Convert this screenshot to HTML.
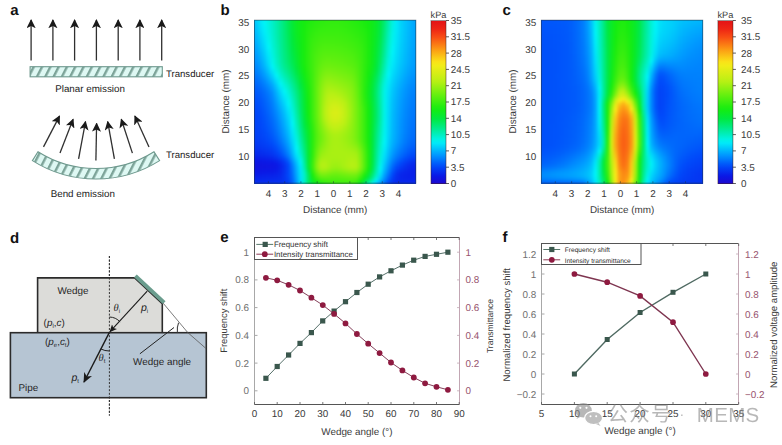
<!DOCTYPE html><html><head><meta charset="utf-8"><style>
html,body{margin:0;padding:0;background:#fff;}
body{width:782px;height:445px;position:relative;overflow:hidden;}
.hm{position:absolute;overflow:hidden;}
.hmi{position:absolute;filter:blur(0.8px);}
.hmi i{position:absolute;left:0;right:0;display:block;}
.cb{position:absolute;}
svg{position:absolute;left:0;top:0;}
text{font-family:'Liberation Sans',Arial,sans-serif;fill:#4a4a4a;text-rendering:geometricPrecision;}
.pl{font-size:15px;font-weight:bold;fill:#111;}
.t95{font-size:9.6px;fill:#1a1a1a;}
.t9{font-size:9.9px;fill:#262626;}
.mi{font-family:'Liberation Serif',serif;font-style:italic;}
.pi{font-style:italic;}
.t98{font-size:9.8px;fill:#1a1a1a;}
.tk{font-size:9.9px;fill:#3a3a3a;}
.tkc{font-size:9.2px;fill:#3a3a3a;}
.tkr{font-size:9.9px;fill:#98546e;}
.tkl{font-size:9.9px;fill:#707070;}
.lg{font-size:7.9px;fill:#333;}
.lg2{font-size:6.6px;fill:#2a2a2a;}
.wm{font-family:'Liberation Sans','Noto Sans CJK SC',sans-serif;font-weight:400;font-size:20.5px;letter-spacing:1.2px;fill:#8c8c8c;opacity:0.62;}
.wm2{font-family:'Liberation Sans',sans-serif;font-size:20.5px;letter-spacing:0.3px;fill:#8e8e8e;}
.wm3{font-family:'Liberation Sans',sans-serif;font-size:14px;letter-spacing:0;fill:#8e8e8e;}
</style></head><body>
<div class="hm" style="left:254px;top:20px;width:162px;height:164px"><div class="hmi" style="left:-6px;top:-6px;width:174px;height:176px"><i style="top:0px;height:2px;background:linear-gradient(90deg,#00bbfc 0.5px,#00bbfc 4.5px,#00cefb 8.5px,#00e7f9 12.5px,#00f4f4 16.5px,#00f2e0 20.5px,#00f0c9 24.5px,#00eeae 28.5px,#00ec92 32.5px,#00eb74 36.5px,#00ea54 40.5px,#05ea36 44.5px,#0deb22 48.5px,#11ec16 52.5px,#15ec0f 56.5px,#1cec0f 60.5px,#21ed0f 64.5px,#25ed0f 68.5px,#2aed0f 72.5px,#2ded0f 76.5px,#30ed0f 80.5px,#31ed0f 84.5px,#32ed0f 88.5px,#30ed0f 92.5px,#2eed0f 96.5px,#2aed0f 100.5px,#26ed0f 104.5px,#22ed0f 108.5px,#1dec0f 112.5px,#18ec0f 116.5px,#13ec12 120.5px,#10eb1a 124.5px,#0aea28 128.5px,#00e943 132.5px,#00eb71 136.5px,#00eda9 140.5px,#00f2df 144.5px,#00eaf9 148.5px,#00d5fa 152.5px,#00c6fc 156.5px,#00b9fd 160.5px,#00acfe 164.5px,#00a2fe 168.5px,#00a1fe 172.5px,#00a1fe 173.5px)"></i>
<i style="top:2px;height:2px;background:linear-gradient(90deg,#00bbfd 0.5px,#00bbfc 4.5px,#00cefb 8.5px,#00e7f9 12.5px,#00f4f4 16.5px,#00f2e0 20.5px,#00f0c9 24.5px,#00eeae 28.5px,#00ec92 32.5px,#00eb74 36.5px,#00ea54 40.5px,#05ea36 44.5px,#0deb22 48.5px,#11ec16 52.5px,#15ec0f 56.5px,#1cec0f 60.5px,#21ed0f 64.5px,#25ed0f 68.5px,#2aed0f 72.5px,#2ded0f 76.5px,#30ed0f 80.5px,#31ed0f 84.5px,#32ed0f 88.5px,#30ed0f 92.5px,#2eed0f 96.5px,#2aed0f 100.5px,#26ed0f 104.5px,#22ed0f 108.5px,#1dec0f 112.5px,#18ec0f 116.5px,#13ec12 120.5px,#10eb1a 124.5px,#0aea28 128.5px,#00e943 132.5px,#00eb71 136.5px,#00eda9 140.5px,#00f2df 144.5px,#00eaf9 148.5px,#00d5fa 152.5px,#00c6fc 156.5px,#00b9fd 160.5px,#00acfe 164.5px,#00a2fe 168.5px,#00a1ff 172.5px,#00a1ff 173.5px)"></i>
<i style="top:4px;height:2px;background:linear-gradient(90deg,#00bbfd 0.5px,#00bbfc 4.5px,#00cefb 8.5px,#00e7f9 12.5px,#00f4f4 16.5px,#00f2e0 20.5px,#00f0c9 24.5px,#00eeae 28.5px,#00ec92 32.5px,#00eb74 36.5px,#00ea54 40.5px,#05ea36 44.5px,#0ceb22 48.5px,#11ec16 52.5px,#15ec0f 56.5px,#1cec0f 60.5px,#21ed0f 64.5px,#26ed0f 68.5px,#2aed0f 72.5px,#2ded0f 76.5px,#30ed0f 80.5px,#31ed0f 84.5px,#32ed0f 88.5px,#30ed0f 92.5px,#2eed0f 96.5px,#2bed0f 100.5px,#26ed0f 104.5px,#22ed0f 108.5px,#1eec0f 112.5px,#18ec0f 116.5px,#13ec11 120.5px,#10eb1a 124.5px,#0aea28 128.5px,#00e943 132.5px,#00eb71 136.5px,#00eda9 140.5px,#00f2e0 144.5px,#00eaf9 148.5px,#00d5fa 152.5px,#00c6fc 156.5px,#00b9fd 160.5px,#00acfe 164.5px,#00a2fe 168.5px,#00a1ff 172.5px,#00a1ff 173.5px)"></i>
<i style="top:6px;height:2px;background:linear-gradient(90deg,#00bafd 0.5px,#00bafd 4.5px,#00cdfb 8.5px,#00e6f9 12.5px,#00f4f5 16.5px,#00f2e0 20.5px,#00f0c9 24.5px,#00eeaf 28.5px,#00ec92 32.5px,#00eb74 36.5px,#00ea54 40.5px,#05ea36 44.5px,#0ceb22 48.5px,#11ec16 52.5px,#15ec0f 56.5px,#1dec0f 60.5px,#22ed0f 64.5px,#27ed0f 68.5px,#2bed0f 72.5px,#2eed0f 76.5px,#31ed0f 80.5px,#32ed0f 84.5px,#32ed0f 88.5px,#31ed0f 92.5px,#2eed0f 96.5px,#2bed0f 100.5px,#27ed0f 104.5px,#23ed0f 108.5px,#1fec0f 112.5px,#19ec0f 116.5px,#13ec11 120.5px,#10eb1a 124.5px,#0aea28 128.5px,#00e943 132.5px,#00eb72 136.5px,#00edaa 140.5px,#00f2e0 144.5px,#00eaf9 148.5px,#00d4fa 152.5px,#00c6fc 156.5px,#00b9fd 160.5px,#00acfe 164.5px,#00a2fe 168.5px,#00a1ff 172.5px,#00a1ff 173.5px)"></i>
<i style="top:8px;height:2px;background:linear-gradient(90deg,#00b8fd 0.5px,#00b8fd 4.5px,#00cbfb 8.5px,#00e3f9 12.5px,#00f4f7 16.5px,#00f2e0 20.5px,#00f0c9 24.5px,#00eeaf 28.5px,#00ec92 32.5px,#00eb74 36.5px,#00ea54 40.5px,#05ea36 44.5px,#0ceb22 48.5px,#11ec16 52.5px,#16ec0f 56.5px,#1fec0f 60.5px,#24ed0f 64.5px,#29ed0f 68.5px,#2ded0f 72.5px,#30ed0f 76.5px,#32ed0f 80.5px,#33ed0f 84.5px,#33ed0f 88.5px,#32ed0f 92.5px,#30ed0f 96.5px,#2ded0f 100.5px,#29ed0f 104.5px,#25ed0f 108.5px,#20ed0f 112.5px,#1bec0f 116.5px,#14ec10 120.5px,#10eb1a 124.5px,#0aea29 128.5px,#00e944 132.5px,#00eb74 136.5px,#00eead 140.5px,#00f2e1 144.5px,#00eaf9 148.5px,#00d4fa 152.5px,#00c6fc 156.5px,#00b9fd 160.5px,#00acfe 164.5px,#00a2fe 168.5px,#00a1ff 172.5px,#00a1ff 173.5px)"></i>
<i style="top:10px;height:2px;background:linear-gradient(90deg,#00b6fd 0.5px,#00b6fd 4.5px,#00c8fb 8.5px,#00e1fa 12.5px,#00f3f8 16.5px,#00f2e1 20.5px,#00f0c9 24.5px,#00eeaf 28.5px,#00ec92 32.5px,#00eb74 36.5px,#00ea54 40.5px,#04ea36 44.5px,#0ceb22 48.5px,#11ec16 52.5px,#17ec0f 56.5px,#20ed0f 60.5px,#27ed0f 64.5px,#2ced0f 68.5px,#2fed0f 72.5px,#32ed0f 76.5px,#33ed0f 80.5px,#34ee0f 84.5px,#34ee0f 88.5px,#33ed0f 92.5px,#31ed0f 96.5px,#2eed0f 100.5px,#2bed0f 104.5px,#27ed0f 108.5px,#22ed0f 112.5px,#1dec0f 116.5px,#14ec0f 120.5px,#10eb1a 124.5px,#0aea29 128.5px,#00e945 132.5px,#00eb76 136.5px,#00eeaf 140.5px,#00f2e2 144.5px,#00e9f9 148.5px,#00d4fa 152.5px,#00c5fc 156.5px,#00b9fd 160.5px,#00acfe 164.5px,#00a2fe 168.5px,#00a1ff 172.5px,#00a1ff 173.5px)"></i>
<i style="top:12px;height:2px;background:linear-gradient(90deg,#00b4fd 0.5px,#00b4fd 4.5px,#00c6fc 8.5px,#00defa 12.5px,#00f1f8 16.5px,#00f2e2 20.5px,#00f0ca 24.5px,#00eeaf 28.5px,#00ec92 32.5px,#00eb75 36.5px,#00ea55 40.5px,#04ea36 44.5px,#0ceb23 48.5px,#11ec17 52.5px,#17ec0f 56.5px,#22ed0f 60.5px,#29ed0f 64.5px,#2eed0f 68.5px,#32ed0f 72.5px,#34ee0f 76.5px,#35ee0f 80.5px,#36ee0f 84.5px,#36ee0f 88.5px,#35ee0f 92.5px,#33ed0f 96.5px,#30ed0f 100.5px,#2ded0f 104.5px,#29ed0f 108.5px,#24ed0f 112.5px,#1eec0f 116.5px,#15ec0f 120.5px,#10eb1a 124.5px,#0aea29 128.5px,#00e946 132.5px,#00eb78 136.5px,#00eeb2 140.5px,#00f2e4 144.5px,#00e9f9 148.5px,#00d4fb 152.5px,#00c5fc 156.5px,#00b8fd 160.5px,#00acfe 164.5px,#00a2fe 168.5px,#00a1ff 172.5px,#00a1ff 173.5px)"></i>
<i style="top:14px;height:2px;background:linear-gradient(90deg,#00b2fd 0.5px,#00b2fd 4.5px,#00c3fc 8.5px,#00dcfa 12.5px,#00eff8 16.5px,#00f2e3 20.5px,#00f0cb 24.5px,#00eeb0 28.5px,#00ec93 32.5px,#00eb75 36.5px,#00ea55 40.5px,#04ea37 44.5px,#0ceb23 48.5px,#11ec17 52.5px,#18ec0f 56.5px,#23ed0f 60.5px,#2bed0f 64.5px,#30ed0f 68.5px,#34ee0f 72.5px,#36ee0f 76.5px,#37ee0f 80.5px,#37ee0f 84.5px,#37ee0f 88.5px,#36ee0f 92.5px,#34ee0f 96.5px,#32ed0f 100.5px,#2fed0f 104.5px,#2bed0f 108.5px,#26ed0f 112.5px,#20ed0f 116.5px,#16ec0f 120.5px,#10eb1a 124.5px,#09ea2a 128.5px,#00e947 132.5px,#00eb7a 136.5px,#00eeb4 140.5px,#00f2e5 144.5px,#00e8f9 148.5px,#00d4fb 152.5px,#00c5fc 156.5px,#00b8fd 160.5px,#00abfe 164.5px,#00a2fe 168.5px,#00a1ff 172.5px,#00a1ff 173.5px)"></i>
<i style="top:16px;height:2px;background:linear-gradient(90deg,#00b0fd 0.5px,#00b0fd 4.5px,#00c1fc 8.5px,#00d9fa 12.5px,#00edf9 16.5px,#00f2e5 20.5px,#00f0cc 24.5px,#00eeb1 28.5px,#00ec93 32.5px,#00eb76 36.5px,#00ea56 40.5px,#04ea38 44.5px,#0ceb24 48.5px,#11ec17 52.5px,#18ec0f 56.5px,#25ed0f 60.5px,#2ded0f 64.5px,#33ed0f 68.5px,#36ee0f 72.5px,#38ee0f 76.5px,#39ee0f 80.5px,#39ee0f 84.5px,#39ee0f 88.5px,#38ee0f 92.5px,#36ee0f 96.5px,#33ed0f 100.5px,#31ed0f 104.5px,#2ded0f 108.5px,#28ed0f 112.5px,#22ed0f 116.5px,#17ec0f 120.5px,#10eb1a 124.5px,#09ea2a 128.5px,#00e948 132.5px,#00eb7c 136.5px,#00eeb7 140.5px,#00f2e6 144.5px,#00e8f9 148.5px,#00d3fb 152.5px,#00c5fc 156.5px,#00b8fd 160.5px,#00abfe 164.5px,#00a1fe 168.5px,#00a1ff 172.5px,#00a1ff 173.5px)"></i>
<i style="top:18px;height:2px;background:linear-gradient(90deg,#00adfe 0.5px,#00aefe 4.5px,#00befc 8.5px,#00d6fa 12.5px,#00ebf9 16.5px,#00f2e7 20.5px,#00f0cd 24.5px,#00eeb1 28.5px,#00ec94 32.5px,#00eb76 36.5px,#00ea57 40.5px,#03ea38 44.5px,#0beb24 48.5px,#11ec17 52.5px,#19ec0f 56.5px,#26ed0f 60.5px,#2fed0f 64.5px,#35ee0f 68.5px,#39ee0f 72.5px,#3aee0f 76.5px,#3bee0f 80.5px,#3bee0f 84.5px,#3bee0f 88.5px,#3aee0f 92.5px,#38ee0f 96.5px,#35ee0f 100.5px,#33ed0f 104.5px,#2fed0f 108.5px,#2aed0f 112.5px,#23ed0f 116.5px,#18ec0f 120.5px,#10eb1a 124.5px,#09ea2b 128.5px,#00e949 132.5px,#00eb7e 136.5px,#00efba 140.5px,#00f3e8 144.5px,#00e7f9 148.5px,#00d3fb 152.5px,#00c4fc 156.5px,#00b7fd 160.5px,#00abfe 164.5px,#00a1ff 168.5px,#00a1ff 172.5px,#00a1ff 173.5px)"></i>
<i style="top:20px;height:2px;background:linear-gradient(90deg,#00abfe 0.5px,#00abfe 4.5px,#00bbfc 8.5px,#00d3fb 12.5px,#00e9f9 16.5px,#00f3e9 20.5px,#00f0ce 24.5px,#00eeb2 28.5px,#00ec95 32.5px,#00eb77 36.5px,#00ea58 40.5px,#03e939 44.5px,#0beb25 48.5px,#11ec17 52.5px,#19ec0f 56.5px,#27ed0f 60.5px,#31ed0f 64.5px,#37ee0f 68.5px,#3bee0f 72.5px,#3dee0f 76.5px,#3dee0f 80.5px,#3dee0f 84.5px,#3dee0f 88.5px,#3cee0f 92.5px,#3aee0f 96.5px,#37ee0f 100.5px,#35ee0f 104.5px,#31ed0f 108.5px,#2ced0f 112.5px,#25ed0f 116.5px,#19ec0f 120.5px,#10eb1a 124.5px,#09ea2b 128.5px,#00e94b 132.5px,#00eb81 136.5px,#00efbc 140.5px,#00f3e9 144.5px,#00e6f9 148.5px,#00d2fb 152.5px,#00c4fc 156.5px,#00b7fd 160.5px,#00aafe 164.5px,#00a1ff 168.5px,#00a0ff 172.5px,#00a0ff 173.5px)"></i>
<i style="top:22px;height:2px;background:linear-gradient(90deg,#00a9fe 0.5px,#00a9fe 4.5px,#00b9fd 8.5px,#00d0fb 12.5px,#00e6f9 16.5px,#00f3eb 20.5px,#00f1cf 24.5px,#00eeb3 28.5px,#00ec95 32.5px,#00eb78 36.5px,#00ea59 40.5px,#03e93a 44.5px,#0beb26 48.5px,#11eb17 52.5px,#19ec0f 56.5px,#28ed0f 60.5px,#33ed0f 64.5px,#39ee0f 68.5px,#3dee0f 72.5px,#3fee0f 76.5px,#3fee0f 80.5px,#3fee0f 84.5px,#3fee0f 88.5px,#3eee0f 92.5px,#3cee0f 96.5px,#3aee0f 100.5px,#37ee0f 104.5px,#33ed0f 108.5px,#2eed0f 112.5px,#26ed0f 116.5px,#19ec0f 120.5px,#10eb1a 124.5px,#08ea2c 128.5px,#00e94d 132.5px,#00eb83 136.5px,#00efbf 140.5px,#00f3eb 144.5px,#00e5f9 148.5px,#00d2fb 152.5px,#00c3fc 156.5px,#00b6fd 160.5px,#00aafe 164.5px,#00a1ff 168.5px,#00a0ff 172.5px,#00a0ff 173.5px)"></i>
<i style="top:24px;height:2px;background:linear-gradient(90deg,#00a7fe 0.5px,#00a7fe 4.5px,#00b6fd 8.5px,#00cdfb 12.5px,#00e3f9 16.5px,#00f3ed 20.5px,#00f1d1 24.5px,#00eeb4 28.5px,#00ec96 32.5px,#00eb79 36.5px,#00ea5a 40.5px,#02e93b 44.5px,#0aeb27 48.5px,#11eb18 52.5px,#19ec0f 56.5px,#29ed0f 60.5px,#35ee0f 64.5px,#3bee0f 68.5px,#40ee0f 72.5px,#42ee0f 76.5px,#42ee0f 80.5px,#42ee0f 84.5px,#41ee0f 88.5px,#40ee0f 92.5px,#3eee0f 96.5px,#3cee0f 100.5px,#39ee0f 104.5px,#35ee0f 108.5px,#2fed0f 112.5px,#27ed0f 116.5px,#1aec0f 120.5px,#10eb1a 124.5px,#08ea2d 128.5px,#00e94f 132.5px,#00eb86 136.5px,#00efc2 140.5px,#00f3ec 144.5px,#00e5f9 148.5px,#00d1fb 152.5px,#00c3fc 156.5px,#00b6fd 160.5px,#00a9fe 164.5px,#00a0ff 168.5px,#00a0ff 172.5px,#00a0ff 173.5px)"></i>
<i style="top:26px;height:2px;background:linear-gradient(90deg,#00a4fe 0.5px,#00a5fe 4.5px,#00b3fd 8.5px,#00cafb 12.5px,#00e1fa 16.5px,#00f3f0 20.5px,#00f1d3 24.5px,#00eeb6 28.5px,#00ec97 32.5px,#00eb7a 36.5px,#00ea5b 40.5px,#02e93c 44.5px,#0aeb28 48.5px,#10eb18 52.5px,#1aec0f 56.5px,#2aed0f 60.5px,#36ee0f 64.5px,#3dee0f 68.5px,#42ee0f 72.5px,#44ee0f 76.5px,#44ee0f 80.5px,#44ee0f 84.5px,#43ee0f 88.5px,#42ee0f 92.5px,#40ee0f 96.5px,#3eee0f 100.5px,#3bee0f 104.5px,#37ee0f 108.5px,#31ed0f 112.5px,#28ed0f 116.5px,#1aec0f 120.5px,#10eb1a 124.5px,#08ea2e 128.5px,#00ea50 132.5px,#00eb88 136.5px,#00f0c4 140.5px,#00f3ee 144.5px,#00e4f9 148.5px,#00d1fb 152.5px,#00c2fc 156.5px,#00b5fd 160.5px,#00a9fe 164.5px,#00a0ff 168.5px,#009fff 172.5px,#009fff 173.5px)"></i>
<i style="top:28px;height:2px;background:linear-gradient(90deg,#00a2fe 0.5px,#00a2fe 4.5px,#00b0fd 8.5px,#00c7fc 12.5px,#00defa 16.5px,#00f4f3 20.5px,#00f1d5 24.5px,#00eeb7 28.5px,#00ec98 32.5px,#00eb7b 36.5px,#00ea5d 40.5px,#01e93d 44.5px,#0aea29 48.5px,#10eb18 52.5px,#1aec0f 56.5px,#2aed0f 60.5px,#38ee0f 64.5px,#3fee0f 68.5px,#44ee0f 72.5px,#47ee0f 76.5px,#47ee0f 80.5px,#47ee0f 84.5px,#46ee0f 88.5px,#45ee0f 92.5px,#43ee0f 96.5px,#40ee0f 100.5px,#3dee0f 104.5px,#39ee0f 108.5px,#33ed0f 112.5px,#29ed0f 116.5px,#1bec0f 120.5px,#10eb1a 124.5px,#07ea2f 128.5px,#00ea53 132.5px,#00eb8b 136.5px,#00f0c7 140.5px,#00f3f0 144.5px,#00e3f9 148.5px,#00d0fb 152.5px,#00c1fc 156.5px,#00b4fd 160.5px,#00a8fe 164.5px,#00a0ff 168.5px,#009fff 172.5px,#009fff 173.5px)"></i>
<i style="top:30px;height:2px;background:linear-gradient(90deg,#00a0ff 0.5px,#00a0ff 4.5px,#00adfe 8.5px,#00c4fc 12.5px,#00dbfa 16.5px,#00f4f5 20.5px,#00f1d7 24.5px,#00efb8 28.5px,#00ec99 32.5px,#00eb7c 36.5px,#00ea5e 40.5px,#01e93f 44.5px,#09ea2a 48.5px,#10eb19 52.5px,#1aec0f 56.5px,#2bed0f 60.5px,#39ee0f 64.5px,#41ee0f 68.5px,#47ee0f 72.5px,#4aef0f 76.5px,#4aef0f 80.5px,#49ef0f 84.5px,#49ee0f 88.5px,#47ee0f 92.5px,#45ee0f 96.5px,#43ee0f 100.5px,#40ee0f 104.5px,#3bee0f 108.5px,#34ee0f 112.5px,#2aed0f 116.5px,#1bec0f 120.5px,#10eb1a 124.5px,#07ea30 128.5px,#00ea55 132.5px,#00ec8e 136.5px,#00f0ca 140.5px,#00f3f2 144.5px,#00e2f9 148.5px,#00cffb 152.5px,#00c0fc 156.5px,#00b4fd 160.5px,#00a8fe 164.5px,#009fff 168.5px,#009fff 172.5px,#009fff 173.5px)"></i>
<i style="top:32px;height:2px;background:linear-gradient(90deg,#009dff 0.5px,#009dff 4.5px,#00aafe 8.5px,#00c1fc 12.5px,#00d8fa 16.5px,#00f4f8 20.5px,#00f1d9 24.5px,#00efba 28.5px,#00ec9b 32.5px,#00eb7d 36.5px,#00ea5f 40.5px,#00e940 44.5px,#09ea2b 48.5px,#10eb19 52.5px,#1aec0f 56.5px,#2ced0f 60.5px,#3aee0f 64.5px,#43ee0f 68.5px,#49ee0f 72.5px,#4cef0f 76.5px,#4cef0f 80.5px,#4cef0f 84.5px,#4bef0f 88.5px,#4aef0f 92.5px,#48ee0f 96.5px,#45ee0f 100.5px,#42ee0f 104.5px,#3dee0f 108.5px,#36ee0f 112.5px,#2bed0f 116.5px,#1bec0f 120.5px,#0feb1a 124.5px,#07ea31 128.5px,#00ea57 132.5px,#00ec91 136.5px,#00f0cc 140.5px,#00f4f4 144.5px,#00e1fa 148.5px,#00cefb 152.5px,#00c0fc 156.5px,#00b3fd 160.5px,#00a7fe 164.5px,#009fff 168.5px,#009eff 172.5px,#009eff 173.5px)"></i>
<i style="top:34px;height:2px;background:linear-gradient(90deg,#009bff 0.5px,#009bff 4.5px,#00a7fe 8.5px,#00bdfc 12.5px,#00d5fa 16.5px,#00f1f8 20.5px,#00f2db 24.5px,#00efbc 28.5px,#00ec9c 32.5px,#00eb7e 36.5px,#00ea61 40.5px,#00e942 44.5px,#08ea2d 48.5px,#10eb19 52.5px,#1aec0f 56.5px,#2ced0f 60.5px,#3bee0f 64.5px,#45ee0f 68.5px,#4cef0f 72.5px,#4fef0f 76.5px,#4fef0f 80.5px,#4fef0f 84.5px,#4eef0f 88.5px,#4cef0f 92.5px,#4aef0f 96.5px,#47ee0f 100.5px,#44ee0f 104.5px,#3fee0f 108.5px,#37ee0f 112.5px,#2ced0f 116.5px,#1cec0f 120.5px,#0feb1b 124.5px,#06ea32 128.5px,#00ea59 132.5px,#00ec93 136.5px,#00f0cf 140.5px,#00f4f5 144.5px,#00dffa 148.5px,#00cefb 152.5px,#00bffc 156.5px,#00b2fd 160.5px,#00a6fe 164.5px,#009eff 168.5px,#009eff 172.5px,#009eff 173.5px)"></i>
<i style="top:36px;height:2px;background:linear-gradient(90deg,#0098ff 0.5px,#0098ff 4.5px,#00a4fe 8.5px,#00bafd 12.5px,#00d1fb 16.5px,#00eef8 20.5px,#00f2dd 24.5px,#00efbd 28.5px,#00ec9d 32.5px,#00eb80 36.5px,#00ea63 40.5px,#00e944 44.5px,#08ea2e 48.5px,#10eb1a 52.5px,#1aec0f 56.5px,#2ced0f 60.5px,#3cee0f 64.5px,#47ee0f 68.5px,#4eef0f 72.5px,#52ef0f 76.5px,#52ef0f 80.5px,#52ef0f 84.5px,#51ef0f 88.5px,#4fef0f 92.5px,#4def0f 96.5px,#4aef0f 100.5px,#47ee0f 104.5px,#41ee0f 108.5px,#39ee0f 112.5px,#2ded0f 116.5px,#1cec0f 120.5px,#0feb1b 124.5px,#06ea33 128.5px,#00ea5c 132.5px,#00ec96 136.5px,#00f1d2 140.5px,#00f4f7 144.5px,#00defa 148.5px,#00cdfb 152.5px,#00befc 156.5px,#00b1fd 160.5px,#00a6fe 164.5px,#009eff 168.5px,#009dff 172.5px,#009dff 173.5px)"></i>
<i style="top:38px;height:2px;background:linear-gradient(90deg,#0095ff 0.5px,#0096ff 4.5px,#00a1ff 8.5px,#00b6fd 12.5px,#00cefb 16.5px,#00ebf9 20.5px,#00f2e0 24.5px,#00efbf 28.5px,#00ec9f 32.5px,#00eb81 36.5px,#00ea65 40.5px,#00e946 44.5px,#07ea2f 48.5px,#0feb1a 52.5px,#1aec0f 56.5px,#2ded0f 60.5px,#3dee0f 64.5px,#48ee0f 68.5px,#50ef0f 72.5px,#55ef0f 76.5px,#55ef0f 80.5px,#55ef0f 84.5px,#54ef0f 88.5px,#52ef0f 92.5px,#4fef0f 96.5px,#4def0f 100.5px,#49ee0f 104.5px,#43ee0f 108.5px,#3aee0f 112.5px,#2ded0f 116.5px,#1cec0f 120.5px,#0feb1b 124.5px,#05ea34 128.5px,#00ea5e 132.5px,#00ec99 136.5px,#00f1d5 140.5px,#00f3f8 144.5px,#00ddfa 148.5px,#00ccfb 152.5px,#00bdfc 156.5px,#00b0fd 160.5px,#00a5fe 164.5px,#009dff 168.5px,#009dff 172.5px,#009dff 173.5px)"></i>
<i style="top:40px;height:2px;background:linear-gradient(90deg,#0093fe 0.5px,#0093fe 4.5px,#009eff 8.5px,#00b3fd 12.5px,#00cbfb 16.5px,#00e8f9 20.5px,#00f2e2 24.5px,#00efc1 28.5px,#00eca0 32.5px,#00eb83 36.5px,#00ea66 40.5px,#00e949 44.5px,#06ea31 48.5px,#0feb1b 52.5px,#1aec0f 56.5px,#2ded0f 60.5px,#3eee0f 64.5px,#4aef0f 68.5px,#53ef0f 72.5px,#58ef0f 76.5px,#58ef0f 80.5px,#58ef0f 84.5px,#57ef0f 88.5px,#55ef0f 92.5px,#52ef0f 96.5px,#4fef0f 100.5px,#4cef0f 104.5px,#45ee0f 108.5px,#3bee0f 112.5px,#2eed0f 116.5px,#1cec0f 120.5px,#0feb1b 124.5px,#05ea35 128.5px,#00ea60 132.5px,#00ec9c 136.5px,#00f1d7 140.5px,#00f1f8 144.5px,#00dcfa 148.5px,#00cbfb 152.5px,#00bcfc 156.5px,#00affd 160.5px,#00a4fe 164.5px,#009dff 168.5px,#009dff 172.5px,#009dff 173.5px)"></i>
<i style="top:42px;height:2px;background:linear-gradient(90deg,#0090fe 0.5px,#0090fe 4.5px,#009bff 8.5px,#00affd 12.5px,#00c7fc 16.5px,#00e5f9 20.5px,#00f2e5 24.5px,#00efc3 28.5px,#00eda2 32.5px,#00eb84 36.5px,#00ea68 40.5px,#00e94b 44.5px,#06ea32 48.5px,#0feb1b 52.5px,#1aec0f 56.5px,#2ded0f 60.5px,#3eee0f 64.5px,#4bef0f 68.5px,#55ef0f 72.5px,#5bef0f 76.5px,#5cef0f 80.5px,#5bef0f 84.5px,#5aef0f 88.5px,#58ef0f 92.5px,#55ef0f 96.5px,#52ef0f 100.5px,#4eef0f 104.5px,#47ee0f 108.5px,#3cee0f 112.5px,#2eed0f 116.5px,#1cec0f 120.5px,#0feb1b 124.5px,#04ea36 128.5px,#00ea63 132.5px,#00ec9f 136.5px,#00f1da 140.5px,#00eff8 144.5px,#00dbfa 148.5px,#00cafb 152.5px,#00bbfc 156.5px,#00affd 160.5px,#00a4fe 164.5px,#009cff 168.5px,#009cff 172.5px,#009cff 173.5px)"></i>
<i style="top:44px;height:2px;background:linear-gradient(90deg,#008dfe 0.5px,#008efe 4.5px,#0098ff 8.5px,#00acfe 12.5px,#00c4fc 16.5px,#00e2f9 20.5px,#00f3e8 24.5px,#00f0c5 28.5px,#00eda4 32.5px,#00eb86 36.5px,#00ea6a 40.5px,#00e94e 44.5px,#05ea34 48.5px,#0feb1c 52.5px,#1aec0f 56.5px,#2ded0f 60.5px,#3fee0f 64.5px,#4def0f 68.5px,#58ef0f 72.5px,#5eef0f 76.5px,#5ff00f 80.5px,#5eef0f 84.5px,#5def0f 88.5px,#5bef0f 92.5px,#58ef0f 96.5px,#55ef0f 100.5px,#51ef0f 104.5px,#49ee0f 108.5px,#3dee0f 112.5px,#2eed0f 116.5px,#1cec0f 120.5px,#0feb1c 124.5px,#04ea38 128.5px,#00ea65 132.5px,#00eda3 136.5px,#00f2dd 140.5px,#00eef8 144.5px,#00d9fa 148.5px,#00c9fb 152.5px,#00bafd 156.5px,#00aefe 160.5px,#00a3fe 164.5px,#009cff 168.5px,#009cff 172.5px,#009cff 173.5px)"></i>
<i style="top:46px;height:2px;background:linear-gradient(90deg,#008bfe 0.5px,#008bfe 4.5px,#0095ff 8.5px,#00a8fe 12.5px,#00c0fc 16.5px,#00dffa 20.5px,#00f3eb 24.5px,#00f0c7 28.5px,#00eda5 32.5px,#00eb88 36.5px,#00ea6c 40.5px,#00ea50 44.5px,#05ea35 48.5px,#0feb1c 52.5px,#1aec0f 56.5px,#2ded0f 60.5px,#3fee0f 64.5px,#4eef0f 68.5px,#5aef0f 72.5px,#61f00f 76.5px,#62f00f 80.5px,#61f00f 84.5px,#60f00f 88.5px,#5eef0f 92.5px,#5bef0f 96.5px,#57ef0f 100.5px,#53ef0f 104.5px,#4bef0f 108.5px,#3fee0f 112.5px,#2fed0f 116.5px,#1cec0f 120.5px,#0feb1c 124.5px,#03e939 128.5px,#00ea68 132.5px,#00eda6 136.5px,#00f2e0 140.5px,#00ecf9 144.5px,#00d8fa 148.5px,#00c8fb 152.5px,#00bafd 156.5px,#00adfe 160.5px,#00a2fe 164.5px,#009bff 168.5px,#009bff 172.5px,#009bff 173.5px)"></i>
<i style="top:48px;height:2px;background:linear-gradient(90deg,#0088fe 0.5px,#0088fe 4.5px,#0091fe 8.5px,#00a4fe 12.5px,#00bcfc 16.5px,#00dcfa 20.5px,#00f3ee 24.5px,#00f0ca 28.5px,#00eda8 32.5px,#00eb8a 36.5px,#00eb6f 40.5px,#00ea53 44.5px,#04ea37 48.5px,#0eeb1d 52.5px,#1aec0f 56.5px,#2ded0f 60.5px,#3fee0f 64.5px,#50ef0f 68.5px,#5def0f 72.5px,#64f00f 76.5px,#66f00f 80.5px,#65f00f 84.5px,#63f00f 88.5px,#61f00f 92.5px,#5eef0f 96.5px,#5aef0f 100.5px,#56ef0f 104.5px,#4def0f 108.5px,#40ee0f 112.5px,#2fed0f 116.5px,#1cec0f 120.5px,#0feb1c 124.5px,#03e93a 128.5px,#00ea6b 132.5px,#00eda9 136.5px,#00f2e3 140.5px,#00eaf9 144.5px,#00d7fa 148.5px,#00c7fc 152.5px,#00b8fd 156.5px,#00abfe 160.5px,#00a1ff 164.5px,#009bff 168.5px,#009aff 172.5px,#009aff 173.5px)"></i>
<i style="top:50px;height:2px;background:linear-gradient(90deg,#0085fe 0.5px,#0085fe 4.5px,#008efe 8.5px,#00a0ff 12.5px,#00b8fd 16.5px,#00d7fa 20.5px,#00f4f3 24.5px,#00f0cf 28.5px,#00edac 32.5px,#00ec8e 36.5px,#00eb73 40.5px,#00ea57 44.5px,#03e939 48.5px,#0eeb1f 52.5px,#19ec0f 56.5px,#2ded0f 60.5px,#3fee0f 64.5px,#51ef0f 68.5px,#5ff00f 72.5px,#68f00f 76.5px,#6af00f 80.5px,#69f00f 84.5px,#67f00f 88.5px,#64f00f 92.5px,#61f00f 96.5px,#5def0f 100.5px,#59ef0f 104.5px,#4fef0f 108.5px,#40ee0f 112.5px,#2eed0f 116.5px,#1bec0f 120.5px,#0eeb1d 124.5px,#02e93c 128.5px,#00eb6f 132.5px,#00eeae 136.5px,#00f2e6 140.5px,#00e8f9 144.5px,#00d5fa 148.5px,#00c5fc 152.5px,#00b7fd 156.5px,#00aafe 160.5px,#00a0ff 164.5px,#009aff 168.5px,#0099ff 172.5px,#0099ff 173.5px)"></i>
<i style="top:52px;height:2px;background:linear-gradient(90deg,#0082fd 0.5px,#0082fd 4.5px,#008afe 8.5px,#009cff 12.5px,#00b3fd 16.5px,#00d2fb 20.5px,#00f2f8 24.5px,#00f1d4 28.5px,#00eeb1 32.5px,#00ec92 36.5px,#00eb78 40.5px,#00ea5c 44.5px,#02e93c 48.5px,#0deb21 52.5px,#17ec0f 56.5px,#2ced0f 60.5px,#3fee0f 64.5px,#53ef0f 68.5px,#62f00f 72.5px,#6cf00f 76.5px,#6ef00f 80.5px,#6df00f 84.5px,#6bf00f 88.5px,#68f00f 92.5px,#65f00f 96.5px,#61f00f 100.5px,#5cef0f 104.5px,#51ef0f 108.5px,#41ee0f 112.5px,#2eed0f 116.5px,#1aec0f 120.5px,#0eeb1f 124.5px,#01e93f 128.5px,#00eb73 132.5px,#00eeb2 136.5px,#00f3ea 140.5px,#00e6f9 144.5px,#00d3fb 148.5px,#00c3fc 152.5px,#00b5fd 156.5px,#00a8fe 160.5px,#009eff 164.5px,#0098ff 168.5px,#0098ff 172.5px,#0098ff 173.5px)"></i>
<i style="top:54px;height:2px;background:linear-gradient(90deg,#007efd 0.5px,#007efd 4.5px,#0086fe 8.5px,#0097ff 12.5px,#00adfe 16.5px,#00cbfb 20.5px,#00ecf9 24.5px,#00f2db 28.5px,#00eeb7 32.5px,#00ec98 36.5px,#00eb7d 40.5px,#00ea61 44.5px,#01e93f 48.5px,#0ceb24 52.5px,#16ec0f 56.5px,#2bed0f 60.5px,#3fee0f 64.5px,#54ef0f 68.5px,#65f00f 72.5px,#70f00f 76.5px,#73f010 80.5px,#72f010 84.5px,#6ff00f 88.5px,#6cf00f 92.5px,#69f00f 96.5px,#65f00f 100.5px,#5ff00f 104.5px,#54ef0f 108.5px,#42ee0f 112.5px,#2eed0f 116.5px,#19ec0f 120.5px,#0deb21 124.5px,#00e941 128.5px,#00eb78 132.5px,#00eeb7 136.5px,#00f3ed 140.5px,#00e3f9 144.5px,#00d1fb 148.5px,#00c1fc 152.5px,#00b3fd 156.5px,#00a6fe 160.5px,#009dff 164.5px,#0097ff 168.5px,#0097ff 172.5px,#0097ff 173.5px)"></i>
<i style="top:56px;height:2px;background:linear-gradient(90deg,#007bfd 0.5px,#007bfd 4.5px,#0082fd 8.5px,#0092fe 12.5px,#00a8fe 16.5px,#00c5fc 20.5px,#00e4f9 24.5px,#00f2e3 28.5px,#00efbe 32.5px,#00ec9f 36.5px,#00eb84 40.5px,#00ea67 44.5px,#00e944 48.5px,#0beb27 52.5px,#14ec10 56.5px,#2aed0f 60.5px,#3fee0f 64.5px,#56ef0f 68.5px,#68f00f 72.5px,#75f010 76.5px,#79f010 80.5px,#77f010 84.5px,#74f010 88.5px,#71f00f 92.5px,#6df00f 96.5px,#68f00f 100.5px,#63f00f 104.5px,#56ef0f 108.5px,#43ee0f 112.5px,#2ded0f 116.5px,#17ec0f 120.5px,#0ceb23 124.5px,#00e946 128.5px,#00eb7e 132.5px,#00efbc 136.5px,#00f3f1 140.5px,#00e0fa 144.5px,#00cefb 148.5px,#00bffc 152.5px,#00b1fd 156.5px,#00a4fe 160.5px,#009bff 164.5px,#0095ff 168.5px,#0095ff 172.5px,#0095ff 173.5px)"></i>
<i style="top:58px;height:2px;background:linear-gradient(90deg,#0078fd 0.5px,#0078fd 4.5px,#007efd 8.5px,#008dfe 12.5px,#00a2fe 16.5px,#00befc 20.5px,#00ddfa 24.5px,#00f3ec 28.5px,#00f0c6 32.5px,#00eda7 36.5px,#00eb8b 40.5px,#00ea6d 44.5px,#00e949 48.5px,#09ea2a 52.5px,#13ec12 56.5px,#28ed0f 60.5px,#3eee0f 64.5px,#57ef0f 68.5px,#6cf00f 72.5px,#7af010 76.5px,#7ef010 80.5px,#7cf010 84.5px,#79f010 88.5px,#75f010 92.5px,#71f010 96.5px,#6cf00f 100.5px,#66f00f 104.5px,#58ef0f 108.5px,#44ee0f 112.5px,#2ded0f 116.5px,#15ec0f 120.5px,#0beb26 124.5px,#00e94b 128.5px,#00eb83 132.5px,#00efc2 136.5px,#00f4f5 140.5px,#00defa 144.5px,#00ccfb 148.5px,#00bdfc 152.5px,#00aefd 156.5px,#00a2fe 160.5px,#0099ff 164.5px,#0094ff 168.5px,#0093ff 172.5px,#0093ff 173.5px)"></i>
<i style="top:60px;height:2px;background:linear-gradient(90deg,#0074fd 0.5px,#0074fd 4.5px,#007afd 8.5px,#0088fe 12.5px,#009cff 16.5px,#00b6fd 20.5px,#00d4fb 24.5px,#00f4f5 28.5px,#00f0cf 32.5px,#00eeaf 36.5px,#00ec92 40.5px,#00eb74 44.5px,#00e94f 48.5px,#08ea2e 52.5px,#12ec15 56.5px,#27ed0f 60.5px,#3eee0f 64.5px,#58ef0f 68.5px,#6ff00f 72.5px,#7ef010 76.5px,#84f011 80.5px,#81f011 84.5px,#7ef010 88.5px,#7af010 92.5px,#76f010 96.5px,#71f00f 100.5px,#6af00f 104.5px,#5bef0f 108.5px,#44ee0f 112.5px,#2ded0f 116.5px,#14ec0f 120.5px,#0aea29 124.5px,#00e950 128.5px,#00eb89 132.5px,#00f0c7 136.5px,#00f4f8 140.5px,#00dbfa 144.5px,#00c9fb 148.5px,#00bafd 152.5px,#00acfe 156.5px,#009fff 160.5px,#0096ff 164.5px,#0092fe 168.5px,#0092fe 172.5px,#0092fe 173.5px)"></i>
<i style="top:62px;height:2px;background:linear-gradient(90deg,#0071fc 0.5px,#0071fc 4.5px,#0075fd 8.5px,#0083fd 12.5px,#0096ff 16.5px,#00affd 20.5px,#00ccfb 24.5px,#00eef8 28.5px,#00f1d7 32.5px,#00eeb8 36.5px,#00ec9a 40.5px,#00eb7a 44.5px,#00ea55 48.5px,#06ea32 52.5px,#11ec17 56.5px,#25ed0f 60.5px,#3eee0f 64.5px,#5aef0f 68.5px,#72f010 72.5px,#83f011 76.5px,#89f011 80.5px,#87f011 84.5px,#83f011 88.5px,#7ff010 92.5px,#7af010 96.5px,#75f010 100.5px,#6ef00f 104.5px,#5def0f 108.5px,#45ee0f 112.5px,#2ced0f 116.5px,#13ec11 120.5px,#08ea2c 124.5px,#00ea55 128.5px,#00ec8f 132.5px,#00f0cd 136.5px,#00f1f8 140.5px,#00d8fa 144.5px,#00c7fc 148.5px,#00b7fd 152.5px,#00a9fe 156.5px,#009dff 160.5px,#0094ff 164.5px,#0090fe 168.5px,#0090fe 172.5px,#0090fe 173.5px)"></i>
<i style="top:64px;height:2px;background:linear-gradient(90deg,#006dfc 0.5px,#006dfc 4.5px,#0071fc 8.5px,#007efd 12.5px,#008ffe 16.5px,#00a7fe 20.5px,#00c3fc 24.5px,#00e5f9 28.5px,#00f2e1 32.5px,#00efc1 36.5px,#00eda3 40.5px,#00eb82 44.5px,#00ea5c 48.5px,#04ea36 52.5px,#10eb1a 56.5px,#24ed0f 60.5px,#3eee0f 64.5px,#5bef0f 68.5px,#75f010 72.5px,#88f011 76.5px,#8ff011 80.5px,#8df011 84.5px,#89f011 88.5px,#84f011 92.5px,#7ff010 96.5px,#79f010 100.5px,#71f010 104.5px,#5ff00f 108.5px,#46ee0f 112.5px,#2ced0f 116.5px,#13ec13 120.5px,#07ea2f 124.5px,#00ea5a 128.5px,#00ec95 132.5px,#00f1d2 136.5px,#00eef8 140.5px,#00d5fa 144.5px,#00c4fc 148.5px,#00b5fd 152.5px,#00a6fe 156.5px,#009aff 160.5px,#0092fe 164.5px,#008efe 168.5px,#008efe 172.5px,#008efe 173.5px)"></i>
<i style="top:66px;height:2px;background:linear-gradient(90deg,#006afc 0.5px,#006afc 4.5px,#006dfc 8.5px,#0079fd 12.5px,#0089fe 16.5px,#00a0ff 20.5px,#00bafd 24.5px,#00ddfa 28.5px,#00f3ea 32.5px,#00f0ca 36.5px,#00edab 40.5px,#00eb89 44.5px,#00ea62 48.5px,#03e93a 52.5px,#0eeb1d 56.5px,#22ed0f 60.5px,#3dee0f 64.5px,#5cef0f 68.5px,#78f010 72.5px,#8df011 76.5px,#95f012 80.5px,#92f012 84.5px,#8ef011 88.5px,#89f011 92.5px,#84f011 96.5px,#7ef010 100.5px,#75f010 104.5px,#61f00f 108.5px,#47ee0f 112.5px,#2bed0f 116.5px,#12ec14 120.5px,#06ea31 124.5px,#00ea5e 128.5px,#00ec9a 132.5px,#00f1d7 136.5px,#00ebf9 140.5px,#00d3fb 144.5px,#00c1fc 148.5px,#00b2fd 152.5px,#00a4fe 156.5px,#0098ff 160.5px,#0090fe 164.5px,#008cfe 168.5px,#008cfe 172.5px,#008cfe 173.5px)"></i>
<i style="top:68px;height:2px;background:linear-gradient(90deg,#0066fc 0.5px,#0066fc 4.5px,#0069fc 8.5px,#0074fd 12.5px,#0084fe 16.5px,#0098ff 20.5px,#00b2fd 24.5px,#00d5fa 28.5px,#00f4f4 32.5px,#00f1d3 36.5px,#00eeb4 40.5px,#00ec90 44.5px,#00ea69 48.5px,#01e93e 52.5px,#0deb20 56.5px,#21ed0f 60.5px,#3dee0f 64.5px,#5def0f 68.5px,#7bf010 72.5px,#91f012 76.5px,#9af012 80.5px,#98f012 84.5px,#94f012 88.5px,#8ff011 92.5px,#89f011 96.5px,#82f011 100.5px,#79f010 104.5px,#63f00f 108.5px,#47ee0f 112.5px,#2bed0f 116.5px,#11ec16 120.5px,#05ea34 124.5px,#00ea63 128.5px,#00ec9f 132.5px,#00f2dc 136.5px,#00e8f9 140.5px,#00d0fb 144.5px,#00bffc 148.5px,#00affd 152.5px,#00a1ff 156.5px,#0095ff 160.5px,#008dfe 164.5px,#008afe 168.5px,#008afe 172.5px,#008afe 173.5px)"></i>
<i style="top:70px;height:2px;background:linear-gradient(90deg,#0063fc 0.5px,#0063fc 4.5px,#0066fc 8.5px,#006ffc 12.5px,#007efd 16.5px,#0091fe 20.5px,#00a9fe 24.5px,#00ccfb 28.5px,#00f0f8 32.5px,#00f2dc 36.5px,#00efbc 40.5px,#00ec97 44.5px,#00eb6f 48.5px,#00e942 52.5px,#0ceb23 56.5px,#1fed0f 60.5px,#3dee0f 64.5px,#5eef0f 68.5px,#7ef010 72.5px,#95f012 76.5px,#a0f012 80.5px,#9ef012 84.5px,#9af012 88.5px,#94f012 92.5px,#8ef011 96.5px,#86f011 100.5px,#7cf010 104.5px,#65f00f 108.5px,#48ee0f 112.5px,#2aed0f 116.5px,#11eb17 120.5px,#04ea36 124.5px,#00ea67 128.5px,#00eda4 132.5px,#00f2e0 136.5px,#00e6f9 140.5px,#00cefb 144.5px,#00bcfc 148.5px,#00adfe 152.5px,#009fff 156.5px,#0093fe 160.5px,#008bfe 164.5px,#0088fe 168.5px,#0088fe 172.5px,#0088fe 173.5px)"></i>
<i style="top:72px;height:2px;background:linear-gradient(90deg,#0060fb 0.5px,#0060fb 4.5px,#0062fb 8.5px,#006bfc 12.5px,#0079fd 16.5px,#008bfe 20.5px,#00a2fe 24.5px,#00c5fc 28.5px,#00e8f9 32.5px,#00f2e5 36.5px,#00f0c4 40.5px,#00ec9e 44.5px,#00eb75 48.5px,#00e947 52.5px,#0beb25 56.5px,#1dec0f 60.5px,#3cee0f 64.5px,#5ff00f 68.5px,#80f010 72.5px,#99f012 76.5px,#a5f013 80.5px,#a4f013 84.5px,#9ff012 88.5px,#99f012 92.5px,#92f012 96.5px,#8af011 100.5px,#7ff010 104.5px,#67f00f 108.5px,#49ee0f 112.5px,#2aed0f 116.5px,#10eb19 120.5px,#03ea38 124.5px,#00ea6a 128.5px,#00eda8 132.5px,#00f2e3 136.5px,#00e3f9 140.5px,#00cbfb 144.5px,#00bafd 148.5px,#00aafe 152.5px,#009cff 156.5px,#0091fe 160.5px,#0089fe 164.5px,#0086fe 168.5px,#0086fe 172.5px,#0086fe 173.5px)"></i>
<i style="top:74px;height:2px;background:linear-gradient(90deg,#005dfb 0.5px,#005dfb 4.5px,#005ffb 8.5px,#0067fc 12.5px,#0074fd 16.5px,#0085fe 20.5px,#009bff 24.5px,#00befc 28.5px,#00e1f9 32.5px,#00f3ed 36.5px,#00f0cc 40.5px,#00eda5 44.5px,#00eb7a 48.5px,#00e94c 52.5px,#0aeb28 56.5px,#1cec0f 60.5px,#3cee0f 64.5px,#5ff00f 68.5px,#82f011 72.5px,#9df012 76.5px,#aaf013 80.5px,#a9f013 84.5px,#a5f013 88.5px,#9ff012 92.5px,#97f012 96.5px,#8ef011 100.5px,#82f011 104.5px,#69f00f 108.5px,#4aef0f 112.5px,#2aed0f 116.5px,#10eb1a 120.5px,#03e93a 124.5px,#00ea6d 128.5px,#00edab 132.5px,#00f2e6 136.5px,#00e2f9 140.5px,#00c9fb 144.5px,#00b8fd 148.5px,#00a8fe 152.5px,#009aff 156.5px,#008efe 160.5px,#0087fe 164.5px,#0084fe 168.5px,#0084fe 172.5px,#0084fe 173.5px)"></i>
<i style="top:76px;height:2px;background:linear-gradient(90deg,#005afb 0.5px,#005afb 4.5px,#005cfb 8.5px,#0063fc 12.5px,#0070fc 16.5px,#0080fd 20.5px,#0095ff 24.5px,#00b7fd 28.5px,#00dbfa 32.5px,#00f4f5 36.5px,#00f1d3 40.5px,#00edab 44.5px,#00eb80 48.5px,#00ea51 52.5px,#09ea2a 56.5px,#1bec0f 60.5px,#3cee0f 64.5px,#60f00f 68.5px,#84f011 72.5px,#a0f012 76.5px,#aff013 80.5px,#aff013 84.5px,#abf013 88.5px,#a4f013 92.5px,#9bf012 96.5px,#91f012 100.5px,#84f011 104.5px,#6bf00f 108.5px,#4aef0f 112.5px,#2aed0f 116.5px,#0feb1a 120.5px,#02e93b 124.5px,#00eb6e 128.5px,#00eead 132.5px,#00f3e8 136.5px,#00e0fa 140.5px,#00c7fc 144.5px,#00b6fd 148.5px,#00a6fe 152.5px,#0098ff 156.5px,#008dfe 160.5px,#0085fe 164.5px,#0083fd 168.5px,#0083fd 172.5px,#0083fd 173.5px)"></i>
<i style="top:78px;height:2px;background:linear-gradient(90deg,#0057fb 0.5px,#0057fb 4.5px,#0059fb 8.5px,#0060fb 12.5px,#006cfc 16.5px,#007cfd 20.5px,#0090fe 24.5px,#00b1fd 28.5px,#00d5fa 32.5px,#00f0f8 36.5px,#00f1da 40.5px,#00eeb1 44.5px,#00eb84 48.5px,#00ea55 52.5px,#09ea2c 56.5px,#1aec0f 60.5px,#3cee0f 64.5px,#60f00f 68.5px,#85f011 72.5px,#a3f013 76.5px,#b3f014 80.5px,#b5f014 84.5px,#b0f013 88.5px,#a9f013 92.5px,#a0f012 96.5px,#94f012 100.5px,#86f011 104.5px,#6cf00f 108.5px,#4bef0f 112.5px,#29ed0f 116.5px,#0feb1b 120.5px,#02e93c 124.5px,#00eb6f 128.5px,#00eeae 132.5px,#00f3e9 136.5px,#00dffa 140.5px,#00c6fc 144.5px,#00b4fd 148.5px,#00a4fe 152.5px,#0096ff 156.5px,#008bfe 160.5px,#0084fe 164.5px,#0081fd 168.5px,#0081fd 172.5px,#0081fd 173.5px)"></i>
<i style="top:80px;height:2px;background:linear-gradient(90deg,#0055fb 0.5px,#0055fb 4.5px,#0057fb 8.5px,#005efb 12.5px,#006afc 16.5px,#0078fd 20.5px,#008cfe 24.5px,#00adfe 28.5px,#00cffb 32.5px,#00ebf9 36.5px,#00f2e0 40.5px,#00eeb6 44.5px,#00eb89 48.5px,#00ea58 52.5px,#08ea2d 56.5px,#19ec0f 60.5px,#3cee0f 64.5px,#60f00f 68.5px,#86f011 72.5px,#a5f013 76.5px,#b8f014 80.5px,#baf014 84.5px,#b6f014 88.5px,#aff013 92.5px,#a4f013 96.5px,#97f012 100.5px,#88f011 104.5px,#6ef00f 108.5px,#4cef0f 112.5px,#2aed0f 116.5px,#0feb1b 120.5px,#02e93c 124.5px,#00eb70 128.5px,#00eeae 132.5px,#00f3e9 136.5px,#00defa 140.5px,#00c5fc 144.5px,#00b3fd 148.5px,#00a3fe 152.5px,#0095ff 156.5px,#008afe 160.5px,#0082fd 164.5px,#0080fd 168.5px,#0080fd 172.5px,#0080fd 173.5px)"></i>
<i style="top:82px;height:2px;background:linear-gradient(90deg,#0053fa 0.5px,#0053fa 4.5px,#0054fb 8.5px,#005bfb 12.5px,#0067fc 16.5px,#0075fd 20.5px,#0089fe 24.5px,#00a8fe 28.5px,#00cafb 32.5px,#00e6f9 36.5px,#00f2e6 40.5px,#00efbc 44.5px,#00ec8c 48.5px,#00ea5a 52.5px,#07ea2e 56.5px,#18ec0f 60.5px,#3bee0f 64.5px,#60f00f 68.5px,#87f011 72.5px,#a8f013 76.5px,#bbf014 80.5px,#bdf014 84.5px,#bcf014 88.5px,#b5f014 92.5px,#a9f013 96.5px,#9af012 100.5px,#8af011 104.5px,#6ff00f 108.5px,#4eef0f 112.5px,#2bed0f 116.5px,#10eb1a 120.5px,#02e93b 124.5px,#00eb6f 128.5px,#00eeae 132.5px,#00f3e9 136.5px,#00ddfa 140.5px,#00c3fc 144.5px,#00b2fd 148.5px,#00a2fe 152.5px,#0094ff 156.5px,#0088fe 160.5px,#0081fd 164.5px,#007ffd 168.5px,#007ffd 172.5px,#007ffd 173.5px)"></i>
<i style="top:84px;height:2px;background:linear-gradient(90deg,#0050fa 0.5px,#0050fa 4.5px,#0052fa 8.5px,#0059fb 12.5px,#0065fc 16.5px,#0073fc 20.5px,#0086fe 24.5px,#00a4fe 28.5px,#00c5fc 32.5px,#00e1fa 36.5px,#00f3ec 40.5px,#00efc1 44.5px,#00ec90 48.5px,#00ea5d 52.5px,#07ea2f 56.5px,#17ec0f 60.5px,#3bee0f 64.5px,#60f00f 68.5px,#87f011 72.5px,#aaf013 76.5px,#bdf014 80.5px,#c2ef15 84.5px,#c0f015 88.5px,#bbf014 92.5px,#aef013 96.5px,#9ef012 100.5px,#8bf011 104.5px,#70f00f 108.5px,#4fef0f 112.5px,#2ced0f 116.5px,#10eb19 120.5px,#03e93a 124.5px,#00eb6e 128.5px,#00eead 132.5px,#00f3e9 136.5px,#00dcfa 140.5px,#00c2fc 144.5px,#00b0fd 148.5px,#00a0ff 152.5px,#0092fe 156.5px,#0087fe 160.5px,#0080fd 164.5px,#007efd 168.5px,#007efd 172.5px,#007efd 173.5px)"></i>
<i style="top:86px;height:2px;background:linear-gradient(90deg,#004efa 0.5px,#004efa 4.5px,#0050fa 8.5px,#0057fb 12.5px,#0063fb 16.5px,#0071fc 20.5px,#0083fd 24.5px,#00a0ff 28.5px,#00bffc 32.5px,#00dcfa 36.5px,#00f3f1 40.5px,#00f0c6 44.5px,#00ec94 48.5px,#00ea5f 52.5px,#07ea30 56.5px,#16ec0f 60.5px,#3bee0f 64.5px,#60f00f 68.5px,#88f011 72.5px,#acf013 76.5px,#c0f015 80.5px,#c6ef15 84.5px,#c5ef15 88.5px,#bff014 92.5px,#b4f014 96.5px,#a1f012 100.5px,#8df011 104.5px,#72f010 108.5px,#51ef0f 112.5px,#2eed0f 116.5px,#11ec17 120.5px,#03e939 124.5px,#00ea6d 128.5px,#00edac 132.5px,#00f3e9 136.5px,#00dcfa 140.5px,#00c1fc 144.5px,#00affd 148.5px,#009fff 152.5px,#0091fe 156.5px,#0086fe 160.5px,#007ffd 164.5px,#007dfd 168.5px,#007dfd 172.5px,#007dfd 173.5px)"></i>
<i style="top:88px;height:2px;background:linear-gradient(90deg,#004cfa 0.5px,#004cfa 4.5px,#004efa 8.5px,#0055fb 12.5px,#0061fb 16.5px,#006efc 20.5px,#0080fd 24.5px,#009cff 28.5px,#00bafd 32.5px,#00d7fa 36.5px,#00f4f6 40.5px,#00f0cb 44.5px,#00ec97 48.5px,#00ea61 52.5px,#06ea31 56.5px,#16ec0f 60.5px,#3bee0f 64.5px,#60f00f 68.5px,#89f011 72.5px,#aef013 76.5px,#c3ef15 80.5px,#caef15 84.5px,#caef15 88.5px,#c3ef15 92.5px,#b9f014 96.5px,#a4f013 100.5px,#8ef011 104.5px,#73f010 108.5px,#52ef0f 112.5px,#30ed0f 116.5px,#11ec15 120.5px,#04ea38 124.5px,#00ea6c 128.5px,#00edac 132.5px,#00f3e9 136.5px,#00dbfa 140.5px,#00c0fc 144.5px,#00aefd 148.5px,#009eff 152.5px,#0090fe 156.5px,#0085fe 160.5px,#007efd 164.5px,#007cfd 168.5px,#007cfd 172.5px,#007cfd 173.5px)"></i>
<i style="top:90px;height:2px;background:linear-gradient(90deg,#004afa 0.5px,#004afa 4.5px,#004cfa 8.5px,#0053fb 12.5px,#005ffb 16.5px,#006cfc 20.5px,#007efd 24.5px,#0098ff 28.5px,#00b6fd 32.5px,#00d2fb 36.5px,#00f1f8 40.5px,#00f1cf 44.5px,#00ec9a 48.5px,#00ea63 52.5px,#06ea32 56.5px,#15ec0f 60.5px,#3bee0f 64.5px,#60f00f 68.5px,#89f011 72.5px,#b0f013 76.5px,#c5ef15 80.5px,#ceef16 84.5px,#ceef16 88.5px,#c7ef15 92.5px,#bcf014 96.5px,#a7f013 100.5px,#90f011 104.5px,#74f010 108.5px,#54ef0f 112.5px,#32ed0f 116.5px,#12ec13 120.5px,#04ea36 124.5px,#00ea6b 128.5px,#00edab 132.5px,#00f3e9 136.5px,#00dbfa 140.5px,#00bffc 144.5px,#00adfe 148.5px,#009dff 152.5px,#008ffe 156.5px,#0084fe 160.5px,#007dfd 164.5px,#007bfd 168.5px,#007bfd 172.5px,#007bfd 173.5px)"></i>
<i style="top:92px;height:2px;background:linear-gradient(90deg,#0049f9 0.5px,#0049f9 4.5px,#004afa 8.5px,#0052fa 12.5px,#005dfb 16.5px,#006bfc 20.5px,#007bfd 24.5px,#0094ff 28.5px,#00b1fd 32.5px,#00cdfb 36.5px,#00edf9 40.5px,#00f1d4 44.5px,#00ec9e 48.5px,#00ea65 52.5px,#05ea33 56.5px,#14ec0f 60.5px,#3bee0f 64.5px,#60f00f 68.5px,#8af011 72.5px,#b1f014 76.5px,#c7ef15 80.5px,#d1ef16 84.5px,#d2ee16 88.5px,#cbef15 92.5px,#bef014 96.5px,#a9f013 100.5px,#91f011 104.5px,#75f010 108.5px,#56ef0f 112.5px,#34ee0f 116.5px,#13ec12 120.5px,#05ea35 124.5px,#00ea6a 128.5px,#00edaa 132.5px,#00f3e9 136.5px,#00dafa 140.5px,#00bffc 144.5px,#00acfe 148.5px,#009cff 152.5px,#008efe 156.5px,#0083fe 160.5px,#007cfd 164.5px,#007afd 168.5px,#007afd 172.5px,#007afd 173.5px)"></i>
<i style="top:94px;height:2px;background:linear-gradient(90deg,#0147f9 0.5px,#0147f9 4.5px,#0049f9 8.5px,#0050fa 12.5px,#005bfb 16.5px,#0069fc 20.5px,#0079fd 24.5px,#0091fe 28.5px,#00acfe 32.5px,#00c9fb 36.5px,#00e8f9 40.5px,#00f1d9 44.5px,#00eda1 48.5px,#00ea67 52.5px,#05ea34 56.5px,#14ec0f 60.5px,#3aee0f 64.5px,#60f00f 68.5px,#8af011 72.5px,#b3f014 76.5px,#c9ef15 80.5px,#d4ee16 84.5px,#d5ee16 88.5px,#ceef16 92.5px,#c0f015 96.5px,#abf013 100.5px,#92f012 104.5px,#76f010 108.5px,#57ef0f 112.5px,#36ee0f 116.5px,#13ec10 120.5px,#05ea34 124.5px,#00ea69 128.5px,#00eda9 132.5px,#00f3e9 136.5px,#00dafa 140.5px,#00befc 144.5px,#00abfe 148.5px,#009bff 152.5px,#008dfe 156.5px,#0082fd 160.5px,#007bfd 164.5px,#0079fd 168.5px,#0079fd 172.5px,#0079fd 173.5px)"></i>
<i style="top:96px;height:2px;background:linear-gradient(90deg,#0146f8 0.5px,#0146f8 4.5px,#0148f9 8.5px,#004efa 12.5px,#0059fb 16.5px,#0067fc 20.5px,#0077fd 24.5px,#008dfe 28.5px,#00a8fe 32.5px,#00c4fc 36.5px,#00e4f9 40.5px,#00f2dd 44.5px,#00eda5 48.5px,#00ea6a 52.5px,#05ea36 56.5px,#14ec10 60.5px,#3aee0f 64.5px,#60f00f 68.5px,#8af011 72.5px,#b4f014 76.5px,#caef15 80.5px,#d6ee16 84.5px,#d8ee16 88.5px,#d0ef16 92.5px,#c2ef15 96.5px,#adf013 100.5px,#92f012 104.5px,#76f010 108.5px,#58ef0f 112.5px,#37ee0f 116.5px,#14ec0f 120.5px,#06ea33 124.5px,#00ea68 128.5px,#00eda9 132.5px,#00f3e9 136.5px,#00dafa 140.5px,#00bdfc 144.5px,#00abfe 148.5px,#009bff 152.5px,#008cfe 156.5px,#0081fd 160.5px,#007bfd 164.5px,#0078fd 168.5px,#0078fd 172.5px,#0078fd 173.5px)"></i>
<i style="top:98px;height:2px;background:linear-gradient(90deg,#0145f8 0.5px,#0145f8 4.5px,#0147f8 8.5px,#004dfa 12.5px,#0058fb 16.5px,#0065fc 20.5px,#0074fd 24.5px,#008afe 28.5px,#00a4fe 32.5px,#00c0fc 36.5px,#00e0fa 40.5px,#00f2e2 44.5px,#00eda9 48.5px,#00ea6c 52.5px,#04ea37 56.5px,#13ec11 60.5px,#3aee0f 64.5px,#60f00f 68.5px,#8af011 72.5px,#b4f014 76.5px,#caef15 80.5px,#d7ee16 84.5px,#d9ee16 88.5px,#d1ef16 92.5px,#c2ef15 96.5px,#adf013 100.5px,#92f012 104.5px,#76f010 108.5px,#58ef0f 112.5px,#38ee0f 116.5px,#14ec0f 120.5px,#06ea33 124.5px,#00ea68 128.5px,#00eda9 132.5px,#00f3e9 136.5px,#00d9fa 140.5px,#00bcfc 144.5px,#00aafe 148.5px,#009aff 152.5px,#008bfe 156.5px,#0080fd 160.5px,#007afd 164.5px,#0077fd 168.5px,#0077fd 172.5px,#0077fd 173.5px)"></i>
<i style="top:100px;height:2px;background:linear-gradient(90deg,#0144f7 0.5px,#0144f7 4.5px,#0146f8 8.5px,#004cfa 12.5px,#0056fb 16.5px,#0063fb 20.5px,#0072fc 24.5px,#0087fe 28.5px,#00a0ff 32.5px,#00bcfc 36.5px,#00dcfa 40.5px,#00f2e6 44.5px,#00eead 48.5px,#00eb6f 52.5px,#03e939 56.5px,#13ec12 60.5px,#39ee0f 64.5px,#5ff00f 68.5px,#8af011 72.5px,#b3f014 76.5px,#caef15 80.5px,#d6ee16 84.5px,#d8ee16 88.5px,#d0ef16 92.5px,#c2ef15 96.5px,#adf013 100.5px,#92f012 104.5px,#76f010 108.5px,#58ef0f 112.5px,#38ee0f 116.5px,#14ec0f 120.5px,#06ea33 124.5px,#00ea68 128.5px,#00eda9 132.5px,#00f3e9 136.5px,#00d9fa 140.5px,#00bcfc 144.5px,#00a9fe 148.5px,#0099ff 152.5px,#008bfe 156.5px,#0080fd 160.5px,#0079fd 164.5px,#0076fd 168.5px,#0076fd 172.5px,#0076fd 173.5px)"></i>
<i style="top:102px;height:2px;background:linear-gradient(90deg,#0144f7 0.5px,#0144f7 4.5px,#0145f8 8.5px,#004afa 12.5px,#0054fb 16.5px,#0061fb 20.5px,#006ffc 24.5px,#0084fe 28.5px,#009dff 32.5px,#00b9fd 36.5px,#00d8fa 40.5px,#00f3eb 44.5px,#00eeb1 48.5px,#00eb72 52.5px,#03e93b 56.5px,#12ec14 60.5px,#38ee0f 64.5px,#5ff00f 68.5px,#88f011 72.5px,#b1f014 76.5px,#c8ef15 80.5px,#d5ee16 84.5px,#d6ee16 88.5px,#cfef16 92.5px,#c1f015 96.5px,#acf013 100.5px,#92f012 104.5px,#76f010 108.5px,#58ef0f 112.5px,#38ee0f 116.5px,#14ec0f 120.5px,#06ea33 124.5px,#00ea69 128.5px,#00eda9 132.5px,#00f3ea 136.5px,#00d8fa 140.5px,#00bbfc 144.5px,#00a9fe 148.5px,#0098ff 152.5px,#008afe 156.5px,#007ffd 160.5px,#0078fd 164.5px,#0075fd 168.5px,#0075fd 172.5px,#0075fd 173.5px)"></i>
<i style="top:104px;height:2px;background:linear-gradient(90deg,#0243f7 0.5px,#0243f7 4.5px,#0145f8 8.5px,#004af9 12.5px,#0053fb 16.5px,#005ffb 20.5px,#006dfc 24.5px,#0081fd 28.5px,#009aff 32.5px,#00b5fd 36.5px,#00d5fa 40.5px,#00f3ef 44.5px,#00eeb5 48.5px,#00eb76 52.5px,#02e93d 56.5px,#11ec16 60.5px,#37ee0f 64.5px,#5def0f 68.5px,#86f011 72.5px,#aef013 76.5px,#c6ef15 80.5px,#d2ee16 84.5px,#d3ee16 88.5px,#ccef15 92.5px,#bff014 96.5px,#aaf013 100.5px,#91f012 104.5px,#76f010 108.5px,#58ef0f 112.5px,#38ee0f 116.5px,#14ec0f 120.5px,#05ea34 124.5px,#00ea6a 128.5px,#00edaa 132.5px,#00f3ea 136.5px,#00d8fa 140.5px,#00bbfd 144.5px,#00a8fe 148.5px,#0097ff 152.5px,#0089fe 156.5px,#007efd 160.5px,#0077fd 164.5px,#0075fd 168.5px,#0075fd 172.5px,#0075fd 173.5px)"></i>
<i style="top:106px;height:2px;background:linear-gradient(90deg,#0243f7 0.5px,#0243f7 4.5px,#0144f7 8.5px,#0049f9 12.5px,#0052fa 16.5px,#005dfb 20.5px,#006bfc 24.5px,#007efd 28.5px,#0097ff 32.5px,#00b2fd 36.5px,#00d1fb 40.5px,#00f4f3 44.5px,#00efb9 48.5px,#00eb7a 52.5px,#01e93f 56.5px,#10eb18 60.5px,#35ee0f 64.5px,#5cef0f 68.5px,#84f011 72.5px,#aaf013 76.5px,#c2ef15 80.5px,#ceef16 84.5px,#d0ef16 88.5px,#c9ef15 92.5px,#bdf014 96.5px,#a8f013 100.5px,#90f011 104.5px,#76f010 108.5px,#58ef0f 112.5px,#38ee0f 116.5px,#14ec0f 120.5px,#05ea34 124.5px,#00ea6c 128.5px,#00edac 132.5px,#00f3eb 136.5px,#00d7fa 140.5px,#00bafd 144.5px,#00a8fe 148.5px,#0097ff 152.5px,#0088fe 156.5px,#007dfd 160.5px,#0076fd 164.5px,#0074fd 168.5px,#0074fd 172.5px,#0074fd 173.5px)"></i>
<i style="top:108px;height:2px;background:linear-gradient(90deg,#0242f7 0.5px,#0242f7 4.5px,#0144f7 8.5px,#0148f9 12.5px,#0050fa 16.5px,#005cfb 20.5px,#0069fc 24.5px,#007cfd 28.5px,#0094ff 32.5px,#00affd 36.5px,#00cefb 40.5px,#00f4f7 44.5px,#00efbd 48.5px,#00eb7e 52.5px,#00e941 56.5px,#0feb1b 60.5px,#33ed0f 64.5px,#5aef0f 68.5px,#80f010 72.5px,#a4f013 76.5px,#bef014 80.5px,#c9ef15 84.5px,#cbef15 88.5px,#c5ef15 92.5px,#baf014 96.5px,#a5f013 100.5px,#8ff011 104.5px,#76f010 108.5px,#58ef0f 112.5px,#38ee0f 116.5px,#14ec0f 120.5px,#05ea35 124.5px,#00ea6e 128.5px,#00eead 132.5px,#00f3eb 136.5px,#00d7fa 140.5px,#00bafd 144.5px,#00a7fe 148.5px,#0096ff 152.5px,#0088fe 156.5px,#007cfd 160.5px,#0075fd 164.5px,#0073fc 168.5px,#0073fc 172.5px,#0073fc 173.5px)"></i>
<i style="top:110px;height:2px;background:linear-gradient(90deg,#0242f6 0.5px,#0242f6 4.5px,#0243f7 8.5px,#0147f9 12.5px,#004ffa 16.5px,#005afb 20.5px,#0067fc 24.5px,#0079fd 28.5px,#0091fe 32.5px,#00acfe 36.5px,#00cbfb 40.5px,#00f2f8 44.5px,#00efc1 48.5px,#00eb82 52.5px,#00e945 56.5px,#0eeb1d 60.5px,#30ed0f 64.5px,#59ef0f 68.5px,#7df010 72.5px,#9ff012 76.5px,#baf014 80.5px,#c5ef15 84.5px,#c6ef15 88.5px,#c1f015 92.5px,#b6f014 96.5px,#a2f013 100.5px,#8ef011 104.5px,#75f010 108.5px,#58ef0f 112.5px,#38ee0f 116.5px,#14ec0f 120.5px,#04ea36 124.5px,#00eb70 128.5px,#00eeaf 132.5px,#00f3ec 136.5px,#00d7fa 140.5px,#00bafd 144.5px,#00a7fe 148.5px,#0096ff 152.5px,#0087fe 156.5px,#007cfd 160.5px,#0074fd 164.5px,#0072fc 168.5px,#0072fc 172.5px,#0072fc 173.5px)"></i>
<i style="top:112px;height:2px;background:linear-gradient(90deg,#0241f6 0.5px,#0241f6 4.5px,#0243f7 8.5px,#0147f8 12.5px,#004efa 16.5px,#0058fb 20.5px,#0065fc 24.5px,#0077fd 28.5px,#008efe 32.5px,#00a9fe 36.5px,#00c7fc 40.5px,#00eff8 44.5px,#00f0c6 48.5px,#00eb86 52.5px,#00e949 56.5px,#0deb20 60.5px,#2eed0f 64.5px,#57ef0f 68.5px,#79f010 72.5px,#99f012 76.5px,#b4f014 80.5px,#c0f015 84.5px,#c1f015 88.5px,#bcf014 92.5px,#b0f013 96.5px,#9ff012 100.5px,#8df011 104.5px,#75f010 108.5px,#58ef0f 112.5px,#38ee0f 116.5px,#14ec0f 120.5px,#04ea37 124.5px,#00eb72 128.5px,#00eeb1 132.5px,#00f3ed 136.5px,#00d6fa 140.5px,#00b9fd 144.5px,#00a6fe 148.5px,#0095ff 152.5px,#0086fe 156.5px,#007bfd 160.5px,#0073fd 164.5px,#0071fc 168.5px,#0071fc 172.5px,#0071fc 173.5px)"></i>
<i style="top:114px;height:2px;background:linear-gradient(90deg,#0241f6 0.5px,#0241f6 4.5px,#0242f6 8.5px,#0146f8 12.5px,#004cfa 16.5px,#0056fb 20.5px,#0063fb 24.5px,#0074fd 28.5px,#008bfe 32.5px,#00a5fe 36.5px,#00c4fc 40.5px,#00ebf9 44.5px,#00f0ca 48.5px,#00eb8b 52.5px,#00e94e 56.5px,#0ceb22 60.5px,#2ced0f 64.5px,#55ef0f 68.5px,#76f010 72.5px,#94f012 76.5px,#adf013 80.5px,#bbf014 84.5px,#bcf014 88.5px,#b8f014 92.5px,#abf013 96.5px,#9cf012 100.5px,#8bf011 104.5px,#75f010 108.5px,#58ef0f 112.5px,#38ee0f 116.5px,#14ec0f 120.5px,#04ea38 124.5px,#00eb75 128.5px,#00eeb4 132.5px,#00f3ee 136.5px,#00d6fa 140.5px,#00b9fd 144.5px,#00a6fe 148.5px,#0095ff 152.5px,#0086fe 156.5px,#007afd 160.5px,#0072fc 164.5px,#0070fc 168.5px,#0070fc 172.5px,#0070fc 173.5px)"></i>
<i style="top:116px;height:2px;background:linear-gradient(90deg,#0240f6 0.5px,#0241f6 4.5px,#0242f6 8.5px,#0145f8 12.5px,#004bfa 16.5px,#0055fb 20.5px,#0060fb 24.5px,#0072fc 28.5px,#0088fe 32.5px,#00a2fe 36.5px,#00c0fc 40.5px,#00e8f9 44.5px,#00f0cf 48.5px,#00ec8f 52.5px,#00ea52 56.5px,#0beb25 60.5px,#2aed0f 64.5px,#53ef0f 68.5px,#73f010 72.5px,#8ff011 76.5px,#a6f013 80.5px,#b5f014 84.5px,#b7f014 88.5px,#b1f014 92.5px,#a7f013 96.5px,#99f012 100.5px,#8af011 104.5px,#74f010 108.5px,#58ef0f 112.5px,#38ee0f 116.5px,#14ec0f 120.5px,#03e939 124.5px,#00eb78 128.5px,#00eeb6 132.5px,#00f3ef 136.5px,#00d5fa 140.5px,#00b8fd 144.5px,#00a5fe 148.5px,#0094ff 152.5px,#0085fe 156.5px,#0079fd 160.5px,#0071fc 164.5px,#006ffc 168.5px,#006ffc 172.5px,#006ffc 173.5px)"></i>
<i style="top:118px;height:2px;background:linear-gradient(90deg,#0240f6 0.5px,#0240f6 4.5px,#0241f6 8.5px,#0144f7 12.5px,#004af9 16.5px,#0052fa 20.5px,#005efb 24.5px,#006ffc 28.5px,#0085fe 32.5px,#009fff 36.5px,#00bdfc 40.5px,#00e4f9 44.5px,#00f1d3 48.5px,#00ec94 52.5px,#00ea56 56.5px,#0aeb27 60.5px,#28ed0f 64.5px,#52ef0f 68.5px,#70f00f 72.5px,#8bf011 76.5px,#a1f012 80.5px,#aef013 84.5px,#b1f013 88.5px,#acf013 92.5px,#a3f013 96.5px,#97f012 100.5px,#89f011 104.5px,#74f010 108.5px,#58ef0f 112.5px,#38ee0f 116.5px,#14ec0f 120.5px,#03e93a 124.5px,#00eb7a 128.5px,#00efb8 132.5px,#00f3f0 136.5px,#00d5fa 140.5px,#00b8fd 144.5px,#00a5fe 148.5px,#0093ff 152.5px,#0084fe 156.5px,#0078fd 160.5px,#0070fc 164.5px,#006efc 168.5px,#006efc 172.5px,#006efc 173.5px)"></i>
<i style="top:120px;height:2px;background:linear-gradient(90deg,#023ff5 0.5px,#023ff5 4.5px,#0240f6 8.5px,#0243f7 12.5px,#0148f9 16.5px,#0050fa 20.5px,#005bfb 24.5px,#006cfc 28.5px,#0081fd 32.5px,#009bff 36.5px,#00b9fd 40.5px,#00e1fa 44.5px,#00f1d8 48.5px,#00ec99 52.5px,#00ea5b 56.5px,#0aea29 60.5px,#27ed0f 64.5px,#51ef0f 68.5px,#6ef00f 72.5px,#88f011 76.5px,#9df012 80.5px,#aaf013 84.5px,#acf013 88.5px,#a8f013 92.5px,#a0f012 96.5px,#95f012 100.5px,#89f011 104.5px,#74f010 108.5px,#58ef0f 112.5px,#38ee0f 116.5px,#14ec10 120.5px,#03e93b 124.5px,#00eb7d 128.5px,#00efbb 132.5px,#00f3f1 136.5px,#00d4fb 140.5px,#00b7fd 144.5px,#00a4fe 148.5px,#0092fe 152.5px,#0083fd 156.5px,#0077fd 160.5px,#006ffc 164.5px,#006cfc 168.5px,#006cfc 172.5px,#006cfc 173.5px)"></i>
<i style="top:122px;height:2px;background:linear-gradient(90deg,#033ef5 0.5px,#033ef5 4.5px,#023ff5 8.5px,#0242f6 12.5px,#0147f8 16.5px,#004efa 20.5px,#0058fb 24.5px,#0068fc 28.5px,#007efd 32.5px,#0097ff 36.5px,#00b5fd 40.5px,#00ddfa 44.5px,#00f2dd 48.5px,#00ec9e 52.5px,#00ea5f 56.5px,#09ea2a 60.5px,#26ed0f 64.5px,#51ef0f 68.5px,#6df00f 72.5px,#86f011 76.5px,#9bf012 80.5px,#a7f013 84.5px,#aaf013 88.5px,#a6f013 92.5px,#9ef012 96.5px,#94f012 100.5px,#88f011 104.5px,#74f010 108.5px,#58ef0f 112.5px,#38ee0f 116.5px,#14ec10 120.5px,#02e93b 124.5px,#00eb7f 128.5px,#00efbd 132.5px,#00f4f3 136.5px,#00d3fb 140.5px,#00b6fd 144.5px,#00a3fe 148.5px,#0091fe 152.5px,#0081fd 156.5px,#0075fd 160.5px,#006dfc 164.5px,#006bfc 168.5px,#006bfc 172.5px,#006bfc 173.5px)"></i>
<i style="top:124px;height:2px;background:linear-gradient(90deg,#033df5 0.5px,#033df5 4.5px,#033ef5 8.5px,#0241f6 12.5px,#0145f8 16.5px,#004bfa 20.5px,#0055fb 24.5px,#0064fc 28.5px,#0079fd 32.5px,#0092fe 36.5px,#00b0fd 40.5px,#00d9fa 44.5px,#00f2e1 48.5px,#00eda3 52.5px,#00ea63 56.5px,#09ea2b 60.5px,#26ed0f 64.5px,#51ef0f 68.5px,#6df00f 72.5px,#86f011 76.5px,#9af012 80.5px,#a7f013 84.5px,#a9f013 88.5px,#a5f013 92.5px,#9ef012 96.5px,#94f012 100.5px,#89f011 104.5px,#75f010 108.5px,#59ef0f 112.5px,#39ee0f 116.5px,#14ec0f 120.5px,#02e93c 124.5px,#00eb81 128.5px,#00efbf 132.5px,#00f4f4 136.5px,#00d2fb 140.5px,#00b5fd 144.5px,#00a2fe 148.5px,#0090fe 152.5px,#0080fd 156.5px,#0073fd 160.5px,#006cfc 164.5px,#0069fc 168.5px,#0069fc 172.5px,#0069fc 173.5px)"></i>
<i style="top:126px;height:2px;background:linear-gradient(90deg,#033cf4 0.5px,#033cf4 4.5px,#033cf4 8.5px,#023ff5 12.5px,#0243f7 16.5px,#0148f9 20.5px,#0051fa 24.5px,#0060fb 28.5px,#0075fd 32.5px,#008efe 36.5px,#00acfe 40.5px,#00d5fa 44.5px,#00f2e6 48.5px,#00eda8 52.5px,#00ea68 56.5px,#08ea2c 60.5px,#27ed0f 64.5px,#52ef0f 68.5px,#6ff00f 72.5px,#87f011 76.5px,#9bf012 80.5px,#a7f013 84.5px,#a9f013 88.5px,#a5f013 92.5px,#9ff012 96.5px,#96f012 100.5px,#8bf011 104.5px,#78f010 108.5px,#5cef0f 112.5px,#3aee0f 116.5px,#14ec0f 120.5px,#02e93c 124.5px,#00eb83 128.5px,#00efc2 132.5px,#00f4f6 136.5px,#00d0fb 140.5px,#00b4fd 144.5px,#00a0ff 148.5px,#008efe 152.5px,#007efd 156.5px,#0071fc 160.5px,#0069fc 164.5px,#0067fc 168.5px,#0067fc 172.5px,#0067fc 173.5px)"></i>
<i style="top:128px;height:2px;background:linear-gradient(90deg,#033af3 0.5px,#033af3 4.5px,#033af3 8.5px,#033df4 12.5px,#0240f6 16.5px,#0146f8 20.5px,#004dfa 24.5px,#005cfb 28.5px,#0070fc 32.5px,#0089fe 36.5px,#00a7fe 40.5px,#00d0fb 44.5px,#00f3eb 48.5px,#00eead 52.5px,#00ea6c 56.5px,#08ea2d 60.5px,#27ed0f 64.5px,#54ef0f 68.5px,#73f010 72.5px,#8af011 76.5px,#9cf012 80.5px,#a7f013 84.5px,#a9f013 88.5px,#a6f013 92.5px,#a0f012 96.5px,#98f012 100.5px,#8ef011 104.5px,#7df010 108.5px,#60f00f 112.5px,#3dee0f 116.5px,#16ec0f 120.5px,#02e93c 124.5px,#00eb85 128.5px,#00f0c5 132.5px,#00f3f8 136.5px,#00cefb 140.5px,#00b1fd 144.5px,#009dff 148.5px,#008bfe 152.5px,#007bfd 156.5px,#006efc 160.5px,#0066fc 164.5px,#0064fc 168.5px,#0064fc 172.5px,#0064fc 173.5px)"></i>
<i style="top:130px;height:2px;background:linear-gradient(90deg,#0437f2 0.5px,#0437f2 4.5px,#0438f2 8.5px,#033af3 12.5px,#033ef5 16.5px,#0242f7 20.5px,#0049f9 24.5px,#0057fb 28.5px,#006bfc 32.5px,#0083fe 36.5px,#00a1fe 40.5px,#00ccfb 44.5px,#00f3ef 48.5px,#00eeb3 52.5px,#00eb71 56.5px,#08ea2e 60.5px,#28ed0f 64.5px,#56ef0f 68.5px,#77f010 72.5px,#8df011 76.5px,#9ef012 80.5px,#a7f013 84.5px,#a9f013 88.5px,#a7f013 92.5px,#a2f013 96.5px,#9bf012 100.5px,#92f012 104.5px,#83f011 108.5px,#66f00f 112.5px,#41ee0f 116.5px,#17ec0f 120.5px,#02e93c 124.5px,#00eb87 128.5px,#00f0c7 132.5px,#00f1f8 136.5px,#00ccfb 140.5px,#00aefe 144.5px,#0099ff 148.5px,#0087fe 152.5px,#0077fd 156.5px,#006bfc 160.5px,#0063fb 164.5px,#0060fb 168.5px,#0060fb 172.5px,#0060fb 173.5px)"></i>
<i style="top:132px;height:2px;background:linear-gradient(90deg,#0435f1 0.5px,#0435f1 4.5px,#0435f1 8.5px,#0437f2 12.5px,#033bf3 16.5px,#023ff5 20.5px,#0145f8 24.5px,#0051fa 28.5px,#0065fc 32.5px,#007dfd 36.5px,#009cff 40.5px,#00c7fc 44.5px,#00f4f4 48.5px,#00efb9 52.5px,#00eb75 56.5px,#07ea2f 60.5px,#28ed0f 64.5px,#59ef0f 68.5px,#7df010 72.5px,#91f011 76.5px,#9ff012 80.5px,#a8f013 84.5px,#a9f013 88.5px,#a7f013 92.5px,#a4f013 96.5px,#9ef012 100.5px,#98f012 104.5px,#8bf011 108.5px,#6df00f 112.5px,#45ee0f 116.5px,#19ec0f 120.5px,#02e93c 124.5px,#00eb89 128.5px,#00f0ca 132.5px,#00eef8 136.5px,#00c9fb 140.5px,#00aafe 144.5px,#0095ff 148.5px,#0083fe 152.5px,#0073fd 156.5px,#0067fc 160.5px,#005ffb 164.5px,#005cfb 168.5px,#005cfb 172.5px,#005cfb 173.5px)"></i>
<i style="top:134px;height:2px;background:linear-gradient(90deg,#0532f0 0.5px,#0532f0 4.5px,#0532f0 8.5px,#0534f1 12.5px,#0437f2 16.5px,#033bf4 20.5px,#0241f6 24.5px,#004cfa 28.5px,#005ffb 32.5px,#0077fd 36.5px,#0096ff 40.5px,#00c2fc 44.5px,#00f3f8 48.5px,#00efbf 52.5px,#00eb7a 56.5px,#07ea2f 60.5px,#29ed0f 64.5px,#5def0f 68.5px,#83f011 72.5px,#95f012 76.5px,#a1f013 80.5px,#a8f013 84.5px,#a9f013 88.5px,#a8f013 92.5px,#a6f013 96.5px,#a2f013 100.5px,#9df012 104.5px,#93f012 108.5px,#73f010 112.5px,#49ee0f 116.5px,#1bec0f 120.5px,#02e93d 124.5px,#00eb8b 128.5px,#00f0cd 132.5px,#00ebf9 136.5px,#00c5fc 140.5px,#00a6fe 144.5px,#0090fe 148.5px,#007efd 152.5px,#006ffc 156.5px,#0062fb 160.5px,#005afb 164.5px,#0058fb 168.5px,#0058fb 172.5px,#0058fb 173.5px)"></i>
<i style="top:136px;height:2px;background:linear-gradient(90deg,#062eef 0.5px,#062eef 4.5px,#062fef 8.5px,#0530ef 12.5px,#0534f1 16.5px,#0437f2 20.5px,#033df4 24.5px,#0147f8 28.5px,#0059fb 32.5px,#0071fc 36.5px,#008ffe 40.5px,#00bdfc 44.5px,#00eef8 48.5px,#00f0c5 52.5px,#00eb7f 56.5px,#07ea30 60.5px,#2aed0f 64.5px,#61f00f 68.5px,#89f011 72.5px,#99f012 76.5px,#a3f013 80.5px,#a8f013 84.5px,#a9f013 88.5px,#a9f013 92.5px,#a8f013 96.5px,#a5f013 100.5px,#a2f013 104.5px,#9af012 108.5px,#7af010 112.5px,#4cef0f 116.5px,#1cec0f 120.5px,#02e93d 124.5px,#00ec8d 128.5px,#00f1d1 132.5px,#00e7f9 136.5px,#00c1fc 140.5px,#00a2fe 144.5px,#008bfe 148.5px,#0079fd 152.5px,#006afc 156.5px,#005dfb 160.5px,#0055fb 164.5px,#0053fa 168.5px,#0053fa 172.5px,#0053fa 173.5px)"></i>
<i style="top:138px;height:2px;background:linear-gradient(90deg,#062bed 0.5px,#062bed 4.5px,#062bed 8.5px,#062dee 12.5px,#0530ef 16.5px,#0533f1 20.5px,#0439f3 24.5px,#0242f7 28.5px,#0052fa 32.5px,#006afc 36.5px,#0089fe 40.5px,#00b7fd 44.5px,#00e9f9 48.5px,#00f0cc 52.5px,#00eb84 56.5px,#07ea30 60.5px,#2bed0f 64.5px,#64f00f 68.5px,#8ff011 72.5px,#9df012 76.5px,#a5f013 80.5px,#a9f013 84.5px,#a9f013 88.5px,#a9f013 92.5px,#a9f013 96.5px,#a8f013 100.5px,#a7f013 104.5px,#a0f012 108.5px,#7ff010 112.5px,#4fef0f 116.5px,#1dec0f 120.5px,#02e93d 124.5px,#00ec8f 128.5px,#00f1d4 132.5px,#00e4f9 136.5px,#00bdfc 140.5px,#009dff 144.5px,#0085fe 148.5px,#0074fd 152.5px,#0065fc 156.5px,#0058fb 160.5px,#0050fa 164.5px,#004dfa 168.5px,#004dfa 172.5px,#004dfa 173.5px)"></i>
<i style="top:140px;height:2px;background:linear-gradient(90deg,#0727ec 0.5px,#0727ec 4.5px,#0728ec 8.5px,#0729ec 12.5px,#062ced 16.5px,#062fef 20.5px,#0534f1 24.5px,#033df4 28.5px,#004bfa 32.5px,#0062fb 36.5px,#0081fd 40.5px,#00b1fd 44.5px,#00e3f9 48.5px,#00f1d4 52.5px,#00eb89 56.5px,#06ea31 60.5px,#2ced0f 64.5px,#68f00f 68.5px,#94f012 72.5px,#a1f012 76.5px,#a6f013 80.5px,#a8f013 84.5px,#a9f013 88.5px,#a9f013 92.5px,#a9f013 96.5px,#aaf013 100.5px,#aaf013 104.5px,#a4f013 108.5px,#82f011 112.5px,#51ef0f 116.5px,#1eec0f 120.5px,#01e93e 124.5px,#00ec91 128.5px,#00f1d8 132.5px,#00e0fa 136.5px,#00b9fd 140.5px,#0098ff 144.5px,#0080fd 148.5px,#006efc 152.5px,#005ffb 156.5px,#0052fa 160.5px,#004afa 164.5px,#0148f9 168.5px,#0148f9 172.5px,#0148f9 173.5px)"></i>
<i style="top:142px;height:2px;background:linear-gradient(90deg,#0822ea 0.5px,#0822ea 4.5px,#0823ea 8.5px,#0824ea 12.5px,#0726eb 16.5px,#0729ec 20.5px,#062dee 24.5px,#0436f1 28.5px,#0243f7 32.5px,#0057fb 36.5px,#0076fd 40.5px,#00a8fe 44.5px,#00dcfa 48.5px,#00f2dd 52.5px,#00ec8f 56.5px,#06ea32 60.5px,#2eed0f 64.5px,#6df00f 68.5px,#9af012 72.5px,#a5f013 76.5px,#a7f013 80.5px,#a8f013 84.5px,#a8f013 88.5px,#a9f013 92.5px,#a9f013 96.5px,#acf013 100.5px,#adf013 104.5px,#a7f013 108.5px,#85f011 112.5px,#52ef0f 116.5px,#1eec0f 120.5px,#01e93e 124.5px,#00ec94 128.5px,#00f2db 132.5px,#00ddfa 136.5px,#00b4fd 140.5px,#0092fe 144.5px,#0079fd 148.5px,#0067fc 152.5px,#0057fb 156.5px,#004afa 160.5px,#0144f7 164.5px,#0242f6 168.5px,#0242f6 172.5px,#0242f6 173.5px)"></i>
<i style="top:144px;height:2px;background:linear-gradient(90deg,#091de7 0.5px,#091de7 4.5px,#091de8 8.5px,#091ee8 12.5px,#0920e9 16.5px,#0822ea 20.5px,#0726eb 24.5px,#062dee 28.5px,#033af3 32.5px,#004afa 36.5px,#0069fc 40.5px,#009eff 44.5px,#00d2fb 48.5px,#00f3e7 52.5px,#00ec94 56.5px,#06ea32 60.5px,#31ed0f 64.5px,#73f010 68.5px,#a1f013 72.5px,#aaf013 76.5px,#a8f013 80.5px,#a7f013 84.5px,#a7f013 88.5px,#a8f013 92.5px,#a9f013 96.5px,#adf013 100.5px,#b0f013 104.5px,#aaf013 108.5px,#87f011 112.5px,#52ef0f 116.5px,#1dec0f 120.5px,#01e93f 124.5px,#00ec96 128.5px,#00f2df 132.5px,#00d8fa 136.5px,#00affd 140.5px,#008afe 144.5px,#0071fc 148.5px,#005efb 152.5px,#004efa 156.5px,#0243f7 160.5px,#033cf4 164.5px,#033af3 168.5px,#033af3 172.5px,#033af3 173.5px)"></i>
<i style="top:146px;height:2px;background:linear-gradient(90deg,#0b18e5 0.5px,#0b18e5 4.5px,#0b18e5 8.5px,#0b19e5 12.5px,#0a19e6 16.5px,#0a1be7 20.5px,#091ee8 24.5px,#0824ea 28.5px,#0530ef 32.5px,#0241f6 36.5px,#005dfb 40.5px,#0093fe 44.5px,#00c9fb 48.5px,#00f3f1 52.5px,#00ec9a 56.5px,#06ea32 60.5px,#34ed0f 64.5px,#79f010 68.5px,#a8f013 72.5px,#aef013 76.5px,#a8f013 80.5px,#a5f013 84.5px,#a4f013 88.5px,#a6f013 92.5px,#a9f013 96.5px,#aff013 100.5px,#b3f014 104.5px,#adf013 108.5px,#89f011 112.5px,#53ef0f 116.5px,#1dec0f 120.5px,#00e940 124.5px,#00ec99 128.5px,#00f2e3 132.5px,#00d4fb 136.5px,#00a8fe 140.5px,#0082fd 144.5px,#0067fc 148.5px,#0055fb 152.5px,#0146f8 156.5px,#033bf4 160.5px,#0534f1 164.5px,#0532f0 168.5px,#0532f0 172.5px,#0532f0 173.5px)"></i>
<i style="top:148px;height:2px;background:linear-gradient(90deg,#0d16e2 0.5px,#0d16e2 4.5px,#0d16e2 8.5px,#0d16e2 12.5px,#0c17e3 16.5px,#0c18e4 20.5px,#0b18e5 24.5px,#091de8 28.5px,#0728ec 32.5px,#0439f3 36.5px,#0052fa 40.5px,#0089fe 44.5px,#00c0fc 48.5px,#00f2f8 52.5px,#00eca0 56.5px,#06ea33 60.5px,#36ee0f 64.5px,#7ef010 68.5px,#adf013 72.5px,#b2f014 76.5px,#a9f013 80.5px,#a2f013 84.5px,#a1f013 88.5px,#a4f013 92.5px,#a9f013 96.5px,#b0f013 100.5px,#b5f014 104.5px,#aff013 108.5px,#8af011 112.5px,#54ef0f 116.5px,#1dec0f 120.5px,#00e941 124.5px,#00ec9c 128.5px,#00f3e8 132.5px,#00cffb 136.5px,#00a1ff 140.5px,#007afd 144.5px,#005efb 148.5px,#004bfa 152.5px,#033ef5 156.5px,#0534f1 160.5px,#062dee 164.5px,#062bed 168.5px,#062bed 172.5px,#062bed 173.5px)"></i>
<i style="top:150px;height:2px;background:linear-gradient(90deg,#0f15e0 0.5px,#0f15e0 4.5px,#0f15e0 8.5px,#0e15e0 12.5px,#0e16e1 16.5px,#0d16e2 20.5px,#0d17e3 24.5px,#0a19e6 28.5px,#0824ea 32.5px,#0534f1 36.5px,#004bfa 40.5px,#0081fd 44.5px,#00b9fd 48.5px,#00ecf9 52.5px,#00eda6 56.5px,#05ea34 60.5px,#37ee0f 64.5px,#81f010 68.5px,#b0f013 72.5px,#b4f014 76.5px,#a9f013 80.5px,#9ff012 84.5px,#9df012 88.5px,#a2f013 92.5px,#a9f013 96.5px,#b1f013 100.5px,#b6f014 104.5px,#b0f013 108.5px,#8bf011 112.5px,#54ef0f 116.5px,#1cec0f 120.5px,#00e944 124.5px,#00eca0 128.5px,#00f3ed 132.5px,#00c9fb 136.5px,#009aff 140.5px,#0071fc 144.5px,#0055fb 148.5px,#0144f7 152.5px,#0438f2 156.5px,#062eee 160.5px,#0728ec 164.5px,#0726eb 168.5px,#0825eb 172.5px,#0825eb 173.5px)"></i>
<i style="top:152px;height:2px;background:linear-gradient(90deg,#0f15e0 0.5px,#0f15e0 4.5px,#0f15e0 8.5px,#0f15e0 12.5px,#0e15e1 16.5px,#0e16e2 20.5px,#0d17e3 24.5px,#0b19e5 28.5px,#0823ea 32.5px,#0533f0 36.5px,#004af9 40.5px,#007bfd 44.5px,#00b4fd 48.5px,#00e8f9 52.5px,#00edac 56.5px,#04ea36 60.5px,#36ee0f 64.5px,#80f010 68.5px,#aef013 72.5px,#b2f014 76.5px,#a7f013 80.5px,#9bf012 84.5px,#98f012 88.5px,#9df012 92.5px,#a6f013 96.5px,#aef013 100.5px,#b4f014 104.5px,#aef013 108.5px,#89f011 112.5px,#52ef0f 116.5px,#1aec0f 120.5px,#00e948 124.5px,#00eda5 128.5px,#00f4f2 132.5px,#00c3fc 136.5px,#0093ff 140.5px,#0069fc 144.5px,#004bfa 148.5px,#033ef5 152.5px,#0533f0 156.5px,#072aed 160.5px,#0825eb 164.5px,#0823ea 168.5px,#0823ea 172.5px,#0823ea 173.5px)"></i>
<i style="top:154px;height:2px;background:linear-gradient(90deg,#0e16e1 0.5px,#0e16e1 4.5px,#0e16e1 8.5px,#0e16e2 12.5px,#0d16e2 16.5px,#0d17e3 20.5px,#0c18e4 24.5px,#0a1ae6 28.5px,#0824ea 32.5px,#0533f1 36.5px,#0049f9 40.5px,#0078fd 44.5px,#00b0fd 48.5px,#00e6f9 52.5px,#00eeb4 56.5px,#02e93d 60.5px,#32ed0f 64.5px,#78f010 68.5px,#a6f013 72.5px,#a9f013 76.5px,#9ef012 80.5px,#92f012 84.5px,#8ff011 88.5px,#94f012 92.5px,#9df012 96.5px,#a5f013 100.5px,#aaf013 104.5px,#a4f013 108.5px,#80f010 112.5px,#4bef0f 116.5px,#14ec0f 120.5px,#00e94e 124.5px,#00edab 128.5px,#00f3f8 132.5px,#00bcfc 136.5px,#008cfe 140.5px,#0061fb 144.5px,#0144f7 148.5px,#0437f2 152.5px,#062eee 156.5px,#0727ec 160.5px,#0823ea 164.5px,#0821e9 168.5px,#0821e9 172.5px,#0821e9 173.5px)"></i>
<i style="top:156px;height:2px;background:linear-gradient(90deg,#0c17e3 0.5px,#0c17e3 4.5px,#0c17e3 8.5px,#0c17e4 12.5px,#0b18e4 16.5px,#0b18e5 20.5px,#0a19e6 24.5px,#091ce7 28.5px,#0825eb 32.5px,#0534f1 36.5px,#0049f9 40.5px,#0075fd 44.5px,#00aefe 48.5px,#00e4f9 52.5px,#00efbd 56.5px,#00e949 60.5px,#2aed0f 64.5px,#6cf00f 68.5px,#97f012 72.5px,#9af012 76.5px,#90f011 80.5px,#85f011 84.5px,#82f011 88.5px,#87f011 92.5px,#8ff011 96.5px,#96f012 100.5px,#9af012 104.5px,#95f012 108.5px,#72f010 112.5px,#3fee0f 116.5px,#11eb18 120.5px,#00ea58 124.5px,#00eeb2 128.5px,#00eef9 132.5px,#00b4fd 136.5px,#0084fe 140.5px,#0059fb 144.5px,#033cf4 148.5px,#0530ef 152.5px,#0729ec 156.5px,#0824ea 160.5px,#0821e9 164.5px,#0920e9 168.5px,#0920e9 172.5px,#0920e9 173.5px)"></i>
<i style="top:158px;height:2px;background:linear-gradient(90deg,#0a19e6 0.5px,#0a19e6 4.5px,#0a19e6 8.5px,#0a19e6 12.5px,#0a1ae7 16.5px,#091ce7 20.5px,#091de8 24.5px,#0920e9 28.5px,#0727eb 32.5px,#0435f1 36.5px,#0049f9 40.5px,#0072fc 44.5px,#00abfe 48.5px,#00e3f9 52.5px,#00f0c5 56.5px,#00ea57 60.5px,#20ed0f 64.5px,#5def0f 68.5px,#85f011 72.5px,#88f011 76.5px,#80f010 80.5px,#76f010 84.5px,#74f010 88.5px,#78f010 92.5px,#7ef010 96.5px,#84f011 100.5px,#88f011 104.5px,#82f011 108.5px,#61f00f 112.5px,#30ed0f 116.5px,#0ceb23 120.5px,#00ea65 124.5px,#00efbb 128.5px,#00e6f9 132.5px,#00acfe 136.5px,#007bfd 140.5px,#0050fa 144.5px,#0436f1 148.5px,#072aed 152.5px,#0825eb 156.5px,#0822ea 160.5px,#0920e9 164.5px,#091fe9 168.5px,#091fe9 172.5px,#091fe9 173.5px)"></i>
<i style="top:160px;height:2px;background:linear-gradient(90deg,#091de8 0.5px,#091de8 4.5px,#091de8 8.5px,#091ee8 12.5px,#091fe8 16.5px,#0920e9 20.5px,#0821e9 24.5px,#0824ea 28.5px,#0729ec 32.5px,#0436f2 36.5px,#0049f9 40.5px,#006ffc 44.5px,#00a8fe 48.5px,#00e1f9 52.5px,#00f0c9 56.5px,#00ea61 60.5px,#17ec0f 64.5px,#4eef0f 68.5px,#72f010 72.5px,#76f010 76.5px,#6ff00f 80.5px,#69f00f 84.5px,#67f00f 88.5px,#6af00f 92.5px,#6ff00f 96.5px,#73f010 100.5px,#76f010 104.5px,#70f00f 108.5px,#50ef0f 112.5px,#20ed0f 116.5px,#07ea30 120.5px,#00eb74 124.5px,#00f0c5 128.5px,#00defa 132.5px,#00a2fe 136.5px,#0073fc 140.5px,#0049f9 144.5px,#0531f0 148.5px,#0726eb 152.5px,#0823ea 156.5px,#0821e9 160.5px,#0920e9 164.5px,#091fe8 168.5px,#091fe8 172.5px,#091fe8 173.5px)"></i>
<i style="top:162px;height:2px;background:linear-gradient(90deg,#0821e9 0.5px,#0821e9 4.5px,#0822e9 8.5px,#0822ea 12.5px,#0823ea 16.5px,#0824ea 20.5px,#0825eb 24.5px,#0727ec 28.5px,#062bed 32.5px,#0436f2 36.5px,#0148f9 40.5px,#006cfc 44.5px,#00a5fe 48.5px,#00e0fa 52.5px,#00f0ca 56.5px,#00ea64 60.5px,#12ec15 64.5px,#3fee0f 68.5px,#60f00f 72.5px,#65f00f 76.5px,#61f00f 80.5px,#5def0f 84.5px,#5cef0f 88.5px,#5ef00f 92.5px,#62f00f 96.5px,#65f00f 100.5px,#67f00f 104.5px,#61f00f 108.5px,#3fee0f 112.5px,#12ec14 116.5px,#01e93f 120.5px,#00eb87 124.5px,#00f1d5 128.5px,#00d3fb 132.5px,#0098ff 136.5px,#0069fc 140.5px,#0243f7 144.5px,#062fef 148.5px,#0726eb 152.5px,#0823ea 156.5px,#0821e9 160.5px,#0920e9 164.5px,#0920e9 168.5px,#0920e9 172.5px,#0920e9 173.5px)"></i>
<i style="top:164px;height:2px;background:linear-gradient(90deg,#0726eb 0.5px,#0726eb 4.5px,#0726eb 8.5px,#0726eb 12.5px,#0727ec 16.5px,#0728ec 20.5px,#0729ec 24.5px,#062bed 28.5px,#062dee 32.5px,#0436f2 36.5px,#0146f8 40.5px,#0069fc 44.5px,#00a1ff 48.5px,#00defa 52.5px,#00f0c9 56.5px,#00ea65 60.5px,#0eeb1e 64.5px,#2fed0f 68.5px,#4def0f 72.5px,#54ef0f 76.5px,#54ef0f 80.5px,#53ef0f 84.5px,#52ef0f 88.5px,#54ef0f 92.5px,#56ef0f 96.5px,#59ef0f 100.5px,#5aef0f 104.5px,#53ef0f 108.5px,#2ded0f 112.5px,#0beb25 116.5px,#00ea5a 120.5px,#00eda1 124.5px,#00f3eb 128.5px,#00c4fc 132.5px,#008cfe 136.5px,#005ffb 140.5px,#033ef5 144.5px,#062dee 148.5px,#0726eb 152.5px,#0824ea 156.5px,#0822ea 160.5px,#0822e9 164.5px,#0821e9 168.5px,#0821e9 172.5px,#0821e9 173.5px)"></i>
<i style="top:166px;height:2px;background:linear-gradient(90deg,#072aed 0.5px,#072aed 4.5px,#062bed 8.5px,#062bed 12.5px,#062bed 16.5px,#062cee 20.5px,#062dee 24.5px,#062eee 28.5px,#0530ef 32.5px,#0436f2 36.5px,#0243f7 40.5px,#0065fc 44.5px,#009dff 48.5px,#00ddfa 52.5px,#00f0c5 56.5px,#00ea65 60.5px,#0aeb27 64.5px,#1dec0f 68.5px,#38ee0f 72.5px,#42ee0f 76.5px,#46ee0f 80.5px,#48ee0f 84.5px,#48ee0f 88.5px,#49ef0f 92.5px,#4bef0f 96.5px,#4cef0f 100.5px,#4def0f 104.5px,#44ee0f 108.5px,#1aec0f 112.5px,#03e93a 116.5px,#00eb7c 120.5px,#00efc3 124.5px,#00e7f9 128.5px,#00b1fd 132.5px,#007efd 136.5px,#0054fb 140.5px,#0438f2 144.5px,#062cee 148.5px,#0727ec 152.5px,#0726eb 156.5px,#0825eb 160.5px,#0825eb 164.5px,#0825eb 168.5px,#0825eb 172.5px,#0825eb 173.5px)"></i>
<i style="top:168px;height:2px;background:linear-gradient(90deg,#062fef 0.5px,#062fef 4.5px,#062fef 8.5px,#062fef 12.5px,#0530ef 16.5px,#0530ef 20.5px,#0531f0 24.5px,#0532f0 28.5px,#0533f0 32.5px,#0436f2 36.5px,#023ff5 40.5px,#0063fb 44.5px,#009aff 48.5px,#00dbfa 52.5px,#00efc0 56.5px,#00ea64 60.5px,#07ea31 64.5px,#11ec17 68.5px,#22ed0f 72.5px,#30ed0f 76.5px,#39ee0f 80.5px,#3eee0f 84.5px,#3fee0f 88.5px,#3fee0f 92.5px,#40ee0f 96.5px,#41ee0f 100.5px,#41ee0f 104.5px,#37ee0f 108.5px,#0feb1c 112.5px,#00ea57 116.5px,#00eca0 120.5px,#00f3e8 124.5px,#00ccfb 128.5px,#009cff 132.5px,#0071fc 136.5px,#004af9 140.5px,#0533f0 144.5px,#062bed 148.5px,#0729ec 152.5px,#0729ec 156.5px,#0728ec 160.5px,#0728ec 164.5px,#0728ec 168.5px,#0728ec 172.5px,#0728ec 173.5px)"></i>
<i style="top:170px;height:2px;background:linear-gradient(90deg,#0532f0 0.5px,#0532f0 4.5px,#0532f0 8.5px,#0532f0 12.5px,#0532f0 16.5px,#0532f0 20.5px,#0533f0 24.5px,#0534f1 28.5px,#0435f1 32.5px,#0436f2 36.5px,#033ef5 40.5px,#0061fb 44.5px,#0097ff 48.5px,#00dbfa 52.5px,#00efbd 56.5px,#00ea63 60.5px,#04ea36 64.5px,#0deb20 68.5px,#16ec0f 72.5px,#27ed0f 76.5px,#33ed0f 80.5px,#39ee0f 84.5px,#3aee0f 88.5px,#3aee0f 92.5px,#3aee0f 96.5px,#3bee0f 100.5px,#3bee0f 104.5px,#2fed0f 108.5px,#0beb25 112.5px,#00ea69 116.5px,#00eeb5 120.5px,#00f0f8 124.5px,#00bdfc 128.5px,#0090fe 132.5px,#0069fc 136.5px,#0145f8 140.5px,#0530ef 144.5px,#062bed 148.5px,#062bed 152.5px,#062bed 156.5px,#062bed 160.5px,#062bed 164.5px,#062bed 168.5px,#062bed 172.5px,#062bed 173.5px)"></i>
<i style="top:172px;height:2px;background:linear-gradient(90deg,#0532f0 0.5px,#0532f0 4.5px,#0532f0 8.5px,#0532f0 12.5px,#0532f0 16.5px,#0533f0 20.5px,#0533f1 24.5px,#0534f1 28.5px,#0435f1 32.5px,#0436f2 36.5px,#033df5 40.5px,#0061fb 44.5px,#0097ff 48.5px,#00dafa 52.5px,#00efbd 56.5px,#00ea63 60.5px,#04ea36 64.5px,#0deb21 68.5px,#15ec0f 72.5px,#26ed0f 76.5px,#32ed0f 80.5px,#38ee0f 84.5px,#3aee0f 88.5px,#3aee0f 92.5px,#3aee0f 96.5px,#3aee0f 100.5px,#3aee0f 104.5px,#2eed0f 108.5px,#0beb27 112.5px,#00ea6c 116.5px,#00eeb8 120.5px,#00eef8 124.5px,#00bcfc 128.5px,#008ffe 132.5px,#0068fc 136.5px,#0145f7 140.5px,#0530ef 144.5px,#062bed 148.5px,#062bed 152.5px,#062bed 156.5px,#062bed 160.5px,#062bed 164.5px,#062bed 168.5px,#062bed 172.5px,#062bed 173.5px)"></i>
<i style="top:174px;height:2px;background:linear-gradient(90deg,#0532f0 0.5px,#0532f0 4.5px,#0532f0 8.5px,#0532f0 12.5px,#0532f0 16.5px,#0533f0 20.5px,#0533f1 24.5px,#0534f1 28.5px,#0435f1 32.5px,#0436f2 36.5px,#033df5 40.5px,#0061fb 44.5px,#0097ff 48.5px,#00dafa 52.5px,#00efbd 56.5px,#00ea63 60.5px,#04ea36 64.5px,#0deb21 68.5px,#15ec0f 72.5px,#26ed0f 76.5px,#32ed0f 80.5px,#38ee0f 84.5px,#3aee0f 88.5px,#3aee0f 92.5px,#3aee0f 96.5px,#3aee0f 100.5px,#3aee0f 104.5px,#2eed0f 108.5px,#0beb27 112.5px,#00ea6c 116.5px,#00eeb8 120.5px,#00eef8 124.5px,#00bcfc 128.5px,#008ffe 132.5px,#0068fc 136.5px,#0145f7 140.5px,#0530ef 144.5px,#062bed 148.5px,#062bed 152.5px,#062bed 156.5px,#062bed 160.5px,#062bed 164.5px,#062bed 168.5px,#062bed 172.5px,#062bed 173.5px)"></i></div></div>
<div class="hm" style="left:541px;top:20px;width:162px;height:164px"><div class="hmi" style="left:-6px;top:-6px;width:174px;height:176px"><i style="top:0px;height:2px;background:linear-gradient(90deg,#0056fb 0.5px,#0056fb 4.5px,#0056fb 8.5px,#0057fb 12.5px,#0057fb 16.5px,#0058fb 20.5px,#0058fb 24.5px,#0059fb 28.5px,#005bfb 32.5px,#0060fb 36.5px,#0067fc 40.5px,#0071fc 44.5px,#0080fd 48.5px,#009aff 52.5px,#00c3fc 56.5px,#00f3ef 60.5px,#00efc1 64.5px,#00eb86 68.5px,#00e942 72.5px,#0aeb28 76.5px,#12ec14 80.5px,#1cec0f 84.5px,#1eec0f 88.5px,#15ec0f 92.5px,#0feb1b 96.5px,#08ea2c 100.5px,#00e94a 104.5px,#00eb7d 108.5px,#00edab 112.5px,#00f1d7 116.5px,#00f4f8 120.5px,#00e2f9 124.5px,#00d9fa 128.5px,#00d5fa 132.5px,#00d0fb 136.5px,#00cafb 140.5px,#00c5fc 144.5px,#00c1fc 148.5px,#00befc 152.5px,#00bcfc 156.5px,#00bafd 160.5px,#00b8fd 164.5px,#00b8fd 168.5px,#00b8fd 172.5px,#00b8fd 173.5px)"></i>
<i style="top:2px;height:2px;background:linear-gradient(90deg,#0056fb 0.5px,#0056fb 4.5px,#0056fb 8.5px,#0057fb 12.5px,#0057fb 16.5px,#0058fb 20.5px,#0058fb 24.5px,#0059fb 28.5px,#005bfb 32.5px,#0060fb 36.5px,#0067fc 40.5px,#0071fc 44.5px,#0080fd 48.5px,#009aff 52.5px,#00c3fc 56.5px,#00f3ef 60.5px,#00efc1 64.5px,#00eb86 68.5px,#00e942 72.5px,#0aeb28 76.5px,#12ec14 80.5px,#1cec0f 84.5px,#1eec0f 88.5px,#15ec0f 92.5px,#0feb1b 96.5px,#08ea2c 100.5px,#00e94a 104.5px,#00eb7d 108.5px,#00edab 112.5px,#00f1d7 116.5px,#00f4f8 120.5px,#00e2f9 124.5px,#00d9fa 128.5px,#00d5fa 132.5px,#00d0fb 136.5px,#00cafb 140.5px,#00c5fc 144.5px,#00c1fc 148.5px,#00befc 152.5px,#00bcfc 156.5px,#00bafd 160.5px,#00b8fd 164.5px,#00b8fd 168.5px,#00b8fd 172.5px,#00b8fd 173.5px)"></i>
<i style="top:4px;height:2px;background:linear-gradient(90deg,#0056fb 0.5px,#0056fb 4.5px,#0056fb 8.5px,#0057fb 12.5px,#0057fb 16.5px,#0058fb 20.5px,#0058fb 24.5px,#0059fb 28.5px,#005bfb 32.5px,#0060fb 36.5px,#0067fc 40.5px,#0071fc 44.5px,#0080fd 48.5px,#009aff 52.5px,#00c3fc 56.5px,#00f3ef 60.5px,#00efc1 64.5px,#00eb86 68.5px,#00e942 72.5px,#0aeb28 76.5px,#12ec14 80.5px,#1cec0f 84.5px,#1eec0f 88.5px,#15ec0f 92.5px,#0feb1b 96.5px,#08ea2c 100.5px,#00e94a 104.5px,#00eb7d 108.5px,#00edab 112.5px,#00f1d7 116.5px,#00f4f8 120.5px,#00e2f9 124.5px,#00d9fa 128.5px,#00d4fa 132.5px,#00d0fb 136.5px,#00cafb 140.5px,#00c5fc 144.5px,#00c1fc 148.5px,#00befc 152.5px,#00bcfc 156.5px,#00b9fd 160.5px,#00b8fd 164.5px,#00b7fd 168.5px,#00b7fd 172.5px,#00b7fd 173.5px)"></i>
<i style="top:6px;height:2px;background:linear-gradient(90deg,#0056fb 0.5px,#0056fb 4.5px,#0056fb 8.5px,#0056fb 12.5px,#0057fb 16.5px,#0057fb 20.5px,#0058fb 24.5px,#0059fb 28.5px,#005bfb 32.5px,#005ffb 36.5px,#0067fc 40.5px,#0071fc 44.5px,#007ffd 48.5px,#0099ff 52.5px,#00c3fc 56.5px,#00f3ef 60.5px,#00efc1 64.5px,#00eb86 68.5px,#00e942 72.5px,#0aeb28 76.5px,#12ec14 80.5px,#1cec0f 84.5px,#1eec0f 88.5px,#16ec0f 92.5px,#0feb1b 96.5px,#08ea2c 100.5px,#00e94a 104.5px,#00eb7d 108.5px,#00edab 112.5px,#00f1d7 116.5px,#00f4f8 120.5px,#00e2f9 124.5px,#00d9fa 128.5px,#00d4fa 132.5px,#00d0fb 136.5px,#00cafb 140.5px,#00c4fc 144.5px,#00c0fc 148.5px,#00bdfc 152.5px,#00bafd 156.5px,#00b8fd 160.5px,#00b6fd 164.5px,#00b6fd 168.5px,#00b5fd 172.5px,#00b5fd 173.5px)"></i>
<i style="top:8px;height:2px;background:linear-gradient(90deg,#0056fb 0.5px,#0056fb 4.5px,#0056fb 8.5px,#0056fb 12.5px,#0056fb 16.5px,#0057fb 20.5px,#0058fb 24.5px,#0059fb 28.5px,#005bfb 32.5px,#005ffb 36.5px,#0067fc 40.5px,#0071fc 44.5px,#007ffd 48.5px,#0099ff 52.5px,#00c1fc 56.5px,#00f3f0 60.5px,#00efc1 64.5px,#00eb86 68.5px,#00e943 72.5px,#0aeb28 76.5px,#12ec14 80.5px,#1dec0f 84.5px,#1fed0f 88.5px,#16ec0f 92.5px,#0feb1b 96.5px,#08ea2c 100.5px,#00e94a 104.5px,#00eb7d 108.5px,#00edab 112.5px,#00f1d7 116.5px,#00f4f8 120.5px,#00e2f9 124.5px,#00d9fa 128.5px,#00d4fb 132.5px,#00cffb 136.5px,#00c9fb 140.5px,#00c3fc 144.5px,#00befc 148.5px,#00bafd 152.5px,#00b7fd 156.5px,#00b5fd 160.5px,#00b3fd 164.5px,#00b2fd 168.5px,#00b2fd 172.5px,#00b2fd 173.5px)"></i>
<i style="top:10px;height:2px;background:linear-gradient(90deg,#0055fb 0.5px,#0055fb 4.5px,#0055fb 8.5px,#0055fb 12.5px,#0056fb 16.5px,#0056fb 20.5px,#0057fb 24.5px,#0058fb 28.5px,#005afb 32.5px,#005ffb 36.5px,#0067fc 40.5px,#0071fc 44.5px,#007ffd 48.5px,#0098ff 52.5px,#00c0fc 56.5px,#00f3f2 60.5px,#00efc1 64.5px,#00eb87 68.5px,#00e943 72.5px,#0aeb27 76.5px,#12ec13 80.5px,#1eec0f 84.5px,#20ed0f 88.5px,#17ec0f 92.5px,#10eb1a 96.5px,#08ea2c 100.5px,#00e94a 104.5px,#00eb7d 108.5px,#00edab 112.5px,#00f1d7 116.5px,#00f4f8 120.5px,#00e1f9 124.5px,#00d8fa 128.5px,#00d3fb 132.5px,#00cffb 136.5px,#00c8fb 140.5px,#00c1fc 144.5px,#00bcfc 148.5px,#00b8fd 152.5px,#00b4fd 156.5px,#00b2fd 160.5px,#00affd 164.5px,#00aefd 168.5px,#00aefd 172.5px,#00aefd 173.5px)"></i>
<i style="top:12px;height:2px;background:linear-gradient(90deg,#0054fb 0.5px,#0054fb 4.5px,#0054fb 8.5px,#0055fb 12.5px,#0055fb 16.5px,#0056fb 20.5px,#0057fb 24.5px,#0058fb 28.5px,#005afb 32.5px,#005ffb 36.5px,#0067fc 40.5px,#0071fc 44.5px,#007ffd 48.5px,#0098ff 52.5px,#00bffc 56.5px,#00f4f3 60.5px,#00efc1 64.5px,#00eb87 68.5px,#00e944 72.5px,#0aeb27 76.5px,#12ec13 80.5px,#1fed0f 84.5px,#21ed0f 88.5px,#18ec0f 92.5px,#10eb1a 96.5px,#08ea2c 100.5px,#00e94b 104.5px,#00eb7d 108.5px,#00edab 112.5px,#00f1d8 116.5px,#00f3f8 120.5px,#00e0fa 124.5px,#00d7fa 128.5px,#00d3fb 132.5px,#00cefb 136.5px,#00c7fc 140.5px,#00bffc 144.5px,#00b9fd 148.5px,#00b5fd 152.5px,#00b2fd 156.5px,#00aefd 160.5px,#00acfe 164.5px,#00abfe 168.5px,#00abfe 172.5px,#00abfe 173.5px)"></i>
<i style="top:14px;height:2px;background:linear-gradient(90deg,#0054fb 0.5px,#0054fb 4.5px,#0054fb 8.5px,#0054fb 12.5px,#0055fb 16.5px,#0055fb 20.5px,#0056fb 24.5px,#0058fb 28.5px,#005afb 32.5px,#005ffb 36.5px,#0066fc 40.5px,#0071fc 44.5px,#007efd 48.5px,#0097ff 52.5px,#00befc 56.5px,#00f4f4 60.5px,#00efc2 64.5px,#00eb88 68.5px,#00e945 72.5px,#0aeb27 76.5px,#13ec12 80.5px,#20ed0f 84.5px,#22ed0f 88.5px,#19ec0f 92.5px,#10eb19 96.5px,#08ea2c 100.5px,#00e94b 104.5px,#00eb7d 108.5px,#00edab 112.5px,#00f1d8 116.5px,#00f2f8 120.5px,#00dffa 124.5px,#00d6fa 128.5px,#00d1fb 132.5px,#00cdfb 136.5px,#00c5fc 140.5px,#00bdfc 144.5px,#00b7fd 148.5px,#00b3fd 152.5px,#00affd 156.5px,#00abfe 160.5px,#00a9fe 164.5px,#00a7fe 168.5px,#00a7fe 172.5px,#00a7fe 173.5px)"></i>
<i style="top:16px;height:2px;background:linear-gradient(90deg,#0053fb 0.5px,#0053fb 4.5px,#0053fb 8.5px,#0054fb 12.5px,#0054fb 16.5px,#0055fb 20.5px,#0056fb 24.5px,#0057fb 28.5px,#005afb 32.5px,#005ffb 36.5px,#0066fc 40.5px,#0070fc 44.5px,#007efd 48.5px,#0097ff 52.5px,#00bcfc 56.5px,#00f4f6 60.5px,#00efc2 64.5px,#00eb88 68.5px,#00e945 72.5px,#0aeb27 76.5px,#13ec11 80.5px,#21ed0f 84.5px,#24ed0f 88.5px,#1aec0f 92.5px,#10eb19 96.5px,#08ea2c 100.5px,#00e94b 104.5px,#00eb7e 108.5px,#00edac 112.5px,#00f1d8 116.5px,#00f1f8 120.5px,#00defa 124.5px,#00d5fa 128.5px,#00d0fb 132.5px,#00cbfb 136.5px,#00c4fc 140.5px,#00bcfc 144.5px,#00b5fd 148.5px,#00b0fd 152.5px,#00acfe 156.5px,#00a9fe 160.5px,#00a6fe 164.5px,#00a4fe 168.5px,#00a4fe 172.5px,#00a4fe 173.5px)"></i>
<i style="top:18px;height:2px;background:linear-gradient(90deg,#0053fa 0.5px,#0053fa 4.5px,#0053fa 8.5px,#0053fb 12.5px,#0054fb 16.5px,#0055fb 20.5px,#0056fb 24.5px,#0057fb 28.5px,#0059fb 32.5px,#005efb 36.5px,#0066fc 40.5px,#0070fc 44.5px,#007efd 48.5px,#0096ff 52.5px,#00bbfc 56.5px,#00f4f7 60.5px,#00efc3 64.5px,#00eb88 68.5px,#00e946 72.5px,#0beb27 76.5px,#13ec11 80.5px,#23ed0f 84.5px,#25ed0f 88.5px,#1bec0f 92.5px,#10eb18 96.5px,#08ea2c 100.5px,#00e94c 104.5px,#00eb7e 108.5px,#00edac 112.5px,#00f1d9 116.5px,#00f0f8 120.5px,#00dcfa 124.5px,#00d3fb 128.5px,#00cefb 132.5px,#00c9fb 136.5px,#00c2fc 140.5px,#00bafd 144.5px,#00b3fd 148.5px,#00aefe 152.5px,#00a9fe 156.5px,#00a6fe 160.5px,#00a3fe 164.5px,#00a1ff 168.5px,#00a1ff 172.5px,#00a1ff 173.5px)"></i>
<i style="top:20px;height:2px;background:linear-gradient(90deg,#0052fa 0.5px,#0052fa 4.5px,#0052fa 8.5px,#0053fa 12.5px,#0053fb 16.5px,#0054fb 20.5px,#0055fb 24.5px,#0057fb 28.5px,#0059fb 32.5px,#005efb 36.5px,#0066fc 40.5px,#0070fc 44.5px,#007dfd 48.5px,#0095ff 52.5px,#00bafd 56.5px,#00f3f8 60.5px,#00efc3 64.5px,#00eb89 68.5px,#00e946 72.5px,#0beb26 76.5px,#14ec10 80.5px,#24ed0f 84.5px,#27ed0f 88.5px,#1dec0f 92.5px,#11eb18 96.5px,#08ea2c 100.5px,#00e94c 104.5px,#00eb7f 108.5px,#00eead 112.5px,#00f1d9 116.5px,#00eff8 120.5px,#00dafa 124.5px,#00d2fb 128.5px,#00cdfb 132.5px,#00c7fc 136.5px,#00c0fc 140.5px,#00b7fd 144.5px,#00b0fd 148.5px,#00abfe 152.5px,#00a7fe 156.5px,#00a3fe 160.5px,#00a0ff 164.5px,#009eff 168.5px,#009eff 172.5px,#009eff 173.5px)"></i>
<i style="top:22px;height:2px;background:linear-gradient(90deg,#0052fa 0.5px,#0052fa 4.5px,#0052fa 8.5px,#0052fa 12.5px,#0053fa 16.5px,#0054fb 20.5px,#0055fb 24.5px,#0057fb 28.5px,#0059fb 32.5px,#005efb 36.5px,#0066fc 40.5px,#0070fc 44.5px,#007dfd 48.5px,#0095ff 52.5px,#00b9fd 56.5px,#00f2f8 60.5px,#00f0c4 64.5px,#00eb89 68.5px,#00e947 72.5px,#0beb26 76.5px,#14ec0f 80.5px,#26ed0f 84.5px,#28ed0f 88.5px,#1eec0f 92.5px,#11ec17 96.5px,#08ea2c 100.5px,#00e94c 104.5px,#00eb7f 108.5px,#00eead 112.5px,#00f1da 116.5px,#00edf9 120.5px,#00d8fa 124.5px,#00d0fb 128.5px,#00cbfb 132.5px,#00c5fc 136.5px,#00befc 140.5px,#00b5fd 144.5px,#00aefd 148.5px,#00a9fe 152.5px,#00a4fe 156.5px,#00a0ff 160.5px,#009dff 164.5px,#009bff 168.5px,#009bff 172.5px,#009bff 173.5px)"></i>
<i style="top:24px;height:2px;background:linear-gradient(90deg,#0051fa 0.5px,#0051fa 4.5px,#0051fa 8.5px,#0052fa 12.5px,#0053fa 16.5px,#0054fb 20.5px,#0055fb 24.5px,#0056fb 28.5px,#0059fb 32.5px,#005efb 36.5px,#0065fc 40.5px,#006ffc 44.5px,#007cfd 48.5px,#0094ff 52.5px,#00b7fd 56.5px,#00f0f8 60.5px,#00f0c4 64.5px,#00eb8a 68.5px,#00e947 72.5px,#0beb26 76.5px,#15ec0f 80.5px,#27ed0f 84.5px,#2aed0f 88.5px,#1fed0f 92.5px,#11ec17 96.5px,#08ea2c 100.5px,#00e94d 104.5px,#00eb80 108.5px,#00eeae 112.5px,#00f1db 116.5px,#00ebf9 120.5px,#00d6fa 124.5px,#00cdfb 128.5px,#00c8fb 132.5px,#00c3fc 136.5px,#00bbfc 140.5px,#00b3fd 144.5px,#00acfe 148.5px,#00a7fe 152.5px,#00a2fe 156.5px,#009eff 160.5px,#009aff 164.5px,#0098ff 168.5px,#0098ff 172.5px,#0098ff 173.5px)"></i>
<i style="top:26px;height:2px;background:linear-gradient(90deg,#0051fa 0.5px,#0051fa 4.5px,#0051fa 8.5px,#0051fa 12.5px,#0052fa 16.5px,#0053fb 20.5px,#0055fb 24.5px,#0056fb 28.5px,#0059fb 32.5px,#005efb 36.5px,#0065fc 40.5px,#006ffc 44.5px,#007cfd 48.5px,#0093fe 52.5px,#00b6fd 56.5px,#00eff8 60.5px,#00f0c5 64.5px,#00eb8a 68.5px,#00e948 72.5px,#0beb25 76.5px,#16ec0f 80.5px,#29ed0f 84.5px,#2ced0f 88.5px,#20ed0f 92.5px,#11ec16 96.5px,#08ea2c 100.5px,#00e94d 104.5px,#00eb81 108.5px,#00eeaf 112.5px,#00f2dc 116.5px,#00eaf9 120.5px,#00d3fb 124.5px,#00cbfb 128.5px,#00c6fc 132.5px,#00c0fc 136.5px,#00b9fd 140.5px,#00b1fd 144.5px,#00aafe 148.5px,#00a4fe 152.5px,#00a0ff 156.5px,#009bff 160.5px,#0098ff 164.5px,#0096ff 168.5px,#0096ff 172.5px,#0096ff 173.5px)"></i>
<i style="top:28px;height:2px;background:linear-gradient(90deg,#0051fa 0.5px,#0051fa 4.5px,#0051fa 8.5px,#0051fa 12.5px,#0052fa 16.5px,#0053fb 20.5px,#0054fb 24.5px,#0056fb 28.5px,#0058fb 32.5px,#005dfb 36.5px,#0065fc 40.5px,#006ffc 44.5px,#007bfd 48.5px,#0092fe 52.5px,#00b5fd 56.5px,#00edf9 60.5px,#00f0c6 64.5px,#00eb8b 68.5px,#00e948 72.5px,#0beb25 76.5px,#17ec0f 80.5px,#2bed0f 84.5px,#2eed0f 88.5px,#22ed0f 92.5px,#11ec16 96.5px,#08ea2c 100.5px,#00e94e 104.5px,#00eb81 108.5px,#00eeb0 112.5px,#00f2dc 116.5px,#00e8f9 120.5px,#00d1fb 124.5px,#00c8fb 128.5px,#00c3fc 132.5px,#00befc 136.5px,#00b6fd 140.5px,#00aefd 144.5px,#00a7fe 148.5px,#00a2fe 152.5px,#009dff 156.5px,#0099ff 160.5px,#0096ff 164.5px,#0093ff 168.5px,#0093ff 172.5px,#0093ff 173.5px)"></i>
<i style="top:30px;height:2px;background:linear-gradient(90deg,#0050fa 0.5px,#0050fa 4.5px,#0050fa 8.5px,#0051fa 12.5px,#0052fa 16.5px,#0053fa 20.5px,#0054fb 24.5px,#0056fb 28.5px,#0058fb 32.5px,#005dfb 36.5px,#0065fc 40.5px,#006efc 44.5px,#007bfd 48.5px,#0091fe 52.5px,#00b4fd 56.5px,#00ecf9 60.5px,#00f0c7 64.5px,#00eb8b 68.5px,#00e949 72.5px,#0beb25 76.5px,#18ec0f 80.5px,#2ded0f 84.5px,#30ed0f 88.5px,#23ed0f 92.5px,#11ec15 96.5px,#08ea2c 100.5px,#00e94f 104.5px,#00eb82 108.5px,#00eeb0 112.5px,#00f2dd 116.5px,#00e6f9 120.5px,#00cefb 124.5px,#00c6fc 128.5px,#00c1fc 132.5px,#00bbfc 136.5px,#00b4fd 140.5px,#00acfe 144.5px,#00a5fe 148.5px,#00a0ff 152.5px,#009bff 156.5px,#0097ff 160.5px,#0093ff 164.5px,#0091fe 168.5px,#0091fe 172.5px,#0091fe 173.5px)"></i>
<i style="top:32px;height:2px;background:linear-gradient(90deg,#0050fa 0.5px,#0050fa 4.5px,#0050fa 8.5px,#0051fa 12.5px,#0052fa 16.5px,#0053fa 20.5px,#0054fb 24.5px,#0056fb 28.5px,#0058fb 32.5px,#005dfb 36.5px,#0064fc 40.5px,#006efc 44.5px,#007afd 48.5px,#0090fe 52.5px,#00b2fd 56.5px,#00eaf9 60.5px,#00f0c7 64.5px,#00eb8c 68.5px,#00e949 72.5px,#0beb24 76.5px,#1aec0f 80.5px,#2eed0f 84.5px,#32ed0f 88.5px,#24ed0f 92.5px,#12ec15 96.5px,#08ea2d 100.5px,#00e94f 104.5px,#00eb83 108.5px,#00eeb1 112.5px,#00f2de 116.5px,#00e3f9 120.5px,#00cbfb 124.5px,#00c3fc 128.5px,#00befc 132.5px,#00b8fd 136.5px,#00b1fd 140.5px,#00aafe 144.5px,#00a3fe 148.5px,#009dff 152.5px,#0099ff 156.5px,#0095ff 160.5px,#0091fe 164.5px,#008ffe 168.5px,#008ffe 172.5px,#008ffe 173.5px)"></i>
<i style="top:34px;height:2px;background:linear-gradient(90deg,#0050fa 0.5px,#0050fa 4.5px,#0050fa 8.5px,#0051fa 12.5px,#0051fa 16.5px,#0053fa 20.5px,#0054fb 24.5px,#0056fb 28.5px,#0058fb 32.5px,#005dfb 36.5px,#0064fc 40.5px,#006efc 44.5px,#007afd 48.5px,#008ffe 52.5px,#00b1fd 56.5px,#00e9f9 60.5px,#00f0c8 64.5px,#00ec8d 68.5px,#00e949 72.5px,#0ceb24 76.5px,#1bec0f 80.5px,#30ed0f 84.5px,#34ed0f 88.5px,#26ed0f 92.5px,#12ec15 96.5px,#08ea2d 100.5px,#00ea50 104.5px,#00eb84 108.5px,#00eeb2 112.5px,#00f2e0 116.5px,#00e1f9 120.5px,#00c8fb 124.5px,#00c0fc 128.5px,#00bbfc 132.5px,#00b5fd 136.5px,#00aefd 140.5px,#00a7fe 144.5px,#00a0ff 148.5px,#009bff 152.5px,#0097ff 156.5px,#0093fe 160.5px,#0090fe 164.5px,#008efe 168.5px,#008dfe 172.5px,#008dfe 173.5px)"></i>
<i style="top:36px;height:2px;background:linear-gradient(90deg,#0050fa 0.5px,#0050fa 4.5px,#0050fa 8.5px,#0050fa 12.5px,#0051fa 16.5px,#0052fa 20.5px,#0054fb 24.5px,#0056fb 28.5px,#0058fb 32.5px,#005dfb 36.5px,#0064fc 40.5px,#006dfc 44.5px,#0079fd 48.5px,#008ffe 52.5px,#00b0fd 56.5px,#00e7f9 60.5px,#00f0c9 64.5px,#00ec8d 68.5px,#00e94a 72.5px,#0ceb24 76.5px,#1cec0f 80.5px,#32ed0f 84.5px,#36ee0f 88.5px,#27ed0f 92.5px,#12ec14 96.5px,#08ea2d 100.5px,#00ea51 104.5px,#00eb85 108.5px,#00eeb3 112.5px,#00f2e1 116.5px,#00dffa 120.5px,#00c5fc 124.5px,#00bdfc 128.5px,#00b8fd 132.5px,#00b2fd 136.5px,#00acfe 140.5px,#00a4fe 144.5px,#009eff 148.5px,#0099ff 152.5px,#0095ff 156.5px,#0091fe 160.5px,#008efe 164.5px,#008cfe 168.5px,#008cfe 172.5px,#008cfe 173.5px)"></i>
<i style="top:38px;height:2px;background:linear-gradient(90deg,#0050fa 0.5px,#0050fa 4.5px,#0050fa 8.5px,#0050fa 12.5px,#0051fa 16.5px,#0052fa 20.5px,#0054fb 24.5px,#0056fb 28.5px,#0058fb 32.5px,#005dfb 36.5px,#0064fc 40.5px,#006dfc 44.5px,#0079fd 48.5px,#008efe 52.5px,#00affd 56.5px,#00e6f9 60.5px,#00f0ca 64.5px,#00ec8e 68.5px,#00e94a 72.5px,#0ceb23 76.5px,#1dec0f 80.5px,#34ee0f 84.5px,#38ee0f 88.5px,#28ed0f 92.5px,#12ec14 96.5px,#08ea2d 100.5px,#00ea52 104.5px,#00eb86 108.5px,#00eeb5 112.5px,#00f2e2 116.5px,#00dcfa 120.5px,#00c1fc 124.5px,#00bafd 128.5px,#00b5fd 132.5px,#00affd 136.5px,#00a9fe 140.5px,#00a2fe 144.5px,#009cff 148.5px,#0097ff 152.5px,#0093fe 156.5px,#008ffe 160.5px,#008cfe 164.5px,#008bfe 168.5px,#008bfe 172.5px,#008bfe 173.5px)"></i>
<i style="top:40px;height:2px;background:linear-gradient(90deg,#0050fa 0.5px,#0050fa 4.5px,#0050fa 8.5px,#0050fa 12.5px,#0051fa 16.5px,#0052fa 20.5px,#0054fb 24.5px,#0056fb 28.5px,#0058fb 32.5px,#005cfb 36.5px,#0063fc 40.5px,#006cfc 44.5px,#0078fd 48.5px,#008dfe 52.5px,#00adfe 56.5px,#00e4f9 60.5px,#00f0cb 64.5px,#00ec8e 68.5px,#00e94a 72.5px,#0ceb23 76.5px,#1fec0f 80.5px,#36ee0f 84.5px,#3aee0f 88.5px,#2aed0f 92.5px,#12ec13 96.5px,#08ea2d 100.5px,#00ea54 104.5px,#00eb88 108.5px,#00eeb7 112.5px,#00f2e5 116.5px,#00d8fa 120.5px,#00bcfc 124.5px,#00b5fd 128.5px,#00b1fd 132.5px,#00acfe 136.5px,#00a5fe 140.5px,#009fff 144.5px,#0099ff 148.5px,#0095ff 152.5px,#0091fe 156.5px,#008efe 160.5px,#008bfe 164.5px,#0089fe 168.5px,#0089fe 172.5px,#0089fe 173.5px)"></i>
<i style="top:42px;height:2px;background:linear-gradient(90deg,#0050fa 0.5px,#0050fa 4.5px,#0050fa 8.5px,#0050fa 12.5px,#0051fa 16.5px,#0052fa 20.5px,#0054fb 24.5px,#0056fb 28.5px,#0058fb 32.5px,#005cfb 36.5px,#0063fb 40.5px,#006cfc 44.5px,#0077fd 48.5px,#008bfe 52.5px,#00acfe 56.5px,#00e2f9 60.5px,#00f0cc 64.5px,#00ec8f 68.5px,#00e94a 72.5px,#0ceb22 76.5px,#20ed0f 80.5px,#38ee0f 84.5px,#3cee0f 88.5px,#2bed0f 92.5px,#12ec13 96.5px,#07ea2e 100.5px,#00ea57 104.5px,#00eb8b 108.5px,#00efba 112.5px,#00f3ea 116.5px,#00d2fb 120.5px,#00b5fd 124.5px,#00aefd 128.5px,#00abfe 132.5px,#00a7fe 136.5px,#00a1fe 140.5px,#009cff 144.5px,#0097ff 148.5px,#0092fe 152.5px,#008ffe 156.5px,#008cfe 160.5px,#008afe 164.5px,#0088fe 168.5px,#0088fe 172.5px,#0088fe 173.5px)"></i>
<i style="top:44px;height:2px;background:linear-gradient(90deg,#0050fa 0.5px,#0050fa 4.5px,#0050fa 8.5px,#0050fa 12.5px,#0051fa 16.5px,#0052fa 20.5px,#0054fb 24.5px,#0056fb 28.5px,#0058fb 32.5px,#005cfb 36.5px,#0063fb 40.5px,#006bfc 44.5px,#0076fd 48.5px,#008afe 52.5px,#00abfe 56.5px,#00e1fa 60.5px,#00f0cd 64.5px,#00ec8f 68.5px,#00e94b 72.5px,#0deb22 76.5px,#21ed0f 80.5px,#3bee0f 84.5px,#3eee0f 88.5px,#2ded0f 92.5px,#12ec13 96.5px,#07ea30 100.5px,#00ea5b 104.5px,#00ec90 108.5px,#00efbe 112.5px,#00f3f2 116.5px,#00cafb 120.5px,#00acfe 124.5px,#00a6fe 128.5px,#00a4fe 132.5px,#00a1ff 136.5px,#009dff 140.5px,#0099ff 144.5px,#0094ff 148.5px,#0090fe 152.5px,#008dfe 156.5px,#008bfe 160.5px,#0089fe 164.5px,#0087fe 168.5px,#0087fe 172.5px,#0087fe 173.5px)"></i>
<i style="top:46px;height:2px;background:linear-gradient(90deg,#0050fa 0.5px,#0050fa 4.5px,#0050fa 8.5px,#0050fa 12.5px,#0051fa 16.5px,#0052fa 20.5px,#0054fb 24.5px,#0056fb 28.5px,#0058fb 32.5px,#005cfb 36.5px,#0062fb 40.5px,#006bfc 44.5px,#0076fd 48.5px,#0089fe 52.5px,#00aafe 56.5px,#00dffa 60.5px,#00f0cf 64.5px,#00ec90 68.5px,#00e94b 72.5px,#0deb21 76.5px,#23ed0f 80.5px,#3dee0f 84.5px,#41ee0f 88.5px,#2eed0f 92.5px,#13ec13 96.5px,#06ea31 100.5px,#00ea61 104.5px,#00ec95 108.5px,#00f0c4 112.5px,#00f2f8 116.5px,#00c1fc 120.5px,#00a1ff 124.5px,#009cff 128.5px,#009cff 132.5px,#009aff 136.5px,#0098ff 140.5px,#0095ff 144.5px,#0091fe 148.5px,#008efe 152.5px,#008bfe 156.5px,#0089fe 160.5px,#0088fe 164.5px,#0086fe 168.5px,#0086fe 172.5px,#0086fe 173.5px)"></i>
<i style="top:48px;height:2px;background:linear-gradient(90deg,#0050fa 0.5px,#0050fa 4.5px,#0050fa 8.5px,#0050fa 12.5px,#0051fa 16.5px,#0052fa 20.5px,#0054fb 24.5px,#0056fb 28.5px,#0058fb 32.5px,#005cfb 36.5px,#0062fb 40.5px,#006afc 44.5px,#0075fd 48.5px,#0088fe 52.5px,#00a9fe 56.5px,#00ddfa 60.5px,#00f1d0 64.5px,#00ec91 68.5px,#00e94b 72.5px,#0deb20 76.5px,#24ed0f 80.5px,#3fee0f 84.5px,#43ee0f 88.5px,#2fed0f 92.5px,#13ec12 96.5px,#06ea33 100.5px,#00ea66 104.5px,#00ec9b 108.5px,#00f0ca 112.5px,#00eaf9 116.5px,#00b7fd 120.5px,#0095ff 124.5px,#0091fe 128.5px,#0093fe 132.5px,#0093ff 136.5px,#0093fe 140.5px,#0091fe 144.5px,#008ffe 148.5px,#008cfe 152.5px,#008afe 156.5px,#0088fe 160.5px,#0086fe 164.5px,#0086fe 168.5px,#0086fe 172.5px,#0086fe 173.5px)"></i>
<i style="top:50px;height:2px;background:linear-gradient(90deg,#0050fa 0.5px,#0050fa 4.5px,#0050fa 8.5px,#0050fa 12.5px,#0051fa 16.5px,#0052fa 20.5px,#0054fb 24.5px,#0056fb 28.5px,#0058fb 32.5px,#005cfb 36.5px,#0062fb 40.5px,#006afc 44.5px,#0074fd 48.5px,#0087fe 52.5px,#00a8fe 56.5px,#00dbfa 60.5px,#00f1d2 64.5px,#00ec92 68.5px,#00e94b 72.5px,#0deb20 76.5px,#26ed0f 80.5px,#42ee0f 84.5px,#46ee0f 88.5px,#31ed0f 92.5px,#13ec12 96.5px,#05ea35 100.5px,#00ea6c 104.5px,#00eda2 108.5px,#00f1d0 112.5px,#00e1fa 116.5px,#00acfe 120.5px,#0089fe 124.5px,#0086fe 128.5px,#008afe 132.5px,#008cfe 136.5px,#008dfe 140.5px,#008efe 144.5px,#008cfe 148.5px,#008afe 152.5px,#0088fe 156.5px,#0087fe 160.5px,#0085fe 164.5px,#0085fe 168.5px,#0085fe 172.5px,#0085fe 173.5px)"></i>
<i style="top:52px;height:2px;background:linear-gradient(90deg,#0050fa 0.5px,#0050fa 4.5px,#0050fa 8.5px,#0050fa 12.5px,#0051fa 16.5px,#0052fa 20.5px,#0054fb 24.5px,#0056fb 28.5px,#0058fb 32.5px,#005cfb 36.5px,#0061fb 40.5px,#0069fc 44.5px,#0073fc 48.5px,#0085fe 52.5px,#00a6fe 56.5px,#00d9fa 60.5px,#00f1d4 64.5px,#00ec92 68.5px,#00e94b 72.5px,#0eeb1f 76.5px,#28ed0f 80.5px,#45ee0f 84.5px,#49ee0f 88.5px,#33ed0f 92.5px,#13ec12 96.5px,#04ea37 100.5px,#00eb72 104.5px,#00eda8 108.5px,#00f1d7 112.5px,#00d7fa 116.5px,#00a1ff 120.5px,#007cfd 124.5px,#007bfd 128.5px,#0081fd 132.5px,#0085fe 136.5px,#0088fe 140.5px,#008afe 144.5px,#008afe 148.5px,#0088fe 152.5px,#0087fe 156.5px,#0085fe 160.5px,#0085fe 164.5px,#0084fe 168.5px,#0084fe 172.5px,#0084fe 173.5px)"></i>
<i style="top:54px;height:2px;background:linear-gradient(90deg,#0050fa 0.5px,#0050fa 4.5px,#0050fa 8.5px,#0050fa 12.5px,#0051fa 16.5px,#0052fa 20.5px,#0054fb 24.5px,#0056fb 28.5px,#0058fb 32.5px,#005bfb 36.5px,#0061fb 40.5px,#0068fc 44.5px,#0072fc 48.5px,#0084fe 52.5px,#00a5fe 56.5px,#00d7fa 60.5px,#00f1d6 64.5px,#00ec93 68.5px,#00e94b 72.5px,#0eeb1e 76.5px,#2aed0f 80.5px,#48ee0f 84.5px,#4cef0f 88.5px,#34ee0f 92.5px,#13ec12 96.5px,#03ea39 100.5px,#00eb78 104.5px,#00eeae 108.5px,#00f2de 112.5px,#00cefb 116.5px,#0096ff 120.5px,#0071fc 124.5px,#0071fc 128.5px,#0078fd 132.5px,#007dfd 136.5px,#0083fd 140.5px,#0086fe 144.5px,#0087fe 148.5px,#0086fe 152.5px,#0085fe 156.5px,#0084fe 160.5px,#0084fe 164.5px,#0083fe 168.5px,#0083fe 172.5px,#0083fe 173.5px)"></i>
<i style="top:56px;height:2px;background:linear-gradient(90deg,#0050fa 0.5px,#0050fa 4.5px,#0050fa 8.5px,#0050fa 12.5px,#0051fa 16.5px,#0052fa 20.5px,#0054fb 24.5px,#0056fb 28.5px,#0058fb 32.5px,#005bfb 36.5px,#0060fb 40.5px,#0068fc 44.5px,#0071fc 48.5px,#0082fd 52.5px,#00a4fe 56.5px,#00d5fa 60.5px,#00f1d8 64.5px,#00ec94 68.5px,#00e94b 72.5px,#0eeb1d 76.5px,#2ced0f 80.5px,#4bef0f 84.5px,#50ef0f 88.5px,#37ee0f 92.5px,#13ec11 96.5px,#03e93a 100.5px,#00eb7c 104.5px,#00eeb3 108.5px,#00f2e5 112.5px,#00c5fc 116.5px,#008cfe 120.5px,#0066fc 124.5px,#0067fc 128.5px,#0070fc 132.5px,#0077fd 136.5px,#007efd 140.5px,#0083fd 144.5px,#0084fe 148.5px,#0084fe 152.5px,#0084fe 156.5px,#0083fe 160.5px,#0083fd 164.5px,#0083fd 168.5px,#0083fd 172.5px,#0083fd 173.5px)"></i>
<i style="top:58px;height:2px;background:linear-gradient(90deg,#0050fa 0.5px,#0050fa 4.5px,#0050fa 8.5px,#0050fa 12.5px,#0051fa 16.5px,#0052fa 20.5px,#0054fb 24.5px,#0056fb 28.5px,#0058fb 32.5px,#005bfb 36.5px,#0060fb 40.5px,#0067fc 44.5px,#0070fc 48.5px,#0081fd 52.5px,#00a2fe 56.5px,#00d3fb 60.5px,#00f1da 64.5px,#00ec95 68.5px,#00e94c 72.5px,#0feb1c 76.5px,#2eed0f 80.5px,#4fef0f 84.5px,#54ef0f 88.5px,#39ee0f 92.5px,#13ec11 96.5px,#02e93b 100.5px,#00eb80 104.5px,#00eeb8 108.5px,#00f3ec 112.5px,#00bcfc 116.5px,#0082fd 120.5px,#005cfb 124.5px,#005efb 128.5px,#0068fc 132.5px,#0071fc 136.5px,#0079fd 140.5px,#007ffd 144.5px,#0082fd 148.5px,#0082fd 152.5px,#0082fd 156.5px,#0082fd 160.5px,#0082fd 164.5px,#0082fd 168.5px,#0082fd 172.5px,#0082fd 173.5px)"></i>
<i style="top:60px;height:2px;background:linear-gradient(90deg,#0050fa 0.5px,#0050fa 4.5px,#0050fa 8.5px,#0050fa 12.5px,#0051fa 16.5px,#0053fa 20.5px,#0054fb 24.5px,#0056fb 28.5px,#0058fb 32.5px,#005bfb 36.5px,#0060fb 40.5px,#0066fc 44.5px,#006ffc 48.5px,#0080fd 52.5px,#00a1ff 56.5px,#00d0fb 60.5px,#00f2dc 64.5px,#00ec96 68.5px,#00e94c 72.5px,#0feb1b 76.5px,#31ed0f 80.5px,#53ef0f 84.5px,#58ef0f 88.5px,#3cee0f 92.5px,#14ec10 96.5px,#02e93c 100.5px,#00eb83 104.5px,#00efbb 108.5px,#00f3f2 112.5px,#00b4fd 116.5px,#007afd 120.5px,#0055fb 124.5px,#0058fb 128.5px,#0062fb 132.5px,#006cfc 136.5px,#0075fd 140.5px,#007cfd 144.5px,#0080fd 148.5px,#0081fd 152.5px,#0081fd 156.5px,#0081fd 160.5px,#0082fd 164.5px,#0082fd 168.5px,#0082fd 172.5px,#0082fd 173.5px)"></i>
<i style="top:62px;height:2px;background:linear-gradient(90deg,#0050fa 0.5px,#0050fa 4.5px,#0050fa 8.5px,#0050fa 12.5px,#0051fa 16.5px,#0053fa 20.5px,#0054fb 24.5px,#0056fb 28.5px,#0058fb 32.5px,#005bfb 36.5px,#005ffb 40.5px,#0066fc 44.5px,#006efc 48.5px,#007efd 52.5px,#009fff 56.5px,#00cdfb 60.5px,#00f2df 64.5px,#00ec96 68.5px,#00e94b 72.5px,#10eb1a 76.5px,#34ee0f 80.5px,#58ef0f 84.5px,#5def0f 88.5px,#3fee0f 92.5px,#14ec0f 96.5px,#02e93d 100.5px,#00eb84 104.5px,#00efbd 108.5px,#00f4f8 112.5px,#00aefe 116.5px,#0074fd 120.5px,#0050fa 124.5px,#0053fb 128.5px,#005efb 132.5px,#0068fc 136.5px,#0072fc 140.5px,#007afd 144.5px,#007efd 148.5px,#007ffd 152.5px,#0080fd 156.5px,#0081fd 160.5px,#0081fd 164.5px,#0081fd 168.5px,#0081fd 172.5px,#0081fd 173.5px)"></i>
<i style="top:64px;height:2px;background:linear-gradient(90deg,#0050fa 0.5px,#0050fa 4.5px,#0050fa 8.5px,#0050fa 12.5px,#0051fa 16.5px,#0052fa 20.5px,#0054fb 24.5px,#0056fb 28.5px,#0058fb 32.5px,#005bfb 36.5px,#005ffb 40.5px,#0065fc 44.5px,#006dfc 48.5px,#007dfd 52.5px,#009cff 56.5px,#00cafb 60.5px,#00f2e2 64.5px,#00ec97 68.5px,#00e94b 72.5px,#10eb18 76.5px,#38ee0f 80.5px,#5eef0f 84.5px,#64f00f 88.5px,#43ee0f 92.5px,#15ec0f 96.5px,#02e93c 100.5px,#00eb83 104.5px,#00efbd 108.5px,#00f0f8 112.5px,#00a8fe 116.5px,#006ffc 120.5px,#004dfa 124.5px,#0050fa 128.5px,#005bfb 132.5px,#0065fc 136.5px,#006ffc 140.5px,#0077fd 144.5px,#007cfd 148.5px,#007efd 152.5px,#007ffd 156.5px,#0080fd 160.5px,#0080fd 164.5px,#0081fd 168.5px,#0081fd 172.5px,#0081fd 173.5px)"></i>
<i style="top:66px;height:2px;background:linear-gradient(90deg,#0050fa 0.5px,#0050fa 4.5px,#0050fa 8.5px,#0050fa 12.5px,#0051fa 16.5px,#0052fa 20.5px,#0054fb 24.5px,#0056fb 28.5px,#0057fb 32.5px,#005afb 36.5px,#005efb 40.5px,#0064fc 44.5px,#006cfc 48.5px,#007bfd 52.5px,#0099ff 56.5px,#00c6fc 60.5px,#00f2e6 64.5px,#00ec99 68.5px,#00e94a 72.5px,#11ec16 76.5px,#3dee0f 80.5px,#67f00f 84.5px,#6df00f 88.5px,#4aef0f 92.5px,#19ec0f 96.5px,#03e939 100.5px,#00eb80 104.5px,#00efbd 108.5px,#00ebf9 112.5px,#00a2fe 116.5px,#006afc 120.5px,#004afa 124.5px,#004efa 128.5px,#0058fb 132.5px,#0062fb 136.5px,#006cfc 140.5px,#0075fd 144.5px,#007afd 148.5px,#007cfd 152.5px,#007efd 156.5px,#007ffd 160.5px,#0080fd 164.5px,#0080fd 168.5px,#0080fd 172.5px,#0080fd 173.5px)"></i>
<i style="top:68px;height:2px;background:linear-gradient(90deg,#0050fa 0.5px,#0050fa 4.5px,#0050fa 8.5px,#0050fa 12.5px,#0051fa 16.5px,#0052fa 20.5px,#0054fb 24.5px,#0055fb 28.5px,#0057fb 32.5px,#005afb 36.5px,#005efb 40.5px,#0063fc 44.5px,#006bfc 48.5px,#0079fd 52.5px,#0095ff 56.5px,#00c1fc 60.5px,#00f3eb 64.5px,#00ec9a 68.5px,#00e949 72.5px,#12ec13 76.5px,#43ee0f 80.5px,#73f010 84.5px,#7af010 88.5px,#53ef0f 92.5px,#1fed0f 96.5px,#05ea35 100.5px,#00eb7b 104.5px,#00efbc 108.5px,#00e6f9 112.5px,#009cff 116.5px,#0065fc 120.5px,#0049f9 124.5px,#004cfa 128.5px,#0055fb 132.5px,#005ffb 136.5px,#006afc 140.5px,#0073fc 144.5px,#0078fd 148.5px,#007bfd 152.5px,#007dfd 156.5px,#007efd 160.5px,#007ffd 164.5px,#0080fd 168.5px,#0080fd 172.5px,#0080fd 173.5px)"></i>
<i style="top:70px;height:2px;background:linear-gradient(90deg,#0050fa 0.5px,#0050fa 4.5px,#0050fa 8.5px,#0050fa 12.5px,#0051fa 16.5px,#0052fa 20.5px,#0054fb 24.5px,#0055fb 28.5px,#0057fb 32.5px,#005afb 36.5px,#005dfb 40.5px,#0062fb 44.5px,#006afc 48.5px,#0076fd 52.5px,#0091fe 56.5px,#00bcfc 60.5px,#00f3f0 64.5px,#00ec9b 68.5px,#00e948 72.5px,#14ec10 76.5px,#4bef0f 80.5px,#80f010 84.5px,#89f011 88.5px,#5def0f 92.5px,#27ed0f 96.5px,#07ea2f 100.5px,#00eb74 104.5px,#00efbb 108.5px,#00e2f9 112.5px,#0096ff 116.5px,#0060fb 120.5px,#0147f8 124.5px,#004afa 128.5px,#0053fa 132.5px,#005cfb 136.5px,#0067fc 140.5px,#0071fc 144.5px,#0077fd 148.5px,#007afd 152.5px,#007cfd 156.5px,#007efd 160.5px,#007ffd 164.5px,#007ffd 168.5px,#007ffd 172.5px,#007ffd 173.5px)"></i>
<i style="top:72px;height:2px;background:linear-gradient(90deg,#0050fa 0.5px,#0050fa 4.5px,#0050fa 8.5px,#0050fa 12.5px,#0051fa 16.5px,#0052fa 20.5px,#0054fb 24.5px,#0055fb 28.5px,#0057fb 32.5px,#0059fb 36.5px,#005cfb 40.5px,#0061fb 44.5px,#0069fc 48.5px,#0075fd 52.5px,#008cfe 56.5px,#00b7fd 60.5px,#00f4f5 64.5px,#00ec9d 68.5px,#00e946 72.5px,#17ec0f 76.5px,#54ef0f 80.5px,#90f011 84.5px,#99f012 88.5px,#6af00f 92.5px,#30ed0f 96.5px,#0aea28 100.5px,#00ea6c 104.5px,#00efba 108.5px,#00ddfa 112.5px,#0091fe 116.5px,#005dfb 120.5px,#0146f8 124.5px,#0049f9 128.5px,#0051fa 132.5px,#005afb 136.5px,#0065fc 140.5px,#006ffc 144.5px,#0075fd 148.5px,#0079fd 152.5px,#007bfd 156.5px,#007dfd 160.5px,#007ffd 164.5px,#007ffd 168.5px,#007ffd 172.5px,#007ffd 173.5px)"></i>
<i style="top:74px;height:2px;background:linear-gradient(90deg,#0050fa 0.5px,#0050fa 4.5px,#0050fa 8.5px,#0050fa 12.5px,#0051fa 16.5px,#0052fa 20.5px,#0053fb 24.5px,#0055fb 28.5px,#0057fb 32.5px,#0059fb 36.5px,#005cfb 40.5px,#0061fb 44.5px,#0068fc 48.5px,#0073fc 52.5px,#0089fe 56.5px,#00b3fd 60.5px,#00f3f8 64.5px,#00ec9e 68.5px,#00e944 72.5px,#1cec0f 76.5px,#5def0f 80.5px,#a1f012 84.5px,#acf013 88.5px,#78f010 92.5px,#3bee0f 96.5px,#0deb20 100.5px,#00ea63 104.5px,#00efb8 108.5px,#00dafa 112.5px,#008cfe 116.5px,#0059fb 120.5px,#0145f7 124.5px,#0148f9 128.5px,#004ffa 132.5px,#0058fb 136.5px,#0063fc 140.5px,#006dfc 144.5px,#0074fd 148.5px,#0077fd 152.5px,#007afd 156.5px,#007dfd 160.5px,#007efd 164.5px,#007ffd 168.5px,#007ffd 172.5px,#007ffd 173.5px)"></i>
<i style="top:76px;height:2px;background:linear-gradient(90deg,#0050fa 0.5px,#0050fa 4.5px,#0050fa 8.5px,#0050fa 12.5px,#0051fa 16.5px,#0052fa 20.5px,#0053fb 24.5px,#0055fb 28.5px,#0057fb 32.5px,#0059fb 36.5px,#005bfb 40.5px,#0060fb 44.5px,#0067fc 48.5px,#0072fc 52.5px,#0085fe 56.5px,#00affd 60.5px,#00f0f8 64.5px,#00ec9f 68.5px,#00e941 72.5px,#21ed0f 76.5px,#68f00f 80.5px,#b2f014 84.5px,#bcf014 88.5px,#88f011 92.5px,#47ee0f 96.5px,#10eb18 100.5px,#00ea5b 104.5px,#00eeb7 108.5px,#00d6fa 112.5px,#0089fe 116.5px,#0057fb 120.5px,#0144f7 124.5px,#0147f8 128.5px,#004efa 132.5px,#0057fb 136.5px,#0062fb 140.5px,#006cfc 144.5px,#0072fc 148.5px,#0076fd 152.5px,#007afd 156.5px,#007cfd 160.5px,#007efd 164.5px,#007efd 168.5px,#007efd 172.5px,#007efd 173.5px)"></i>
<i style="top:78px;height:2px;background:linear-gradient(90deg,#0050fa 0.5px,#0050fa 4.5px,#0050fa 8.5px,#0050fa 12.5px,#0051fa 16.5px,#0052fa 20.5px,#0053fb 24.5px,#0055fb 28.5px,#0057fb 32.5px,#0059fb 36.5px,#005bfb 40.5px,#0060fb 44.5px,#0067fc 48.5px,#0071fc 52.5px,#0083fe 56.5px,#00acfe 60.5px,#00eef8 64.5px,#00ec9f 68.5px,#01e93f 72.5px,#28ed0f 76.5px,#75f010 80.5px,#c0f015 84.5px,#c8ef15 88.5px,#9af012 92.5px,#54ef0f 96.5px,#14ec0f 100.5px,#00ea52 104.5px,#00eeb6 108.5px,#00d4fb 112.5px,#0087fe 116.5px,#0056fb 120.5px,#0243f7 124.5px,#0147f8 128.5px,#004dfa 132.5px,#0056fb 136.5px,#0061fb 140.5px,#006afc 144.5px,#0071fc 148.5px,#0075fd 152.5px,#0079fd 156.5px,#007bfd 160.5px,#007dfd 164.5px,#007efd 168.5px,#007efd 172.5px,#007efd 173.5px)"></i>
<i style="top:80px;height:2px;background:linear-gradient(90deg,#0050fa 0.5px,#0050fa 4.5px,#0050fa 8.5px,#0050fa 12.5px,#0051fa 16.5px,#0052fa 20.5px,#0053fb 24.5px,#0055fb 28.5px,#0057fb 32.5px,#0059fb 36.5px,#005bfb 40.5px,#0060fb 44.5px,#0067fc 48.5px,#0071fc 52.5px,#0082fd 56.5px,#00aafe 60.5px,#00eef8 64.5px,#00ec9d 68.5px,#02e93b 72.5px,#30ed0f 76.5px,#85f011 80.5px,#ccef15 84.5px,#d5ee16 88.5px,#aff013 92.5px,#65f00f 96.5px,#1fed0f 100.5px,#00e949 104.5px,#00eeb4 108.5px,#00d2fb 112.5px,#0087fe 116.5px,#0056fb 120.5px,#0243f7 124.5px,#0146f8 128.5px,#004dfa 132.5px,#0056fb 136.5px,#0060fb 140.5px,#0069fc 144.5px,#0070fc 148.5px,#0074fd 152.5px,#0077fd 156.5px,#007afd 160.5px,#007cfd 164.5px,#007dfd 168.5px,#007dfd 172.5px,#007dfd 173.5px)"></i>
<i style="top:82px;height:2px;background:linear-gradient(90deg,#0050fa 0.5px,#0050fa 4.5px,#0050fa 8.5px,#0050fa 12.5px,#0051fa 16.5px,#0052fa 20.5px,#0053fb 24.5px,#0055fb 28.5px,#0057fb 32.5px,#0059fb 36.5px,#005bfb 40.5px,#0060fb 44.5px,#0067fc 48.5px,#0071fc 52.5px,#0081fd 56.5px,#00a8fe 60.5px,#00eff8 64.5px,#00ec98 68.5px,#06ea33 72.5px,#3eee0f 76.5px,#9df012 80.5px,#daee17 84.5px,#e5ed17 88.5px,#c5ef15 92.5px,#80f010 96.5px,#2eed0f 100.5px,#00e940 104.5px,#00eeb3 108.5px,#00d1fb 112.5px,#0087fe 116.5px,#0056fb 120.5px,#0243f7 124.5px,#0147f8 128.5px,#004dfa 132.5px,#0056fb 136.5px,#005ffb 140.5px,#0068fc 144.5px,#006efc 148.5px,#0073fc 152.5px,#0076fd 156.5px,#0079fd 160.5px,#007bfd 164.5px,#007cfd 168.5px,#007cfd 172.5px,#007cfd 173.5px)"></i>
<i style="top:84px;height:2px;background:linear-gradient(90deg,#0050fa 0.5px,#0050fa 4.5px,#0050fa 8.5px,#0050fa 12.5px,#0051fa 16.5px,#0052fa 20.5px,#0053fb 24.5px,#0055fb 28.5px,#0057fb 32.5px,#0059fb 36.5px,#005bfb 40.5px,#0060fb 44.5px,#0066fc 48.5px,#0071fc 52.5px,#0080fd 56.5px,#00a7fe 60.5px,#00f1f8 64.5px,#00ec90 68.5px,#0aea28 72.5px,#4fef0f 76.5px,#baf014 80.5px,#ebed18 84.5px,#f7ec19 88.5px,#daee17 92.5px,#a2f013 96.5px,#40ee0f 100.5px,#03e93a 104.5px,#00eeb2 108.5px,#00d0fb 112.5px,#0087fe 116.5px,#0056fb 120.5px,#0243f7 124.5px,#0147f8 128.5px,#004efa 132.5px,#0056fb 136.5px,#005ffb 140.5px,#0067fc 144.5px,#006dfc 148.5px,#0071fc 152.5px,#0075fd 156.5px,#0078fd 160.5px,#007afd 164.5px,#007bfd 168.5px,#007bfd 172.5px,#007bfd 173.5px)"></i>
<i style="top:86px;height:2px;background:linear-gradient(90deg,#0050fa 0.5px,#0050fa 4.5px,#0050fa 8.5px,#0050fa 12.5px,#0051fa 16.5px,#0052fa 20.5px,#0053fb 24.5px,#0055fb 28.5px,#0057fb 32.5px,#0059fb 36.5px,#005bfb 40.5px,#0060fb 44.5px,#0066fc 48.5px,#0071fc 52.5px,#007ffd 56.5px,#00a6fe 60.5px,#00f3f8 64.5px,#00eb87 68.5px,#0eeb1d 72.5px,#62f00f 76.5px,#ccef15 80.5px,#faea19 84.5px,#fbd418 88.5px,#f0ed18 92.5px,#c1f015 96.5px,#54ef0f 100.5px,#06ea33 104.5px,#00eeb1 108.5px,#00cffb 112.5px,#0087fe 116.5px,#0056fb 120.5px,#0243f7 124.5px,#0147f8 128.5px,#004ffa 132.5px,#0057fb 136.5px,#005ffb 140.5px,#0066fc 144.5px,#006cfc 148.5px,#0070fc 152.5px,#0074fd 156.5px,#0077fd 160.5px,#0079fd 164.5px,#007afd 168.5px,#007afd 172.5px,#007afd 173.5px)"></i>
<i style="top:88px;height:2px;background:linear-gradient(90deg,#0050fa 0.5px,#0050fa 4.5px,#0050fa 8.5px,#0050fa 12.5px,#0051fa 16.5px,#0052fa 20.5px,#0053fb 24.5px,#0055fb 28.5px,#0057fb 32.5px,#0059fb 36.5px,#005bfb 40.5px,#005ffb 44.5px,#0066fc 48.5px,#0071fc 52.5px,#007ffd 56.5px,#00a5fe 60.5px,#00f4f7 64.5px,#00eb80 68.5px,#12ec14 72.5px,#74f010 76.5px,#dcee17 80.5px,#fbd318 84.5px,#fbbb16 88.5px,#fade18 92.5px,#d5ee16 96.5px,#66f00f 100.5px,#08ea2c 104.5px,#00eeb0 108.5px,#00cefb 112.5px,#0087fe 116.5px,#0056fb 120.5px,#0243f7 124.5px,#0147f8 128.5px,#004ffa 132.5px,#0057fb 136.5px,#005efb 140.5px,#0065fc 144.5px,#006bfc 148.5px,#006ffc 152.5px,#0072fc 156.5px,#0075fd 160.5px,#0077fd 164.5px,#0078fd 168.5px,#0078fd 172.5px,#0078fd 173.5px)"></i>
<i style="top:90px;height:2px;background:linear-gradient(90deg,#0050fa 0.5px,#0050fa 4.5px,#0050fa 8.5px,#0050fa 12.5px,#0051fa 16.5px,#0052fa 20.5px,#0053fb 24.5px,#0055fb 28.5px,#0057fb 32.5px,#0059fb 36.5px,#005bfb 40.5px,#005ffb 44.5px,#0066fc 48.5px,#0071fc 52.5px,#007ffd 56.5px,#00a5fe 60.5px,#00f4f7 64.5px,#00eb7d 68.5px,#14ec0f 72.5px,#82f011 76.5px,#e8ed18 80.5px,#fbc217 84.5px,#fcaa15 88.5px,#fbc717 92.5px,#e4ed17 96.5px,#77f010 100.5px,#0beb25 104.5px,#00eeae 108.5px,#00cefb 112.5px,#0087fe 116.5px,#0056fb 120.5px,#0243f7 124.5px,#0147f8 128.5px,#0050fa 132.5px,#0057fb 136.5px,#005efb 140.5px,#0065fc 144.5px,#006afc 148.5px,#006efc 152.5px,#0071fc 156.5px,#0074fd 160.5px,#0076fd 164.5px,#0077fd 168.5px,#0077fd 172.5px,#0077fd 173.5px)"></i>
<i style="top:92px;height:2px;background:linear-gradient(90deg,#0050fa 0.5px,#0050fa 4.5px,#0050fa 8.5px,#0050fa 12.5px,#0051fa 16.5px,#0052fa 20.5px,#0053fb 24.5px,#0055fb 28.5px,#0057fb 32.5px,#0059fb 36.5px,#005bfb 40.5px,#0060fb 44.5px,#0067fc 48.5px,#0071fc 52.5px,#007ffd 56.5px,#00a5fe 60.5px,#00f4f7 64.5px,#00eb7d 68.5px,#15ec0f 72.5px,#8cf011 76.5px,#f0ed18 80.5px,#fbb616 84.5px,#fc9e14 88.5px,#fbb716 92.5px,#f0ed18 96.5px,#87f011 100.5px,#0eeb1e 104.5px,#00edab 108.5px,#00cffb 112.5px,#0087fe 116.5px,#0056fb 120.5px,#0144f7 124.5px,#0148f9 128.5px,#0050fa 132.5px,#0058fb 136.5px,#005efb 140.5px,#0064fc 144.5px,#0069fc 148.5px,#006dfc 152.5px,#0070fc 156.5px,#0073fd 160.5px,#0075fd 164.5px,#0076fd 168.5px,#0076fd 172.5px,#0076fd 173.5px)"></i>
<i style="top:94px;height:2px;background:linear-gradient(90deg,#0050fa 0.5px,#0050fa 4.5px,#0050fa 8.5px,#0050fa 12.5px,#0051fa 16.5px,#0052fa 20.5px,#0053fb 24.5px,#0055fb 28.5px,#0057fb 32.5px,#0059fb 36.5px,#005cfb 40.5px,#0060fb 44.5px,#0067fc 48.5px,#0071fc 52.5px,#007ffd 56.5px,#00a5fe 60.5px,#00f4f7 64.5px,#00eb7e 68.5px,#15ec0f 72.5px,#95f012 76.5px,#f7ec19 80.5px,#fbac15 84.5px,#fc9514 88.5px,#fcaa15 92.5px,#faeb19 96.5px,#97f012 100.5px,#11ec16 104.5px,#00eda6 108.5px,#00d0fb 112.5px,#0089fe 116.5px,#0058fb 120.5px,#0144f7 124.5px,#0148f9 128.5px,#0051fa 132.5px,#0058fb 136.5px,#005efb 140.5px,#0064fc 144.5px,#0069fc 148.5px,#006dfc 152.5px,#0070fc 156.5px,#0072fc 160.5px,#0074fd 164.5px,#0076fd 168.5px,#0076fd 172.5px,#0076fd 173.5px)"></i>
<i style="top:96px;height:2px;background:linear-gradient(90deg,#0050fa 0.5px,#0050fa 4.5px,#0050fa 8.5px,#0050fa 12.5px,#0051fa 16.5px,#0052fa 20.5px,#0054fb 24.5px,#0055fb 28.5px,#0057fb 32.5px,#0059fb 36.5px,#005cfb 40.5px,#0060fb 44.5px,#0067fc 48.5px,#0072fc 52.5px,#0080fd 56.5px,#00a5fe 60.5px,#00f4f8 64.5px,#00eb80 68.5px,#15ec0f 72.5px,#9df012 76.5px,#fae619 80.5px,#fca315 84.5px,#fb8c14 88.5px,#fc9e14 92.5px,#fadb18 96.5px,#a6f013 100.5px,#15ec0f 104.5px,#00ec9f 108.5px,#00d3fb 112.5px,#008bfe 116.5px,#005bfb 120.5px,#0145f8 124.5px,#0049f9 128.5px,#0051fa 132.5px,#0058fb 136.5px,#005efb 140.5px,#0064fc 144.5px,#0068fc 148.5px,#006cfc 152.5px,#006ffc 156.5px,#0072fc 160.5px,#0074fd 164.5px,#0075fd 168.5px,#0075fd 172.5px,#0075fd 173.5px)"></i>
<i style="top:98px;height:2px;background:linear-gradient(90deg,#0050fa 0.5px,#0050fa 4.5px,#0050fa 8.5px,#0050fa 12.5px,#0051fa 16.5px,#0052fa 20.5px,#0054fb 24.5px,#0055fb 28.5px,#0057fb 32.5px,#005afb 36.5px,#005cfb 40.5px,#0061fb 44.5px,#0068fc 48.5px,#0072fc 52.5px,#0081fd 56.5px,#00a6fe 60.5px,#00f3f8 64.5px,#00eb82 68.5px,#14ec0f 72.5px,#a4f013 76.5px,#fadd18 80.5px,#fc9b14 84.5px,#fb8414 88.5px,#fc9314 92.5px,#fbcc17 96.5px,#b5f014 100.5px,#1eec0f 104.5px,#00ec97 108.5px,#00d7fa 112.5px,#008efe 116.5px,#005efb 120.5px,#0147f8 124.5px,#0049f9 128.5px,#0052fa 132.5px,#0059fb 136.5px,#005ffb 140.5px,#0064fc 144.5px,#0068fc 148.5px,#006cfc 152.5px,#006ffc 156.5px,#0071fc 160.5px,#0073fd 164.5px,#0074fd 168.5px,#0074fd 172.5px,#0074fd 173.5px)"></i>
<i style="top:100px;height:2px;background:linear-gradient(90deg,#0050fa 0.5px,#0050fa 4.5px,#0050fa 8.5px,#0050fa 12.5px,#0051fa 16.5px,#0052fa 20.5px,#0054fb 24.5px,#0056fb 28.5px,#0058fb 32.5px,#005afb 36.5px,#005dfb 40.5px,#0062fb 44.5px,#0069fc 48.5px,#0073fd 52.5px,#0082fd 56.5px,#00a6fe 60.5px,#00f2f8 64.5px,#00eb84 68.5px,#14ec0f 72.5px,#abf013 76.5px,#fbd518 80.5px,#fc9414 84.5px,#fb7e14 88.5px,#fb8914 92.5px,#fbbf16 96.5px,#bff014 100.5px,#27ed0f 104.5px,#00ec90 108.5px,#00dbfa 112.5px,#0092fe 116.5px,#0062fb 120.5px,#0049f9 124.5px,#004afa 128.5px,#0052fa 132.5px,#0059fb 136.5px,#005ffb 140.5px,#0064fc 144.5px,#0068fc 148.5px,#006bfc 152.5px,#006efc 156.5px,#0070fc 160.5px,#0072fc 164.5px,#0073fd 168.5px,#0073fd 172.5px,#0073fd 173.5px)"></i>
<i style="top:102px;height:2px;background:linear-gradient(90deg,#0050fa 0.5px,#0050fa 4.5px,#0050fa 8.5px,#0050fa 12.5px,#0051fa 16.5px,#0053fa 20.5px,#0054fb 24.5px,#0056fb 28.5px,#0058fb 32.5px,#005bfb 36.5px,#005efb 40.5px,#0062fb 44.5px,#006afc 48.5px,#0074fd 52.5px,#0083fd 56.5px,#00a7fe 60.5px,#00f1f8 64.5px,#00eb87 68.5px,#14ec0f 72.5px,#b1f014 76.5px,#fbce17 80.5px,#fc8e14 84.5px,#fa7814 88.5px,#fb8014 92.5px,#fbb516 96.5px,#c6ef15 100.5px,#2fed0f 104.5px,#00eb88 108.5px,#00dffa 112.5px,#0095ff 116.5px,#0065fc 120.5px,#004afa 124.5px,#004bfa 128.5px,#0053fb 132.5px,#005afb 136.5px,#005ffb 140.5px,#0064fc 144.5px,#0067fc 148.5px,#006bfc 152.5px,#006dfc 156.5px,#0070fc 160.5px,#0072fc 164.5px,#0073fc 168.5px,#0073fc 172.5px,#0073fc 173.5px)"></i>
<i style="top:104px;height:2px;background:linear-gradient(90deg,#0050fa 0.5px,#0050fa 4.5px,#0050fa 8.5px,#0050fa 12.5px,#0051fa 16.5px,#0053fa 20.5px,#0054fb 24.5px,#0056fb 28.5px,#0059fb 32.5px,#005bfb 36.5px,#005efb 40.5px,#0063fb 44.5px,#006afc 48.5px,#0075fd 52.5px,#0084fe 56.5px,#00a7fe 60.5px,#00f0f8 64.5px,#00eb8a 68.5px,#14ec10 72.5px,#b7f014 76.5px,#fbc817 80.5px,#fb8914 84.5px,#fa7314 88.5px,#fa7a14 92.5px,#fbac15 96.5px,#cbef15 100.5px,#36ee0f 104.5px,#00eb82 108.5px,#00e2f9 112.5px,#0099ff 116.5px,#0069fc 120.5px,#004dfa 124.5px,#004dfa 128.5px,#0054fb 132.5px,#005afb 136.5px,#005ffb 140.5px,#0063fc 144.5px,#0067fc 148.5px,#006afc 152.5px,#006dfc 156.5px,#006ffc 160.5px,#0071fc 164.5px,#0072fc 168.5px,#0072fc 172.5px,#0072fc 173.5px)"></i>
<i style="top:106px;height:2px;background:linear-gradient(90deg,#0050fa 0.5px,#0050fa 4.5px,#0050fa 8.5px,#0051fa 12.5px,#0051fa 16.5px,#0053fa 20.5px,#0054fb 24.5px,#0056fb 28.5px,#0059fb 32.5px,#005bfb 36.5px,#005ffb 40.5px,#0064fc 44.5px,#006bfc 48.5px,#0076fd 52.5px,#0085fe 56.5px,#00a8fe 60.5px,#00eff8 64.5px,#00ec8c 68.5px,#14ec10 72.5px,#bbf014 76.5px,#fbc317 80.5px,#fb8514 84.5px,#fa7014 88.5px,#fa7614 92.5px,#fca715 96.5px,#cfef16 100.5px,#3aee0f 104.5px,#00eb7d 108.5px,#00e5f9 112.5px,#009bff 116.5px,#006cfc 120.5px,#0050fa 124.5px,#004efa 128.5px,#0055fb 132.5px,#005bfb 136.5px,#005ffb 140.5px,#0063fc 144.5px,#0067fc 148.5px,#006afc 152.5px,#006cfc 156.5px,#006efc 160.5px,#0070fc 164.5px,#0071fc 168.5px,#0071fc 172.5px,#0071fc 173.5px)"></i>
<i style="top:108px;height:2px;background:linear-gradient(90deg,#0050fa 0.5px,#0050fa 4.5px,#0050fa 8.5px,#0051fa 12.5px,#0051fa 16.5px,#0053fa 20.5px,#0055fb 24.5px,#0057fb 28.5px,#0059fb 32.5px,#005cfb 36.5px,#005ffb 40.5px,#0064fc 44.5px,#006cfc 48.5px,#0077fd 52.5px,#0085fe 56.5px,#00a8fe 60.5px,#00eef9 64.5px,#00ec8f 68.5px,#14ec0f 72.5px,#bef014 76.5px,#fbbf16 80.5px,#fb8214 84.5px,#fa6d14 88.5px,#fa7414 92.5px,#fca415 96.5px,#d2ee16 100.5px,#3dee0f 104.5px,#00eb7a 108.5px,#00e7f9 112.5px,#009dff 116.5px,#006ffc 120.5px,#0052fa 124.5px,#0050fa 128.5px,#0056fb 132.5px,#005bfb 136.5px,#0060fb 140.5px,#0063fc 144.5px,#0066fc 148.5px,#0069fc 152.5px,#006bfc 156.5px,#006dfc 160.5px,#006ffc 164.5px,#0070fc 168.5px,#0070fc 172.5px,#0070fc 173.5px)"></i>
<i style="top:110px;height:2px;background:linear-gradient(90deg,#0050fa 0.5px,#0050fa 4.5px,#0050fa 8.5px,#0051fa 12.5px,#0052fa 16.5px,#0053fa 20.5px,#0055fb 24.5px,#0057fb 28.5px,#0059fb 32.5px,#005cfb 36.5px,#005ffb 40.5px,#0064fc 44.5px,#006cfc 48.5px,#0077fd 52.5px,#0086fe 56.5px,#00a8fe 60.5px,#00ecf9 64.5px,#00ec92 68.5px,#15ec0f 72.5px,#c1f015 76.5px,#fbbc16 80.5px,#fb7f14 84.5px,#fa6b14 88.5px,#fa7314 92.5px,#fca215 96.5px,#d4ee16 100.5px,#40ee0f 104.5px,#00eb78 108.5px,#00e8f9 112.5px,#009fff 116.5px,#0072fc 120.5px,#0055fb 124.5px,#0052fa 128.5px,#0057fb 132.5px,#005cfb 136.5px,#0060fb 140.5px,#0064fc 144.5px,#0066fc 148.5px,#0068fc 152.5px,#006afc 156.5px,#006cfc 160.5px,#006dfc 164.5px,#006efc 168.5px,#006efc 172.5px,#006efc 173.5px)"></i>
<i style="top:112px;height:2px;background:linear-gradient(90deg,#0050fa 0.5px,#0050fa 4.5px,#0050fa 8.5px,#0051fa 12.5px,#0052fa 16.5px,#0053fa 20.5px,#0055fb 24.5px,#0057fb 28.5px,#0059fb 32.5px,#005cfb 36.5px,#0060fb 40.5px,#0065fc 44.5px,#006dfc 48.5px,#0078fd 52.5px,#0087fe 56.5px,#00a9fe 60.5px,#00e9f9 64.5px,#00ec96 68.5px,#16ec0f 72.5px,#c4ef15 76.5px,#fbb816 80.5px,#fb7d14 84.5px,#f96814 88.5px,#fa7114 92.5px,#fca015 96.5px,#d7ee16 100.5px,#42ee0f 104.5px,#00eb75 108.5px,#00eaf9 112.5px,#00a1ff 116.5px,#0075fd 120.5px,#0058fb 124.5px,#0054fb 128.5px,#0059fb 132.5px,#005dfb 136.5px,#0061fb 140.5px,#0064fc 144.5px,#0066fc 148.5px,#0068fc 152.5px,#0069fc 156.5px,#006bfc 160.5px,#006cfc 164.5px,#006cfc 168.5px,#006cfc 172.5px,#006cfc 173.5px)"></i>
<i style="top:114px;height:2px;background:linear-gradient(90deg,#0050fa 0.5px,#0050fa 4.5px,#0050fa 8.5px,#0051fa 12.5px,#0052fa 16.5px,#0053fb 20.5px,#0055fb 24.5px,#0057fb 28.5px,#005afb 32.5px,#005cfb 36.5px,#0060fb 40.5px,#0065fc 44.5px,#006dfc 48.5px,#0078fd 52.5px,#0087fe 56.5px,#00a9fe 60.5px,#00e7f9 64.5px,#00ec9a 68.5px,#18ec0f 72.5px,#c8ef15 76.5px,#fbb516 80.5px,#fa7a14 84.5px,#f96614 88.5px,#fa7014 92.5px,#fc9e14 96.5px,#d9ee16 100.5px,#45ee0f 104.5px,#00eb73 108.5px,#00ebf9 112.5px,#00a2fe 116.5px,#0078fd 120.5px,#005cfb 124.5px,#0057fb 128.5px,#005bfb 132.5px,#005ffb 136.5px,#0062fb 140.5px,#0064fc 144.5px,#0066fc 148.5px,#0067fc 152.5px,#0068fc 156.5px,#0069fc 160.5px,#006afc 164.5px,#006afc 168.5px,#006afc 172.5px,#006afc 173.5px)"></i>
<i style="top:116px;height:2px;background:linear-gradient(90deg,#0050fa 0.5px,#0050fa 4.5px,#0050fa 8.5px,#0051fa 12.5px,#0052fa 16.5px,#0053fb 20.5px,#0055fb 24.5px,#0057fb 28.5px,#005afb 32.5px,#005dfb 36.5px,#0060fb 40.5px,#0065fc 44.5px,#006dfc 48.5px,#0079fd 52.5px,#0088fe 56.5px,#00a9fe 60.5px,#00e4f9 64.5px,#00ec9e 68.5px,#19ec0f 72.5px,#cbef15 76.5px,#fbb216 80.5px,#fa7814 84.5px,#f96414 88.5px,#fa6f14 92.5px,#fc9c14 96.5px,#daee17 100.5px,#47ee0f 104.5px,#00eb71 108.5px,#00ecf9 112.5px,#00a4fe 116.5px,#007afd 120.5px,#005ffb 124.5px,#005afb 128.5px,#005dfb 132.5px,#0060fb 136.5px,#0063fb 140.5px,#0064fc 144.5px,#0065fc 148.5px,#0066fc 152.5px,#0067fc 156.5px,#0068fc 160.5px,#0068fc 164.5px,#0068fc 168.5px,#0068fc 172.5px,#0068fc 173.5px)"></i>
<i style="top:118px;height:2px;background:linear-gradient(90deg,#0050fa 0.5px,#0050fa 4.5px,#0050fa 8.5px,#0051fa 12.5px,#0052fa 16.5px,#0053fb 20.5px,#0055fb 24.5px,#0057fb 28.5px,#005afb 32.5px,#005dfb 36.5px,#0060fb 40.5px,#0066fc 44.5px,#006efc 48.5px,#0079fd 52.5px,#0089fe 56.5px,#00a9fe 60.5px,#00e1f9 64.5px,#00eda3 68.5px,#1bec0f 72.5px,#ceef16 76.5px,#fbaf15 80.5px,#fa7614 84.5px,#f96214 88.5px,#fa6e14 92.5px,#fc9b14 96.5px,#dcee17 100.5px,#48ee0f 104.5px,#00eb6f 108.5px,#00edf9 112.5px,#00a5fe 116.5px,#007dfd 120.5px,#0063fc 124.5px,#005dfb 128.5px,#005ffb 132.5px,#0062fb 136.5px,#0064fc 140.5px,#0065fc 144.5px,#0065fc 148.5px,#0066fc 152.5px,#0066fc 156.5px,#0066fc 160.5px,#0066fc 164.5px,#0066fc 168.5px,#0066fc 172.5px,#0066fc 173.5px)"></i>
<i style="top:120px;height:2px;background:linear-gradient(90deg,#0050fa 0.5px,#0050fa 4.5px,#0050fa 8.5px,#0051fa 12.5px,#0052fa 16.5px,#0053fb 20.5px,#0055fb 24.5px,#0057fb 28.5px,#005afb 32.5px,#005dfb 36.5px,#0061fb 40.5px,#0066fc 44.5px,#006efc 48.5px,#007afd 52.5px,#008afe 56.5px,#00aafe 60.5px,#00defa 64.5px,#00eda7 68.5px,#1dec0f 72.5px,#d0ef16 76.5px,#fbad15 80.5px,#fa7514 84.5px,#f96114 88.5px,#fa6d14 92.5px,#fc9914 96.5px,#ddee17 100.5px,#4aef0f 104.5px,#00ea6d 108.5px,#00eef8 112.5px,#00a7fe 116.5px,#0080fd 120.5px,#0067fc 124.5px,#0061fb 128.5px,#0062fb 132.5px,#0063fc 136.5px,#0065fc 140.5px,#0065fc 144.5px,#0065fc 148.5px,#0065fc 152.5px,#0065fc 156.5px,#0065fc 160.5px,#0064fc 164.5px,#0064fc 168.5px,#0064fc 172.5px,#0064fc 173.5px)"></i>
<i style="top:122px;height:2px;background:linear-gradient(90deg,#0050fa 0.5px,#0050fa 4.5px,#0050fa 8.5px,#0051fa 12.5px,#0052fa 16.5px,#0053fb 20.5px,#0055fb 24.5px,#0058fb 28.5px,#005afb 32.5px,#005dfb 36.5px,#0061fb 40.5px,#0067fc 44.5px,#006ffc 48.5px,#007afd 52.5px,#008afe 56.5px,#00aafe 60.5px,#00dcfa 64.5px,#00edaa 68.5px,#1fed0f 72.5px,#d2ee16 76.5px,#fcab15 80.5px,#fa7314 84.5px,#f96014 88.5px,#fa6c14 92.5px,#fc9814 96.5px,#deee17 100.5px,#4bef0f 104.5px,#00ea6c 108.5px,#00eff8 112.5px,#00a8fe 116.5px,#0083fe 120.5px,#006bfc 124.5px,#0064fc 128.5px,#0064fc 132.5px,#0065fc 136.5px,#0066fc 140.5px,#0065fc 144.5px,#0065fc 148.5px,#0064fc 152.5px,#0064fc 156.5px,#0063fb 160.5px,#0062fb 164.5px,#0061fb 168.5px,#0061fb 172.5px,#0061fb 173.5px)"></i>
<i style="top:124px;height:2px;background:linear-gradient(90deg,#0050fa 0.5px,#0050fa 4.5px,#0050fa 8.5px,#0051fa 12.5px,#0052fa 16.5px,#0053fb 20.5px,#0055fb 24.5px,#0058fb 28.5px,#005bfb 32.5px,#005efb 36.5px,#0061fb 40.5px,#0067fc 44.5px,#0070fc 48.5px,#007bfd 52.5px,#008bfe 56.5px,#00abfe 60.5px,#00dafa 64.5px,#00eead 68.5px,#21ed0f 72.5px,#d4ee16 76.5px,#fcaa15 80.5px,#fa7214 84.5px,#f95f14 88.5px,#fa6c14 92.5px,#fc9814 96.5px,#dfee17 100.5px,#4cef0f 104.5px,#00ea6b 108.5px,#00f1f8 112.5px,#00aafe 116.5px,#0087fe 120.5px,#0070fc 124.5px,#0068fc 128.5px,#0067fc 132.5px,#0066fc 136.5px,#0066fc 140.5px,#0065fc 144.5px,#0064fc 148.5px,#0063fc 152.5px,#0062fb 156.5px,#0061fb 160.5px,#0060fb 164.5px,#005ffb 168.5px,#005ffb 172.5px,#005ffb 173.5px)"></i>
<i style="top:126px;height:2px;background:linear-gradient(90deg,#0050fa 0.5px,#0050fa 4.5px,#0050fa 8.5px,#0051fa 12.5px,#0052fa 16.5px,#0053fb 20.5px,#0056fb 24.5px,#0058fb 28.5px,#005bfb 32.5px,#005efb 36.5px,#0062fb 40.5px,#0068fc 44.5px,#0070fc 48.5px,#007cfd 52.5px,#008cfe 56.5px,#00abfe 60.5px,#00d9fa 64.5px,#00eeae 68.5px,#23ed0f 72.5px,#d5ee16 76.5px,#fca915 80.5px,#fa7214 84.5px,#f95e14 88.5px,#fa6b14 92.5px,#fc9714 96.5px,#e0ee17 100.5px,#4def0f 104.5px,#00ea6a 108.5px,#00f2f8 112.5px,#00adfe 116.5px,#008afe 120.5px,#0074fd 124.5px,#006cfc 128.5px,#0069fc 132.5px,#0068fc 136.5px,#0067fc 140.5px,#0065fc 144.5px,#0064fc 148.5px,#0062fb 152.5px,#0061fb 156.5px,#005ffb 160.5px,#005efb 164.5px,#005cfb 168.5px,#005cfb 172.5px,#005cfb 173.5px)"></i>
<i style="top:128px;height:2px;background:linear-gradient(90deg,#0050fa 0.5px,#0050fa 4.5px,#0050fa 8.5px,#0051fa 12.5px,#0052fa 16.5px,#0054fb 20.5px,#0056fb 24.5px,#0058fb 28.5px,#005bfb 32.5px,#005ffb 36.5px,#0063fb 40.5px,#0069fc 44.5px,#0071fc 48.5px,#007dfd 52.5px,#008efe 56.5px,#00acfe 60.5px,#00d9fa 64.5px,#00eeaf 68.5px,#24ed0f 72.5px,#d6ee16 76.5px,#fca915 80.5px,#fa7214 84.5px,#f95e14 88.5px,#fa6b14 92.5px,#fc9714 96.5px,#e0ee17 100.5px,#4def0f 104.5px,#00ea6a 108.5px,#00f4f8 112.5px,#00affd 116.5px,#008efe 120.5px,#0079fd 124.5px,#0070fc 128.5px,#006cfc 132.5px,#0069fc 136.5px,#0067fc 140.5px,#0065fc 144.5px,#0063fc 148.5px,#0061fb 152.5px,#005ffb 156.5px,#005dfb 160.5px,#005bfb 164.5px,#005afb 168.5px,#005afb 172.5px,#005afb 173.5px)"></i>
<i style="top:130px;height:2px;background:linear-gradient(90deg,#0050fa 0.5px,#0050fa 4.5px,#0050fa 8.5px,#0051fa 12.5px,#0052fa 16.5px,#0054fb 20.5px,#0056fb 24.5px,#0059fb 28.5px,#005cfb 32.5px,#0060fb 36.5px,#0064fc 40.5px,#006afc 44.5px,#0073fd 48.5px,#007ffd 52.5px,#0090fe 56.5px,#00aefd 60.5px,#00dbfa 64.5px,#00edab 68.5px,#26ed0f 72.5px,#d5ee16 76.5px,#fcaa15 80.5px,#fa7214 84.5px,#f95e14 88.5px,#fa6c14 92.5px,#fc9814 96.5px,#deee17 100.5px,#4bef0f 104.5px,#00ea6a 108.5px,#00f4f5 112.5px,#00b3fd 116.5px,#0093ff 120.5px,#007efd 124.5px,#0074fd 128.5px,#006ffc 132.5px,#006afc 136.5px,#0067fc 140.5px,#0065fc 144.5px,#0063fb 148.5px,#0060fb 152.5px,#005dfb 156.5px,#005bfb 160.5px,#0059fb 164.5px,#0057fb 168.5px,#0057fb 172.5px,#0057fb 173.5px)"></i>
<i style="top:132px;height:2px;background:linear-gradient(90deg,#0051fa 0.5px,#0051fa 4.5px,#0051fa 8.5px,#0052fa 12.5px,#0053fb 16.5px,#0055fb 20.5px,#0058fb 24.5px,#005bfb 28.5px,#005efb 32.5px,#0062fb 36.5px,#0066fc 40.5px,#006dfc 44.5px,#0076fd 48.5px,#0081fd 52.5px,#0093fe 56.5px,#00b2fd 60.5px,#00e1fa 64.5px,#00eda3 68.5px,#28ed0f 72.5px,#d3ee16 76.5px,#fbad15 80.5px,#fa7314 84.5px,#f95f14 88.5px,#fa6d14 92.5px,#fc9b14 96.5px,#dbee17 100.5px,#46ee0f 104.5px,#00ea6c 108.5px,#00f3f1 112.5px,#00b9fd 116.5px,#009aff 120.5px,#0084fe 124.5px,#0079fd 128.5px,#0072fc 132.5px,#006cfc 136.5px,#0067fc 140.5px,#0064fc 144.5px,#0061fb 148.5px,#005efb 152.5px,#005bfb 156.5px,#0059fb 160.5px,#0056fb 164.5px,#0055fb 168.5px,#0055fb 172.5px,#0055fb 173.5px)"></i>
<i style="top:134px;height:2px;background:linear-gradient(90deg,#0052fa 0.5px,#0052fa 4.5px,#0052fa 8.5px,#0053fb 12.5px,#0055fb 16.5px,#0057fb 20.5px,#0059fb 24.5px,#005dfb 28.5px,#0060fb 32.5px,#0065fc 36.5px,#0069fc 40.5px,#0070fc 44.5px,#0079fd 48.5px,#0085fe 52.5px,#0097ff 56.5px,#00b7fd 60.5px,#00e9f9 64.5px,#00ec97 68.5px,#2bed0f 72.5px,#d1ef16 76.5px,#fbb116 80.5px,#fa7414 84.5px,#f96014 88.5px,#fa6e14 92.5px,#fc9f15 96.5px,#d7ee16 100.5px,#40ee0f 104.5px,#00ea6d 108.5px,#00f3ec 112.5px,#00c0fc 116.5px,#00a1ff 120.5px,#008cfe 124.5px,#007efd 128.5px,#0075fd 132.5px,#006efc 136.5px,#0067fc 140.5px,#0063fc 144.5px,#0060fb 148.5px,#005cfb 152.5px,#0059fb 156.5px,#0056fb 160.5px,#0053fb 164.5px,#0052fa 168.5px,#0052fa 172.5px,#0052fa 173.5px)"></i>
<i style="top:136px;height:2px;background:linear-gradient(90deg,#0053fb 0.5px,#0053fb 4.5px,#0054fb 8.5px,#0055fb 12.5px,#0056fb 16.5px,#0059fb 20.5px,#005cfb 24.5px,#005ffb 28.5px,#0063fc 32.5px,#0068fc 36.5px,#006dfc 40.5px,#0074fd 44.5px,#007dfd 48.5px,#0089fe 52.5px,#009cff 56.5px,#00bdfc 60.5px,#00f4f8 64.5px,#00eb89 68.5px,#2eed0f 72.5px,#cdef16 76.5px,#fbb616 80.5px,#fa7614 84.5px,#f96114 88.5px,#fa7014 92.5px,#fca515 96.5px,#d1ef16 100.5px,#37ee0f 104.5px,#00eb6f 108.5px,#00f2e6 112.5px,#00c8fb 116.5px,#00a9fe 120.5px,#0093ff 124.5px,#0084fe 128.5px,#0079fd 132.5px,#006ffc 136.5px,#0067fc 140.5px,#0062fb 144.5px,#005efb 148.5px,#005afb 152.5px,#0056fb 156.5px,#0053fb 160.5px,#0051fa 164.5px,#004ffa 168.5px,#004ffa 172.5px,#004ffa 173.5px)"></i>
<i style="top:138px;height:2px;background:linear-gradient(90deg,#0055fb 0.5px,#0055fb 4.5px,#0055fb 8.5px,#0057fb 12.5px,#0059fb 16.5px,#005bfb 20.5px,#005efb 24.5px,#0062fb 28.5px,#0067fc 32.5px,#006cfc 36.5px,#0072fc 40.5px,#0079fd 44.5px,#0082fd 48.5px,#008efe 52.5px,#00a1ff 56.5px,#00c4fc 60.5px,#00f3ea 64.5px,#00eb79 68.5px,#31ed0f 72.5px,#caef15 76.5px,#fbbd16 80.5px,#fa7814 84.5px,#f96214 88.5px,#fa7214 92.5px,#fcab15 96.5px,#cbef15 100.5px,#2eed0f 104.5px,#00eb72 108.5px,#00f2e1 112.5px,#00d0fb 116.5px,#00b2fd 120.5px,#009bff 124.5px,#008afe 128.5px,#007dfd 132.5px,#0071fc 136.5px,#0066fc 140.5px,#0061fb 144.5px,#005cfb 148.5px,#0057fb 152.5px,#0053fb 156.5px,#0050fa 160.5px,#004efa 164.5px,#004cfa 168.5px,#004cfa 172.5px,#004cfa 173.5px)"></i>
<i style="top:140px;height:2px;background:linear-gradient(90deg,#0057fb 0.5px,#0057fb 4.5px,#0058fb 8.5px,#0059fb 12.5px,#005bfb 16.5px,#005efb 20.5px,#0061fb 24.5px,#0066fc 28.5px,#006bfc 32.5px,#0071fc 36.5px,#0077fd 40.5px,#007efd 44.5px,#0087fe 48.5px,#0093fe 52.5px,#00a6fe 56.5px,#00ccfb 60.5px,#00f2db 64.5px,#00ea68 68.5px,#34ed0f 72.5px,#c6ef15 76.5px,#fbc317 80.5px,#fa7a14 84.5px,#f96414 88.5px,#fa7514 92.5px,#fbb216 96.5px,#c5ef15 100.5px,#25ed0f 104.5px,#00eb75 108.5px,#00f2db 112.5px,#00d9fa 116.5px,#00bafd 120.5px,#00a2fe 124.5px,#0090fe 128.5px,#0080fd 132.5px,#0072fc 136.5px,#0066fc 140.5px,#005ffb 144.5px,#0059fb 148.5px,#0054fb 152.5px,#0050fa 156.5px,#004dfa 160.5px,#004bfa 164.5px,#004afa 168.5px,#004af9 172.5px,#004af9 173.5px)"></i>
<i style="top:142px;height:2px;background:linear-gradient(90deg,#0059fb 0.5px,#0059fb 4.5px,#005afb 8.5px,#005cfb 12.5px,#005efb 16.5px,#0061fb 20.5px,#0065fc 24.5px,#006afc 28.5px,#006ffc 32.5px,#0075fd 36.5px,#007cfd 40.5px,#0083fe 44.5px,#008cfe 48.5px,#0098ff 52.5px,#00acfe 56.5px,#00d3fb 60.5px,#00f0ce 64.5px,#00ea59 68.5px,#37ee0f 72.5px,#c2ef15 76.5px,#fbca17 80.5px,#fb7d14 84.5px,#f96614 88.5px,#fa7814 92.5px,#fbb816 96.5px,#bef014 100.5px,#1cec0f 104.5px,#00eb78 108.5px,#00f1d6 112.5px,#00e0fa 116.5px,#00c1fc 120.5px,#00a9fe 124.5px,#0095ff 128.5px,#0084fe 132.5px,#0074fd 136.5px,#0066fc 140.5px,#005dfb 144.5px,#0057fb 148.5px,#0052fa 152.5px,#004dfa 156.5px,#004afa 160.5px,#0148f9 164.5px,#0148f9 168.5px,#0148f9 172.5px,#0148f9 173.5px)"></i>
<i style="top:144px;height:2px;background:linear-gradient(90deg,#005cfb 0.5px,#005cfb 4.5px,#005dfb 8.5px,#005ffb 12.5px,#0061fb 16.5px,#0065fc 20.5px,#0069fc 24.5px,#006efc 28.5px,#0074fd 32.5px,#007afd 36.5px,#0081fd 40.5px,#0089fe 44.5px,#0091fe 48.5px,#009dff 52.5px,#00b1fd 56.5px,#00dafa 60.5px,#00efc1 64.5px,#00e94b 68.5px,#39ee0f 72.5px,#bef014 76.5px,#fbd017 80.5px,#fb7f14 84.5px,#f96814 88.5px,#fa7b14 92.5px,#fbbe16 96.5px,#b8f014 100.5px,#14ec0f 104.5px,#00eb7b 108.5px,#00f1d2 112.5px,#00e7f9 116.5px,#00c7fc 120.5px,#00aefd 124.5px,#0099ff 128.5px,#0086fe 132.5px,#0075fd 136.5px,#0065fc 140.5px,#005bfb 144.5px,#0054fb 148.5px,#004ffa 152.5px,#004bfa 156.5px,#0148f9 160.5px,#0146f8 164.5px,#0146f8 168.5px,#0146f8 172.5px,#0146f8 173.5px)"></i>
<i style="top:146px;height:2px;background:linear-gradient(90deg,#005ffb 0.5px,#005ffb 4.5px,#0060fb 8.5px,#0062fb 12.5px,#0065fc 16.5px,#0068fc 20.5px,#006cfc 24.5px,#0072fc 28.5px,#0078fd 32.5px,#007ffd 36.5px,#0087fe 40.5px,#008efe 44.5px,#0096ff 48.5px,#00a2fe 52.5px,#00b6fd 56.5px,#00e0fa 60.5px,#00eeb8 64.5px,#00e941 68.5px,#3bee0f 72.5px,#bbf014 76.5px,#fbd618 80.5px,#fb8214 84.5px,#fa6a14 88.5px,#fb7d14 92.5px,#fbc417 96.5px,#b0f013 100.5px,#12ec15 104.5px,#00eb7d 108.5px,#00f0ce 112.5px,#00ecf9 116.5px,#00ccfb 120.5px,#00b2fd 124.5px,#009cff 128.5px,#0088fe 132.5px,#0076fd 136.5px,#0065fc 140.5px,#0059fb 144.5px,#0052fa 148.5px,#004cfa 152.5px,#0148f9 156.5px,#0146f8 160.5px,#0144f7 164.5px,#0144f7 168.5px,#0144f7 172.5px,#0144f7 173.5px)"></i>
<i style="top:148px;height:2px;background:linear-gradient(90deg,#0062fb 0.5px,#0062fb 4.5px,#0063fb 8.5px,#0065fc 12.5px,#0068fc 16.5px,#006cfc 20.5px,#0071fc 24.5px,#0076fd 28.5px,#007dfd 32.5px,#0084fe 36.5px,#008bfe 40.5px,#0093fe 44.5px,#009bff 48.5px,#00a7fe 52.5px,#00bbfd 56.5px,#00e5f9 60.5px,#00eeb2 64.5px,#02e93d 68.5px,#3cee0f 72.5px,#b7f014 76.5px,#fadb18 80.5px,#fb8514 84.5px,#fa6c14 88.5px,#fb8014 92.5px,#fbc917 96.5px,#abf013 100.5px,#10eb18 104.5px,#00eb80 108.5px,#00f0cc 112.5px,#00eff8 116.5px,#00cffb 120.5px,#00b5fd 124.5px,#009eff 128.5px,#008afe 132.5px,#0076fd 136.5px,#0064fc 140.5px,#0057fb 144.5px,#004ffa 148.5px,#004afa 152.5px,#0146f8 156.5px,#0144f7 160.5px,#0242f6 164.5px,#0242f6 168.5px,#0242f6 172.5px,#0242f6 173.5px)"></i>
<i style="top:150px;height:2px;background:linear-gradient(90deg,#0066fc 0.5px,#0066fc 4.5px,#0067fc 8.5px,#006afc 12.5px,#006dfc 16.5px,#0071fc 20.5px,#0076fd 24.5px,#007bfd 28.5px,#0082fd 32.5px,#0089fe 36.5px,#0090fe 40.5px,#0097ff 44.5px,#00a0ff 48.5px,#00abfe 52.5px,#00bffc 56.5px,#00e9f9 60.5px,#00eeaf 64.5px,#02e93c 68.5px,#3cee0f 72.5px,#b4f014 76.5px,#fadf18 80.5px,#fb8814 84.5px,#fa6f14 88.5px,#fb8314 92.5px,#fbcc17 96.5px,#a7f013 100.5px,#10eb1a 104.5px,#00eb82 108.5px,#00f0cc 112.5px,#00eff8 116.5px,#00cffb 120.5px,#00b5fd 124.5px,#009eff 128.5px,#008afe 132.5px,#0076fd 136.5px,#0063fc 140.5px,#0055fb 144.5px,#004dfa 148.5px,#0148f9 152.5px,#0145f7 156.5px,#0242f6 160.5px,#0240f6 164.5px,#0240f5 168.5px,#0240f5 172.5px,#0240f5 173.5px)"></i>
<i style="top:152px;height:2px;background:linear-gradient(90deg,#006cfc 0.5px,#006cfc 4.5px,#006efc 8.5px,#0071fc 12.5px,#0074fd 16.5px,#0078fd 20.5px,#007dfd 24.5px,#0082fd 28.5px,#0088fe 32.5px,#008ffe 36.5px,#0096ff 40.5px,#009dff 44.5px,#00a5fe 48.5px,#00b0fd 52.5px,#00c3fc 56.5px,#00ecf9 60.5px,#00eeaf 64.5px,#02e93d 68.5px,#3bee0f 72.5px,#b1f014 76.5px,#fae218 80.5px,#fc8d14 84.5px,#fa7414 88.5px,#fb8614 92.5px,#fbce17 96.5px,#a6f013 100.5px,#0feb1a 104.5px,#00eb84 108.5px,#00f0ce 112.5px,#00edf9 116.5px,#00cefb 120.5px,#00b4fd 124.5px,#009eff 128.5px,#0089fe 132.5px,#0075fd 136.5px,#0062fb 140.5px,#0053fa 144.5px,#004afa 148.5px,#0146f8 152.5px,#0242f7 156.5px,#0240f5 160.5px,#033ef5 164.5px,#033df5 168.5px,#033df5 172.5px,#033df5 173.5px)"></i>
<i style="top:154px;height:2px;background:linear-gradient(90deg,#0076fd 0.5px,#0076fd 4.5px,#0078fd 8.5px,#007bfd 12.5px,#007efd 16.5px,#0082fd 20.5px,#0086fe 24.5px,#008bfe 28.5px,#0090fe 32.5px,#0096ff 36.5px,#009cff 40.5px,#00a2fe 44.5px,#00aafe 48.5px,#00b5fd 52.5px,#00c7fc 56.5px,#00eff8 60.5px,#00eeae 64.5px,#01e93f 68.5px,#38ee0f 72.5px,#aff013 76.5px,#fae519 80.5px,#fc9314 84.5px,#fa7a14 88.5px,#fb8914 92.5px,#fbd017 96.5px,#a5f013 100.5px,#0feb1b 104.5px,#00eb87 108.5px,#00f1d3 112.5px,#00e9f9 116.5px,#00cbfb 120.5px,#00b3fd 124.5px,#009cff 128.5px,#0086fe 132.5px,#0072fc 136.5px,#0060fb 140.5px,#0050fa 144.5px,#0148f9 148.5px,#0144f7 152.5px,#0240f6 156.5px,#033ef5 160.5px,#033cf4 164.5px,#033bf4 168.5px,#033bf4 172.5px,#033bf4 173.5px)"></i>
<i style="top:156px;height:2px;background:linear-gradient(90deg,#007ffd 0.5px,#0080fd 4.5px,#0081fd 8.5px,#0084fe 12.5px,#0088fe 16.5px,#008bfe 20.5px,#008ffe 24.5px,#0093fe 28.5px,#0097ff 32.5px,#009cff 36.5px,#00a1ff 40.5px,#00a7fe 44.5px,#00affd 48.5px,#00b9fd 52.5px,#00cbfb 56.5px,#00f2f8 60.5px,#00eeae 64.5px,#00e942 68.5px,#35ee0f 72.5px,#adf013 76.5px,#fae819 80.5px,#fc9914 84.5px,#fb8114 88.5px,#fb8c14 92.5px,#fbd217 96.5px,#a4f013 100.5px,#0feb1b 104.5px,#00eb8a 108.5px,#00f1d8 112.5px,#00e4f9 116.5px,#00c7fc 120.5px,#00b0fd 124.5px,#009aff 128.5px,#0083fe 132.5px,#006ffc 136.5px,#005dfb 140.5px,#004efa 144.5px,#0147f8 148.5px,#0242f6 152.5px,#033ef5 156.5px,#033cf4 160.5px,#033af3 164.5px,#0439f3 168.5px,#0439f3 172.5px,#0439f3 173.5px)"></i>
<i style="top:158px;height:2px;background:linear-gradient(90deg,#0087fe 0.5px,#0087fe 4.5px,#0089fe 8.5px,#008cfe 12.5px,#008ffe 16.5px,#0093fe 20.5px,#0096ff 24.5px,#0099ff 28.5px,#009cff 32.5px,#00a0ff 36.5px,#00a5fe 40.5px,#00abfe 44.5px,#00b2fd 48.5px,#00bcfc 52.5px,#00cefb 56.5px,#00f3f8 60.5px,#00eeaf 64.5px,#00e947 68.5px,#32ed0f 72.5px,#aaf013 76.5px,#faea19 80.5px,#fc9d14 84.5px,#fb8614 88.5px,#fc9014 92.5px,#fbd518 96.5px,#a3f013 100.5px,#0feb1b 104.5px,#00ec8d 108.5px,#00f2df 112.5px,#00defa 116.5px,#00c3fc 120.5px,#00aefe 124.5px,#0098ff 128.5px,#007ffd 132.5px,#006bfc 136.5px,#0059fb 140.5px,#004bfa 144.5px,#0145f7 148.5px,#0240f6 152.5px,#033df4 156.5px,#033af3 160.5px,#0438f2 164.5px,#0438f2 168.5px,#0437f2 172.5px,#0437f2 173.5px)"></i>
<i style="top:160px;height:2px;background:linear-gradient(90deg,#008afe 0.5px,#008afe 4.5px,#008cfe 8.5px,#008ffe 12.5px,#0092fe 16.5px,#0095ff 20.5px,#0098ff 24.5px,#009bff 28.5px,#009eff 32.5px,#00a2fe 36.5px,#00a6fe 40.5px,#00abfe 44.5px,#00b3fd 48.5px,#00bdfc 52.5px,#00cffb 56.5px,#00f4f8 60.5px,#00eeaf 64.5px,#00e94c 68.5px,#2ded0f 72.5px,#a7f013 76.5px,#faeb19 80.5px,#fc9f15 84.5px,#fb8a14 88.5px,#fc9514 92.5px,#fad818 96.5px,#a0f012 100.5px,#0feb1c 104.5px,#00ec91 108.5px,#00f2e5 112.5px,#00d8fa 116.5px,#00befc 120.5px,#00aafe 124.5px,#0094ff 128.5px,#007bfd 132.5px,#0066fc 136.5px,#0056fb 140.5px,#0049f9 144.5px,#0243f7 148.5px,#023ff5 152.5px,#033cf4 156.5px,#0439f3 160.5px,#0437f2 164.5px,#0437f2 168.5px,#0437f2 172.5px,#0437f2 173.5px)"></i>
<i style="top:162px;height:2px;background:linear-gradient(90deg,#0087fe 0.5px,#0087fe 4.5px,#0089fe 8.5px,#008bfe 12.5px,#008efe 16.5px,#0091fe 20.5px,#0094ff 24.5px,#0097ff 28.5px,#009aff 32.5px,#009dff 36.5px,#00a1ff 40.5px,#00a6fe 44.5px,#00aefe 48.5px,#00b9fd 52.5px,#00ccfb 56.5px,#00f2f8 60.5px,#00eeb2 64.5px,#00ea53 68.5px,#28ed0f 72.5px,#a3f013 76.5px,#faec19 80.5px,#fca015 84.5px,#fb8c14 88.5px,#fc9b14 92.5px,#fadf18 96.5px,#9bf012 100.5px,#0eeb1e 104.5px,#00ec96 108.5px,#00f3ec 112.5px,#00d3fb 116.5px,#00b9fd 120.5px,#00a5fe 124.5px,#008ffe 128.5px,#0074fd 132.5px,#0060fb 136.5px,#0052fa 140.5px,#0147f8 144.5px,#0241f6 148.5px,#033ef5 152.5px,#033bf3 156.5px,#0438f3 160.5px,#0437f2 164.5px,#0437f2 168.5px,#0437f2 172.5px,#0437f2 173.5px)"></i>
<i style="top:164px;height:2px;background:linear-gradient(90deg,#007efd 0.5px,#007efd 4.5px,#0080fd 8.5px,#0082fd 12.5px,#0085fe 16.5px,#0087fe 20.5px,#0089fe 24.5px,#008cfe 28.5px,#008efe 32.5px,#0091fe 36.5px,#0095ff 40.5px,#009aff 44.5px,#00a1ff 48.5px,#00b0fd 52.5px,#00c7fc 56.5px,#00eef8 60.5px,#00eeb8 64.5px,#00ea5b 68.5px,#20ed0f 72.5px,#9df012 76.5px,#faec19 80.5px,#fc9f15 84.5px,#fc8d14 88.5px,#fca315 92.5px,#fae919 96.5px,#92f012 100.5px,#0ceb22 104.5px,#00ec9e 108.5px,#00f4f4 112.5px,#00cdfb 116.5px,#00b3fd 120.5px,#009eff 124.5px,#0086fe 128.5px,#006bfc 132.5px,#0059fb 136.5px,#004dfa 140.5px,#0145f7 144.5px,#0240f5 148.5px,#033cf4 152.5px,#033af3 156.5px,#0438f2 160.5px,#0437f2 164.5px,#0437f2 168.5px,#0437f2 172.5px,#0437f2 173.5px)"></i>
<i style="top:166px;height:2px;background:linear-gradient(90deg,#0071fc 0.5px,#0071fc 4.5px,#0072fc 8.5px,#0074fd 12.5px,#0075fd 16.5px,#0077fd 20.5px,#0079fd 24.5px,#007bfd 28.5px,#007dfd 32.5px,#007ffd 36.5px,#0082fd 40.5px,#0086fe 44.5px,#008efe 48.5px,#00a2fe 52.5px,#00befc 56.5px,#00e8f9 60.5px,#00efc0 64.5px,#00ea65 68.5px,#17ec0f 72.5px,#96f012 76.5px,#faec19 80.5px,#fc9f15 84.5px,#fc8e14 88.5px,#fbad15 92.5px,#f4ec19 96.5px,#85f011 100.5px,#0aeb28 104.5px,#00eda7 108.5px,#00eff8 112.5px,#00c6fc 116.5px,#00acfe 120.5px,#0094ff 124.5px,#007afd 128.5px,#0060fb 132.5px,#0050fa 136.5px,#0148f9 140.5px,#0242f6 144.5px,#033ef5 148.5px,#033bf4 152.5px,#0439f3 156.5px,#0438f2 160.5px,#0437f2 164.5px,#0437f2 168.5px,#0437f2 172.5px,#0437f2 173.5px)"></i>
<i style="top:168px;height:2px;background:linear-gradient(90deg,#0061fb 0.5px,#0061fb 4.5px,#0061fb 8.5px,#0062fb 12.5px,#0063fc 16.5px,#0064fc 20.5px,#0065fc 24.5px,#0067fc 28.5px,#0068fc 32.5px,#006bfc 36.5px,#006dfc 40.5px,#0070fc 44.5px,#0078fd 48.5px,#0093fe 52.5px,#00b4fd 56.5px,#00e1fa 60.5px,#00f0c8 64.5px,#00eb6f 68.5px,#12ec15 72.5px,#8ef011 76.5px,#faec19 80.5px,#fc9f15 84.5px,#fc8f14 88.5px,#fbb716 92.5px,#ebed18 96.5px,#77f010 100.5px,#08ea2d 104.5px,#00eeb0 108.5px,#00e8f9 112.5px,#00c0fc 116.5px,#00a4fe 120.5px,#008afe 124.5px,#006dfc 128.5px,#0054fb 132.5px,#0148f9 136.5px,#0144f7 140.5px,#0240f5 144.5px,#033df4 148.5px,#033af3 152.5px,#0439f3 156.5px,#0438f2 160.5px,#0437f2 164.5px,#0437f2 168.5px,#0437f2 172.5px,#0437f2 173.5px)"></i>
<i style="top:170px;height:2px;background:linear-gradient(90deg,#0058fb 0.5px,#0058fb 4.5px,#0058fb 8.5px,#0058fb 12.5px,#0058fb 16.5px,#0059fb 20.5px,#005afb 24.5px,#005bfb 28.5px,#005dfb 32.5px,#005ffb 36.5px,#0061fb 40.5px,#0064fc 44.5px,#006cfc 48.5px,#0089fe 52.5px,#00aefe 56.5px,#00dcfa 60.5px,#00f0cd 64.5px,#00eb74 68.5px,#10eb19 72.5px,#8af011 76.5px,#faec19 80.5px,#fc9f15 84.5px,#fc9014 88.5px,#fbbd16 92.5px,#e6ed17 96.5px,#70f00f 100.5px,#06ea31 104.5px,#00eeb5 108.5px,#00e3f9 112.5px,#00bdfc 116.5px,#00a0ff 120.5px,#0084fe 124.5px,#0066fc 128.5px,#004efa 132.5px,#0145f8 136.5px,#0241f6 140.5px,#033ef5 144.5px,#033cf4 148.5px,#033af3 152.5px,#0439f3 156.5px,#0438f2 160.5px,#0437f2 164.5px,#0437f2 168.5px,#0437f2 172.5px,#0437f2 173.5px)"></i>
<i style="top:172px;height:2px;background:linear-gradient(90deg,#0056fb 0.5px,#0056fb 4.5px,#0056fb 8.5px,#0057fb 12.5px,#0057fb 16.5px,#0058fb 20.5px,#0059fb 24.5px,#005afb 28.5px,#005bfb 32.5px,#005dfb 36.5px,#005ffb 40.5px,#0062fb 44.5px,#006afc 48.5px,#0088fe 52.5px,#00adfe 56.5px,#00dcfa 60.5px,#00f0ce 64.5px,#00eb75 68.5px,#10eb1a 72.5px,#8af011 76.5px,#faec19 80.5px,#fc9f15 84.5px,#fc9014 88.5px,#fbbe16 92.5px,#e5ed17 96.5px,#6ff00f 100.5px,#06ea31 104.5px,#00eeb6 108.5px,#00e3f9 112.5px,#00bcfc 116.5px,#00a0ff 120.5px,#0083fe 124.5px,#0065fc 128.5px,#004dfa 132.5px,#0144f7 136.5px,#0241f6 140.5px,#033ef5 144.5px,#033cf4 148.5px,#033af3 152.5px,#0439f3 156.5px,#0438f2 160.5px,#0437f2 164.5px,#0437f2 168.5px,#0437f2 172.5px,#0437f2 173.5px)"></i>
<i style="top:174px;height:2px;background:linear-gradient(90deg,#0056fb 0.5px,#0056fb 4.5px,#0056fb 8.5px,#0057fb 12.5px,#0057fb 16.5px,#0058fb 20.5px,#0059fb 24.5px,#005afb 28.5px,#005bfb 32.5px,#005dfb 36.5px,#005ffb 40.5px,#0062fb 44.5px,#006afc 48.5px,#0088fe 52.5px,#00adfe 56.5px,#00dcfa 60.5px,#00f0ce 64.5px,#00eb75 68.5px,#10eb1a 72.5px,#8af011 76.5px,#faec19 80.5px,#fc9f15 84.5px,#fc9014 88.5px,#fbbe16 92.5px,#e5ed17 96.5px,#6ff00f 100.5px,#06ea31 104.5px,#00eeb6 108.5px,#00e3f9 112.5px,#00bcfc 116.5px,#00a0ff 120.5px,#0083fe 124.5px,#0065fc 128.5px,#004dfa 132.5px,#0144f7 136.5px,#0241f6 140.5px,#033ef5 144.5px,#033cf4 148.5px,#033af3 152.5px,#0439f3 156.5px,#0438f2 160.5px,#0437f2 164.5px,#0437f2 168.5px,#0437f2 172.5px,#0437f2 173.5px)"></i></div></div>
<div class="cb" style="left:431px;top:20.5px;width:15px;height:163px;background:linear-gradient(180deg,#e41416 0.0%,#e91d15 2.5%,#ee2614 5.0%,#f33a14 7.5%,#f84e14 10.0%,#f96814 12.5%,#fb8114 15.0%,#fc9b14 17.5%,#fbb316 20.0%,#fbcb17 22.5%,#fae218 25.0%,#f1ed18 27.5%,#e2ed17 30.0%,#d4ee16 32.5%,#c5ef15 35.0%,#b4f014 37.5%,#9bf012 40.0%,#82f011 42.5%,#69f00f 45.0%,#51ef0f 47.5%,#3aee0f 50.0%,#22ed0f 52.5%,#11ec17 55.0%,#08ea2c 57.5%,#00e941 60.0%,#00ea61 62.5%,#00eb81 65.0%,#00eda2 67.5%,#00efc3 70.0%,#00f2e4 72.5%,#00e9f9 75.0%,#00cdfb 77.5%,#00b1fd 80.0%,#0095ff 82.5%,#0079fd 85.0%,#005cfb 87.5%,#0243f7 90.0%,#062eee 92.5%,#0a19e6 95.0%,#1410da 97.5%,#1e08cd 100.0%)"></div>
<div class="cb" style="left:717.9px;top:20.5px;width:15px;height:163px;background:linear-gradient(180deg,#e41416 0.0%,#e91d15 2.5%,#ee2614 5.0%,#f33a14 7.5%,#f84e14 10.0%,#f96814 12.5%,#fb8114 15.0%,#fc9b14 17.5%,#fbb316 20.0%,#fbcb17 22.5%,#fae218 25.0%,#f1ed18 27.5%,#e2ed17 30.0%,#d4ee16 32.5%,#c5ef15 35.0%,#b4f014 37.5%,#9bf012 40.0%,#82f011 42.5%,#69f00f 45.0%,#51ef0f 47.5%,#3aee0f 50.0%,#22ed0f 52.5%,#11ec17 55.0%,#08ea2c 57.5%,#00e941 60.0%,#00ea61 62.5%,#00eb81 65.0%,#00eda2 67.5%,#00efc3 70.0%,#00f2e4 72.5%,#00e9f9 75.0%,#00cdfb 77.5%,#00b1fd 80.0%,#0095ff 82.5%,#0079fd 85.0%,#005cfb 87.5%,#0243f7 90.0%,#062eee 92.5%,#0a19e6 95.0%,#1410da 97.5%,#1e08cd 100.0%)"></div>
<svg width="782" height="445" viewBox="0 0 782 445">
<text x="10.3" y="15.4" class="pl">a</text>
<text x="220.6" y="14.6" class="pl">b</text>
<text x="502.6" y="15.4" class="pl">c</text>
<text x="10.1" y="242.6" class="pl">d</text>
<text x="220.2" y="242.2" class="pl">e</text>
<text x="502.4" y="242.4" class="pl">f</text>
<defs><pattern id="hatch" patternUnits="userSpaceOnUse" width="7.4" height="8" patternTransform="rotate(27)"><rect width="7.4" height="8" fill="#def8f3"/><rect x="0" width="2.4" height="8" fill="#7ca398"/></pattern><marker id="ah" viewBox="0 0 10 10" refX="9" refY="5" markerWidth="9.2" markerHeight="9.2" markerUnits="userSpaceOnUse" orient="auto"><path d="M0,0 L10,5 L0,10 L2.5,5 Z" fill="#1a1a1a"/></marker></defs>
<line x1="31.1" y1="60.6" x2="31.1" y2="20" stroke="#303030" stroke-width="1.3" marker-end="url(#ah)"/>
<line x1="52.9" y1="60.6" x2="52.9" y2="20" stroke="#303030" stroke-width="1.3" marker-end="url(#ah)"/>
<line x1="74.6" y1="60.6" x2="74.6" y2="20" stroke="#303030" stroke-width="1.3" marker-end="url(#ah)"/>
<line x1="96.4" y1="60.6" x2="96.4" y2="20" stroke="#303030" stroke-width="1.3" marker-end="url(#ah)"/>
<line x1="118.2" y1="60.6" x2="118.2" y2="20" stroke="#303030" stroke-width="1.3" marker-end="url(#ah)"/>
<line x1="139.9" y1="60.6" x2="139.9" y2="20" stroke="#303030" stroke-width="1.3" marker-end="url(#ah)"/>
<line x1="161.7" y1="60.6" x2="161.7" y2="20" stroke="#303030" stroke-width="1.3" marker-end="url(#ah)"/>
<rect x="30.1" y="66.7" width="132.2" height="10.1" fill="url(#hatch)" stroke="#6e998e" stroke-width="1.1"/>
<text x="166" y="76.6" class="t95">Transducer</text>
<text x="55.2" y="92.3" class="t98">Planar emission</text>
<path d="M38.0,151.7 A108.5,108.5 0 0 0 154.0,151.7 L159.6,160.6 A119.0,119.0 0 0 1 32.4,160.6 Z" fill="url(#hatch)" stroke="#6e998e" stroke-width="1.1"/>
<line x1="43.5" y1="146.9" x2="59.5" y2="116.1" stroke="#303030" stroke-width="1.3" marker-end="url(#ah)"/>
<line x1="60.0" y1="153.1" x2="73.1" y2="119.3" stroke="#303030" stroke-width="1.3" marker-end="url(#ah)"/>
<line x1="78.6" y1="158.8" x2="85.5" y2="121.7" stroke="#303030" stroke-width="1.3" marker-end="url(#ah)"/>
<line x1="95.9" y1="160.5" x2="96.6" y2="123.5" stroke="#303030" stroke-width="1.3" marker-end="url(#ah)"/>
<line x1="114.4" y1="158.8" x2="107.7" y2="121.7" stroke="#303030" stroke-width="1.3" marker-end="url(#ah)"/>
<line x1="132.4" y1="153.1" x2="121.3" y2="119.3" stroke="#303030" stroke-width="1.3" marker-end="url(#ah)"/>
<line x1="149.0" y1="146.9" x2="134.9" y2="116.1" stroke="#303030" stroke-width="1.3" marker-end="url(#ah)"/>
<text x="166" y="157.5" class="t95">Transducer</text>
<text x="50.7" y="197.4" class="t98">Bend emission</text>
<rect x="254.5" y="20.2" width="161.3" height="163.0" fill="none" stroke="#203040" stroke-opacity="0.55" stroke-width="1"/>
<text x="249.3" y="25.6" class="tk" text-anchor="end">35</text>
<text x="249.3" y="52.5" class="tk" text-anchor="end">30</text>
<text x="249.3" y="79.4" class="tk" text-anchor="end">25</text>
<text x="249.3" y="106.3" class="tk" text-anchor="end">20</text>
<text x="249.3" y="133.2" class="tk" text-anchor="end">15</text>
<text x="249.3" y="160.1" class="tk" text-anchor="end">10</text>
<text x="268.4" y="196.8" class="tk" text-anchor="middle">4</text>
<line x1="268.4" y1="183.2" x2="268.4" y2="181.2" stroke="#203040" stroke-opacity="0.6" stroke-width="0.8"/>
<text x="284.7" y="196.8" class="tk" text-anchor="middle">3</text>
<line x1="284.7" y1="183.2" x2="284.7" y2="181.2" stroke="#203040" stroke-opacity="0.6" stroke-width="0.8"/>
<text x="300.9" y="196.8" class="tk" text-anchor="middle">2</text>
<line x1="300.9" y1="183.2" x2="300.9" y2="181.2" stroke="#203040" stroke-opacity="0.6" stroke-width="0.8"/>
<text x="317.2" y="196.8" class="tk" text-anchor="middle">1</text>
<line x1="317.2" y1="183.2" x2="317.2" y2="181.2" stroke="#203040" stroke-opacity="0.6" stroke-width="0.8"/>
<text x="333.5" y="196.8" class="tk" text-anchor="middle">0</text>
<line x1="333.5" y1="183.2" x2="333.5" y2="181.2" stroke="#203040" stroke-opacity="0.6" stroke-width="0.8"/>
<text x="349.8" y="196.8" class="tk" text-anchor="middle">1</text>
<line x1="349.8" y1="183.2" x2="349.8" y2="181.2" stroke="#203040" stroke-opacity="0.6" stroke-width="0.8"/>
<text x="366.0" y="196.8" class="tk" text-anchor="middle">2</text>
<line x1="366.0" y1="183.2" x2="366.0" y2="181.2" stroke="#203040" stroke-opacity="0.6" stroke-width="0.8"/>
<text x="382.3" y="196.8" class="tk" text-anchor="middle">3</text>
<line x1="382.3" y1="183.2" x2="382.3" y2="181.2" stroke="#203040" stroke-opacity="0.6" stroke-width="0.8"/>
<text x="398.6" y="196.8" class="tk" text-anchor="middle">4</text>
<line x1="398.6" y1="183.2" x2="398.6" y2="181.2" stroke="#203040" stroke-opacity="0.6" stroke-width="0.8"/>
<text x="335.2" y="212.6" class="tk" text-anchor="middle">Distance (mm)</text>
<text transform="translate(228.7,101.5) rotate(-90)" class="tk" text-anchor="middle">Distance (mm)</text>
<rect x="431.0" y="20.5" width="15" height="163" fill="none" stroke="#402020" stroke-opacity="0.5" stroke-width="1"/>
<text x="430.6" y="17.6" class="tkc">kPa</text>
<line x1="446.0" y1="20.5" x2="449.0" y2="20.5" stroke="#333" stroke-width="0.8"/>
<text x="450.8" y="23.9" class="tk">35</text>
<line x1="446.0" y1="36.8" x2="449.0" y2="36.8" stroke="#333" stroke-width="0.8"/>
<text x="450.8" y="40.2" class="tk">31.5</text>
<line x1="446.0" y1="53.1" x2="449.0" y2="53.1" stroke="#333" stroke-width="0.8"/>
<text x="450.8" y="56.5" class="tk">28</text>
<line x1="446.0" y1="69.4" x2="449.0" y2="69.4" stroke="#333" stroke-width="0.8"/>
<text x="450.8" y="72.8" class="tk">24.5</text>
<line x1="446.0" y1="85.7" x2="449.0" y2="85.7" stroke="#333" stroke-width="0.8"/>
<text x="450.8" y="89.1" class="tk">21</text>
<line x1="446.0" y1="102.0" x2="449.0" y2="102.0" stroke="#333" stroke-width="0.8"/>
<text x="450.8" y="105.4" class="tk">17.5</text>
<line x1="446.0" y1="118.3" x2="449.0" y2="118.3" stroke="#333" stroke-width="0.8"/>
<text x="450.8" y="121.7" class="tk">14</text>
<line x1="446.0" y1="134.6" x2="449.0" y2="134.6" stroke="#333" stroke-width="0.8"/>
<text x="450.8" y="138.0" class="tk">10.5</text>
<line x1="446.0" y1="150.9" x2="449.0" y2="150.9" stroke="#333" stroke-width="0.8"/>
<text x="450.8" y="154.3" class="tk">7</text>
<line x1="446.0" y1="167.2" x2="449.0" y2="167.2" stroke="#333" stroke-width="0.8"/>
<text x="450.8" y="170.6" class="tk">3.5</text>
<line x1="446.0" y1="183.5" x2="449.0" y2="183.5" stroke="#333" stroke-width="0.8"/>
<text x="450.8" y="186.9" class="tk">0</text>
<rect x="541.4" y="20.2" width="161.3" height="163.0" fill="none" stroke="#203040" stroke-opacity="0.55" stroke-width="1"/>
<text x="536.2" y="25.6" class="tk" text-anchor="end">35</text>
<text x="536.2" y="52.5" class="tk" text-anchor="end">30</text>
<text x="536.2" y="79.4" class="tk" text-anchor="end">25</text>
<text x="536.2" y="106.3" class="tk" text-anchor="end">20</text>
<text x="536.2" y="133.2" class="tk" text-anchor="end">15</text>
<text x="536.2" y="160.1" class="tk" text-anchor="end">10</text>
<text x="555.3" y="196.8" class="tk" text-anchor="middle">4</text>
<line x1="555.3" y1="183.2" x2="555.3" y2="181.2" stroke="#203040" stroke-opacity="0.6" stroke-width="0.8"/>
<text x="571.6" y="196.8" class="tk" text-anchor="middle">3</text>
<line x1="571.6" y1="183.2" x2="571.6" y2="181.2" stroke="#203040" stroke-opacity="0.6" stroke-width="0.8"/>
<text x="587.8" y="196.8" class="tk" text-anchor="middle">2</text>
<line x1="587.8" y1="183.2" x2="587.8" y2="181.2" stroke="#203040" stroke-opacity="0.6" stroke-width="0.8"/>
<text x="604.1" y="196.8" class="tk" text-anchor="middle">1</text>
<line x1="604.1" y1="183.2" x2="604.1" y2="181.2" stroke="#203040" stroke-opacity="0.6" stroke-width="0.8"/>
<text x="620.4" y="196.8" class="tk" text-anchor="middle">0</text>
<line x1="620.4" y1="183.2" x2="620.4" y2="181.2" stroke="#203040" stroke-opacity="0.6" stroke-width="0.8"/>
<text x="636.6" y="196.8" class="tk" text-anchor="middle">1</text>
<line x1="636.6" y1="183.2" x2="636.6" y2="181.2" stroke="#203040" stroke-opacity="0.6" stroke-width="0.8"/>
<text x="652.9" y="196.8" class="tk" text-anchor="middle">2</text>
<line x1="652.9" y1="183.2" x2="652.9" y2="181.2" stroke="#203040" stroke-opacity="0.6" stroke-width="0.8"/>
<text x="669.2" y="196.8" class="tk" text-anchor="middle">3</text>
<line x1="669.2" y1="183.2" x2="669.2" y2="181.2" stroke="#203040" stroke-opacity="0.6" stroke-width="0.8"/>
<text x="685.5" y="196.8" class="tk" text-anchor="middle">4</text>
<line x1="685.5" y1="183.2" x2="685.5" y2="181.2" stroke="#203040" stroke-opacity="0.6" stroke-width="0.8"/>
<text x="622.1" y="212.6" class="tk" text-anchor="middle">Distance (mm)</text>
<text transform="translate(515.6,101.5) rotate(-90)" class="tk" text-anchor="middle">Distance (mm)</text>
<rect x="717.9" y="20.5" width="15" height="163" fill="none" stroke="#402020" stroke-opacity="0.5" stroke-width="1"/>
<text x="717.5" y="17.6" class="tkc">kPa</text>
<line x1="732.9" y1="20.5" x2="735.9" y2="20.5" stroke="#333" stroke-width="0.8"/>
<text x="741.0" y="23.9" class="tk">35</text>
<line x1="732.9" y1="36.8" x2="735.9" y2="36.8" stroke="#333" stroke-width="0.8"/>
<text x="741.0" y="40.2" class="tk">31.5</text>
<line x1="732.9" y1="53.1" x2="735.9" y2="53.1" stroke="#333" stroke-width="0.8"/>
<text x="741.0" y="56.5" class="tk">28</text>
<line x1="732.9" y1="69.4" x2="735.9" y2="69.4" stroke="#333" stroke-width="0.8"/>
<text x="741.0" y="72.8" class="tk">24.5</text>
<line x1="732.9" y1="85.7" x2="735.9" y2="85.7" stroke="#333" stroke-width="0.8"/>
<text x="741.0" y="89.1" class="tk">21</text>
<line x1="732.9" y1="102.0" x2="735.9" y2="102.0" stroke="#333" stroke-width="0.8"/>
<text x="741.0" y="105.4" class="tk">17.5</text>
<line x1="732.9" y1="118.3" x2="735.9" y2="118.3" stroke="#333" stroke-width="0.8"/>
<text x="741.0" y="121.7" class="tk">14</text>
<line x1="732.9" y1="134.6" x2="735.9" y2="134.6" stroke="#333" stroke-width="0.8"/>
<text x="741.0" y="138.0" class="tk">10.5</text>
<line x1="732.9" y1="150.9" x2="735.9" y2="150.9" stroke="#333" stroke-width="0.8"/>
<text x="741.0" y="154.3" class="tk">7</text>
<line x1="732.9" y1="167.2" x2="735.9" y2="167.2" stroke="#333" stroke-width="0.8"/>
<text x="741.0" y="170.6" class="tk">3.5</text>
<line x1="732.9" y1="183.5" x2="735.9" y2="183.5" stroke="#333" stroke-width="0.8"/>
<text x="741.0" y="186.9" class="tk">0</text>
<line x1="109.4" y1="256" x2="109.4" y2="415.5" stroke="#333" stroke-width="1" stroke-dasharray="2,1.6"/>
<path d="M37.6,277.9 L134.7,277.9 L162.3,303.6 L162.3,332.7 L37.6,332.7 Z" fill="#dcdcd9" stroke="#2b2b2b" stroke-width="1.6"/>
<rect x="10.4" y="332.7" width="195.9" height="65" fill="#b6c5d3" stroke="#2b2b2b" stroke-width="1.6"/>
<line x1="109.4" y1="256" x2="109.4" y2="415.5" stroke="#333" stroke-width="1" stroke-dasharray="2,1.6"/>
<line x1="135.4" y1="275.9" x2="164.2" y2="302.6" stroke="#6b9d8e" stroke-width="4.0"/>
<polyline points="163.2,303.2 187.6,332.4 205.9,348.4" fill="none" stroke="#5a5a5a" stroke-width="0.8"/>
<path d="M177.4,332.4 Q176.9,326.5 178.6,322.8" fill="none" stroke="#4a4a4a" stroke-width="1.1"/>
<line x1="174" y1="327.5" x2="139.9" y2="353.8" stroke="#222" stroke-width="1"/>
<line x1="147.2" y1="291.2" x2="110" y2="331.6" stroke="#1a1a1a" stroke-width="1.1" marker-end="url(#ah3)"/>
<line x1="109.4" y1="332.4" x2="84" y2="382" stroke="#1a1a1a" stroke-width="1.4" marker-end="url(#ah2)"/>
<defs><marker id="ah3" viewBox="0 0 10 10" refX="9" refY="5" markerWidth="7.5" markerHeight="7.5" markerUnits="userSpaceOnUse" orient="auto"><path d="M0,0.5 L10,5 L0,9.5 L2.5,5 Z" fill="#1a1a1a"/></marker></defs>
<defs><marker id="ah2" viewBox="0 0 10 10" refX="9" refY="5" markerWidth="10" markerHeight="10" markerUnits="userSpaceOnUse" orient="auto"><path d="M0,0.6 L10,5 L0,9.4 L2.8,5 Z" fill="#1a1a1a"/></marker></defs>
<path d="M109.4,317.0 A15,15 0 0 1 120.1,321.9" fill="none" stroke="#222" stroke-width="1"/>
<path d="M109.4,351.0 A18.6,18.6 0 0 1 100.7,348.9" fill="none" stroke="#222" stroke-width="1"/>
<text x="57.4" y="293.8" class="t9">Wedge</text>
<text x="43.6" y="325.8" class="t9">(<tspan class="pi">p</tspan><tspan font-size="6" dy="1.8">l</tspan><tspan dy="-1.8">,</tspan><tspan class="pi">c</tspan>)</text>
<text x="45" y="345.4" class="t9">(<tspan class="pi">p</tspan><tspan font-size="6" dy="1.8">e</tspan><tspan dy="-1.8">,</tspan><tspan class="pi">c</tspan><tspan font-size="6" dy="1.8">t</tspan><tspan dy="-1.8">)</tspan></text>
<text x="113.6" y="311.2" class="t9"><tspan class="mi" font-size="10.5">θ</tspan><tspan font-size="6" dy="2">i</tspan></text>
<text x="141" y="311.0" class="t9"><tspan class="pi" font-size="10.5">p</tspan><tspan font-size="6" dy="2">i</tspan></text>
<text x="98.6" y="361.0" class="t9"><tspan class="mi" font-size="10.5">θ</tspan><tspan font-size="6" dy="2">t</tspan></text>
<text x="71.5" y="381.3" class="t9"><tspan class="pi" font-size="10.5">p</tspan><tspan font-size="6" dy="2">t</tspan></text>
<text x="18.5" y="390.6" class="t9">Pipe</text>
<text x="133.1" y="364.6" class="t9">Wedge angle</text>
<line x1="254.5" y1="237.5" x2="459.5" y2="237.5" stroke="#555" stroke-width="1"/>
<line x1="254.5" y1="237.5" x2="254.5" y2="404.5" stroke="#a8a8a8" stroke-width="1"/>
<line x1="254.5" y1="404.5" x2="459.5" y2="404.5" stroke="#555" stroke-width="1"/>
<line x1="459.5" y1="237.5" x2="459.5" y2="404.5" stroke="#c2a6b3" stroke-width="1"/>
<line x1="254.5" y1="404.5" x2="254.5" y2="402.0" stroke="#555" stroke-width="0.8"/>
<line x1="254.5" y1="237.5" x2="254.5" y2="240.0" stroke="#555" stroke-width="0.8"/>
<text x="254.5" y="417.1" class="tk" text-anchor="middle">0</text>
<line x1="277.2" y1="404.5" x2="277.2" y2="402.0" stroke="#555" stroke-width="0.8"/>
<line x1="277.2" y1="237.5" x2="277.2" y2="240.0" stroke="#555" stroke-width="0.8"/>
<text x="277.2" y="417.1" class="tk" text-anchor="middle">10</text>
<line x1="300.0" y1="404.5" x2="300.0" y2="402.0" stroke="#555" stroke-width="0.8"/>
<line x1="300.0" y1="237.5" x2="300.0" y2="240.0" stroke="#555" stroke-width="0.8"/>
<text x="300.0" y="417.1" class="tk" text-anchor="middle">20</text>
<line x1="322.8" y1="404.5" x2="322.8" y2="402.0" stroke="#555" stroke-width="0.8"/>
<line x1="322.8" y1="237.5" x2="322.8" y2="240.0" stroke="#555" stroke-width="0.8"/>
<text x="322.8" y="417.1" class="tk" text-anchor="middle">30</text>
<line x1="345.5" y1="404.5" x2="345.5" y2="402.0" stroke="#555" stroke-width="0.8"/>
<line x1="345.5" y1="237.5" x2="345.5" y2="240.0" stroke="#555" stroke-width="0.8"/>
<text x="345.5" y="417.1" class="tk" text-anchor="middle">40</text>
<line x1="368.2" y1="404.5" x2="368.2" y2="402.0" stroke="#555" stroke-width="0.8"/>
<line x1="368.2" y1="237.5" x2="368.2" y2="240.0" stroke="#555" stroke-width="0.8"/>
<text x="368.2" y="417.1" class="tk" text-anchor="middle">50</text>
<line x1="391.0" y1="404.5" x2="391.0" y2="402.0" stroke="#555" stroke-width="0.8"/>
<line x1="391.0" y1="237.5" x2="391.0" y2="240.0" stroke="#555" stroke-width="0.8"/>
<text x="391.0" y="417.1" class="tk" text-anchor="middle">60</text>
<line x1="413.8" y1="404.5" x2="413.8" y2="402.0" stroke="#555" stroke-width="0.8"/>
<line x1="413.8" y1="237.5" x2="413.8" y2="240.0" stroke="#555" stroke-width="0.8"/>
<text x="413.8" y="417.1" class="tk" text-anchor="middle">70</text>
<line x1="436.5" y1="404.5" x2="436.5" y2="402.0" stroke="#555" stroke-width="0.8"/>
<line x1="436.5" y1="237.5" x2="436.5" y2="240.0" stroke="#555" stroke-width="0.8"/>
<text x="436.5" y="417.1" class="tk" text-anchor="middle">80</text>
<line x1="459.2" y1="404.5" x2="459.2" y2="402.0" stroke="#555" stroke-width="0.8"/>
<line x1="459.2" y1="237.5" x2="459.2" y2="240.0" stroke="#555" stroke-width="0.8"/>
<text x="459.2" y="417.1" class="tk" text-anchor="middle">90</text>
<line x1="254.5" y1="390.8" x2="257.5" y2="390.8" stroke="#a8a8a8" stroke-width="1"/>
<line x1="459.5" y1="390.8" x2="457.0" y2="390.8" stroke="#c2a6b3" stroke-width="0.8"/>
<text x="249.0" y="394.3" class="tkl" text-anchor="end">0</text>
<text x="465.5" y="394.3" class="tkr">0</text>
<line x1="254.5" y1="363.1" x2="257.5" y2="363.1" stroke="#a8a8a8" stroke-width="1"/>
<line x1="459.5" y1="363.1" x2="457.0" y2="363.1" stroke="#c2a6b3" stroke-width="0.8"/>
<text x="249.0" y="366.6" class="tkl" text-anchor="end">0.2</text>
<text x="465.5" y="366.6" class="tkr">0.2</text>
<line x1="254.5" y1="335.4" x2="257.5" y2="335.4" stroke="#a8a8a8" stroke-width="1"/>
<line x1="459.5" y1="335.4" x2="457.0" y2="335.4" stroke="#c2a6b3" stroke-width="0.8"/>
<text x="249.0" y="338.9" class="tkl" text-anchor="end">0.4</text>
<text x="465.5" y="338.9" class="tkr">0.4</text>
<line x1="254.5" y1="307.6" x2="257.5" y2="307.6" stroke="#a8a8a8" stroke-width="1"/>
<line x1="459.5" y1="307.6" x2="457.0" y2="307.6" stroke="#c2a6b3" stroke-width="0.8"/>
<text x="249.0" y="311.1" class="tkl" text-anchor="end">0.6</text>
<text x="465.5" y="311.1" class="tkr">0.6</text>
<line x1="254.5" y1="279.9" x2="257.5" y2="279.9" stroke="#a8a8a8" stroke-width="1"/>
<line x1="459.5" y1="279.9" x2="457.0" y2="279.9" stroke="#c2a6b3" stroke-width="0.8"/>
<text x="249.0" y="283.4" class="tkl" text-anchor="end">0.8</text>
<text x="465.5" y="283.4" class="tkr">0.8</text>
<line x1="254.5" y1="252.2" x2="257.5" y2="252.2" stroke="#a8a8a8" stroke-width="1"/>
<line x1="459.5" y1="252.2" x2="457.0" y2="252.2" stroke="#c2a6b3" stroke-width="0.8"/>
<text x="249.0" y="255.7" class="tkl" text-anchor="end">1</text>
<text x="465.5" y="255.7" class="tkr">1</text>
<text x="356.9" y="435.0" class="tk" text-anchor="middle">Wedge angle (°)</text>
<text transform="translate(227.2,320.8) rotate(-90)" class="tk" style="font-size:9.4px" text-anchor="middle">Frequency shift</text>
<text transform="translate(493.0,326) rotate(-90)" class="tk" font-size="8.6" style="font-size:8.6px" text-anchor="middle">Transmittance</text>
<polyline points="265.9,378.3 277.2,366.5 288.6,355.0 300.0,343.4 311.4,332.6 322.8,320.9 334.1,311.1 345.5,301.7 356.9,292.5 368.2,284.2 379.6,276.9 391.0,270.8 402.4,265.1 413.8,260.2 425.1,256.4 436.5,254.3 447.9,252.2" fill="none" stroke="#56706a" stroke-width="1"/>
<rect x="263.3" y="375.7" width="5.2" height="5.2" fill="#3a574d"/>
<rect x="274.6" y="363.9" width="5.2" height="5.2" fill="#3a574d"/>
<rect x="286.0" y="352.4" width="5.2" height="5.2" fill="#3a574d"/>
<rect x="297.4" y="340.8" width="5.2" height="5.2" fill="#3a574d"/>
<rect x="308.8" y="330.0" width="5.2" height="5.2" fill="#3a574d"/>
<rect x="320.1" y="318.3" width="5.2" height="5.2" fill="#3a574d"/>
<rect x="331.5" y="308.5" width="5.2" height="5.2" fill="#3a574d"/>
<rect x="342.9" y="299.1" width="5.2" height="5.2" fill="#3a574d"/>
<rect x="354.3" y="289.9" width="5.2" height="5.2" fill="#3a574d"/>
<rect x="365.6" y="281.6" width="5.2" height="5.2" fill="#3a574d"/>
<rect x="377.0" y="274.3" width="5.2" height="5.2" fill="#3a574d"/>
<rect x="388.4" y="268.2" width="5.2" height="5.2" fill="#3a574d"/>
<rect x="399.8" y="262.5" width="5.2" height="5.2" fill="#3a574d"/>
<rect x="411.1" y="257.6" width="5.2" height="5.2" fill="#3a574d"/>
<rect x="422.5" y="253.8" width="5.2" height="5.2" fill="#3a574d"/>
<rect x="433.9" y="251.7" width="5.2" height="5.2" fill="#3a574d"/>
<rect x="445.3" y="249.6" width="5.2" height="5.2" fill="#3a574d"/>
<polyline points="265.9,277.8 277.2,280.3 288.6,284.8 300.0,290.5 311.4,297.7 322.8,305.1 334.1,313.9 345.5,323.4 356.9,334.0 368.2,343.7 379.6,353.1 391.0,362.5 402.4,370.4 413.8,377.5 425.1,383.3 436.5,386.8 447.9,389.8" fill="none" stroke="#84405a" stroke-width="1"/>
<circle cx="265.9" cy="277.8" r="2.9" fill="#8e1a40"/>
<circle cx="277.2" cy="280.3" r="2.9" fill="#8e1a40"/>
<circle cx="288.6" cy="284.8" r="2.9" fill="#8e1a40"/>
<circle cx="300.0" cy="290.5" r="2.9" fill="#8e1a40"/>
<circle cx="311.4" cy="297.7" r="2.9" fill="#8e1a40"/>
<circle cx="322.8" cy="305.1" r="2.9" fill="#8e1a40"/>
<circle cx="334.1" cy="313.9" r="2.9" fill="#8e1a40"/>
<circle cx="345.5" cy="323.4" r="2.9" fill="#8e1a40"/>
<circle cx="356.9" cy="334.0" r="2.9" fill="#8e1a40"/>
<circle cx="368.2" cy="343.7" r="2.9" fill="#8e1a40"/>
<circle cx="379.6" cy="353.1" r="2.9" fill="#8e1a40"/>
<circle cx="391.0" cy="362.5" r="2.9" fill="#8e1a40"/>
<circle cx="402.4" cy="370.4" r="2.9" fill="#8e1a40"/>
<circle cx="413.8" cy="377.5" r="2.9" fill="#8e1a40"/>
<circle cx="425.1" cy="383.3" r="2.9" fill="#8e1a40"/>
<circle cx="436.5" cy="386.8" r="2.9" fill="#8e1a40"/>
<circle cx="447.9" cy="389.8" r="2.9" fill="#8e1a40"/>
<rect x="254.5" y="237.5" width="103" height="22" fill="#fff" stroke="#555" stroke-width="1"/>
<line x1="256.3" y1="244.4" x2="273.2" y2="244.4" stroke="#56776a" stroke-width="1"/>
<rect x="262.6" y="241.8" width="5.2" height="5.2" fill="#3a574d"/>
<line x1="256.3" y1="254.2" x2="273.2" y2="254.2" stroke="#8c3a55" stroke-width="1"/>
<circle cx="264.8" cy="254.2" r="2.9" fill="#8e1a40"/>
<text x="273.9" y="247.2" class="lg">Frequency shift</text>
<text x="273.9" y="257.0" class="lg">Intensity transmittance</text>
<line x1="541.5" y1="243.5" x2="738.5" y2="243.5" stroke="#555" stroke-width="1"/>
<line x1="541.5" y1="243.5" x2="541.5" y2="404.5" stroke="#a8a8a8" stroke-width="1"/>
<line x1="541.5" y1="404.5" x2="738.5" y2="404.5" stroke="#555" stroke-width="1"/>
<line x1="738.5" y1="243.5" x2="738.5" y2="404.5" stroke="#c2a6b3" stroke-width="1"/>
<line x1="541.5" y1="404.5" x2="541.5" y2="402.0" stroke="#555" stroke-width="0.8"/>
<line x1="541.5" y1="243.5" x2="541.5" y2="246.0" stroke="#555" stroke-width="0.8"/>
<text x="541.5" y="417.1" class="tk" text-anchor="middle">5</text>
<line x1="574.4" y1="404.5" x2="574.4" y2="402.0" stroke="#555" stroke-width="0.8"/>
<line x1="574.4" y1="243.5" x2="574.4" y2="246.0" stroke="#555" stroke-width="0.8"/>
<text x="574.4" y="417.1" class="tk" text-anchor="middle">10</text>
<line x1="607.2" y1="404.5" x2="607.2" y2="402.0" stroke="#555" stroke-width="0.8"/>
<line x1="607.2" y1="243.5" x2="607.2" y2="246.0" stroke="#555" stroke-width="0.8"/>
<text x="607.2" y="417.1" class="tk" text-anchor="middle">15</text>
<line x1="640.1" y1="404.5" x2="640.1" y2="402.0" stroke="#555" stroke-width="0.8"/>
<line x1="640.1" y1="243.5" x2="640.1" y2="246.0" stroke="#555" stroke-width="0.8"/>
<text x="640.1" y="417.1" class="tk" text-anchor="middle">20</text>
<line x1="673.0" y1="404.5" x2="673.0" y2="402.0" stroke="#555" stroke-width="0.8"/>
<line x1="673.0" y1="243.5" x2="673.0" y2="246.0" stroke="#555" stroke-width="0.8"/>
<text x="673.0" y="417.1" class="tk" text-anchor="middle">25</text>
<line x1="705.8" y1="404.5" x2="705.8" y2="402.0" stroke="#555" stroke-width="0.8"/>
<line x1="705.8" y1="243.5" x2="705.8" y2="246.0" stroke="#555" stroke-width="0.8"/>
<text x="705.8" y="417.1" class="tk" text-anchor="middle">30</text>
<line x1="738.7" y1="404.5" x2="738.7" y2="402.0" stroke="#555" stroke-width="0.8"/>
<line x1="738.7" y1="243.5" x2="738.7" y2="246.0" stroke="#555" stroke-width="0.8"/>
<text x="738.7" y="417.1" class="tk" text-anchor="middle">35</text>
<line x1="541.5" y1="394.0" x2="544.5" y2="394.0" stroke="#a8a8a8" stroke-width="1"/>
<line x1="738.5" y1="394.0" x2="736.0" y2="394.0" stroke="#c2a6b3" stroke-width="0.8"/>
<text x="536.2" y="397.5" class="tkl" text-anchor="end">−0.2</text>
<text x="745.0" y="397.5" class="tkr">−0.2</text>
<line x1="541.5" y1="374.0" x2="544.5" y2="374.0" stroke="#a8a8a8" stroke-width="1"/>
<line x1="738.5" y1="374.0" x2="736.0" y2="374.0" stroke="#c2a6b3" stroke-width="0.8"/>
<text x="536.2" y="377.5" class="tkl" text-anchor="end">0</text>
<text x="745.0" y="377.5" class="tkr">0</text>
<line x1="541.5" y1="354.0" x2="544.5" y2="354.0" stroke="#a8a8a8" stroke-width="1"/>
<line x1="738.5" y1="354.0" x2="736.0" y2="354.0" stroke="#c2a6b3" stroke-width="0.8"/>
<text x="536.2" y="357.5" class="tkl" text-anchor="end">0.2</text>
<text x="745.0" y="357.5" class="tkr">0.2</text>
<line x1="541.5" y1="334.0" x2="544.5" y2="334.0" stroke="#a8a8a8" stroke-width="1"/>
<line x1="738.5" y1="334.0" x2="736.0" y2="334.0" stroke="#c2a6b3" stroke-width="0.8"/>
<text x="536.2" y="337.5" class="tkl" text-anchor="end">0.4</text>
<text x="745.0" y="337.5" class="tkr">0.4</text>
<line x1="541.5" y1="314.0" x2="544.5" y2="314.0" stroke="#a8a8a8" stroke-width="1"/>
<line x1="738.5" y1="314.0" x2="736.0" y2="314.0" stroke="#c2a6b3" stroke-width="0.8"/>
<text x="536.2" y="317.5" class="tkl" text-anchor="end">0.6</text>
<text x="745.0" y="317.5" class="tkr">0.6</text>
<line x1="541.5" y1="294.0" x2="544.5" y2="294.0" stroke="#a8a8a8" stroke-width="1"/>
<line x1="738.5" y1="294.0" x2="736.0" y2="294.0" stroke="#c2a6b3" stroke-width="0.8"/>
<text x="536.2" y="297.5" class="tkl" text-anchor="end">0.8</text>
<text x="745.0" y="297.5" class="tkr">0.8</text>
<line x1="541.5" y1="274.0" x2="544.5" y2="274.0" stroke="#a8a8a8" stroke-width="1"/>
<line x1="738.5" y1="274.0" x2="736.0" y2="274.0" stroke="#c2a6b3" stroke-width="0.8"/>
<text x="536.2" y="277.5" class="tkl" text-anchor="end">1</text>
<text x="745.0" y="277.5" class="tkr">1</text>
<line x1="541.5" y1="254.0" x2="544.5" y2="254.0" stroke="#a8a8a8" stroke-width="1"/>
<line x1="738.5" y1="254.0" x2="736.0" y2="254.0" stroke="#c2a6b3" stroke-width="0.8"/>
<text x="536.2" y="257.5" class="tkl" text-anchor="end">1.2</text>
<text x="745.0" y="257.5" class="tkr">1.2</text>
<text x="640.1" y="434.2" class="tk" text-anchor="middle">Wedge angle (°)</text>
<text transform="translate(509.8,324.8) rotate(-90)" class="tk" style="font-size:9.6px" text-anchor="middle">Normalized frequency shift</text>
<text transform="translate(776.8,324.8) rotate(-90)" class="tk" style="font-size:9.6px" text-anchor="middle">Normalized voltage amplitude</text>
<polyline points="574.4,374.0 607.2,339.5 640.1,312.5 673.0,292.3 705.8,274.0" fill="none" stroke="#4f6a62" stroke-width="1.4"/>
<rect x="571.9" y="371.5" width="5.0" height="5.0" fill="#3a574d"/>
<rect x="604.7" y="337.0" width="5.0" height="5.0" fill="#3a574d"/>
<rect x="637.6" y="310.0" width="5.0" height="5.0" fill="#3a574d"/>
<rect x="670.5" y="289.8" width="5.0" height="5.0" fill="#3a574d"/>
<rect x="703.3" y="271.5" width="5.0" height="5.0" fill="#3a574d"/>
<polyline points="574.4,274.0 607.2,282.2 640.1,295.9 673.0,322.2 705.8,374.0" fill="none" stroke="#7e3550" stroke-width="1.4"/>
<circle cx="574.4" cy="274.0" r="2.85" fill="#8e1a40"/>
<circle cx="607.2" cy="282.2" r="2.85" fill="#8e1a40"/>
<circle cx="640.1" cy="295.9" r="2.85" fill="#8e1a40"/>
<circle cx="673.0" cy="322.2" r="2.85" fill="#8e1a40"/>
<circle cx="705.8" cy="374.0" r="2.85" fill="#8e1a40"/>
<rect x="541.5" y="243.5" width="99.5" height="21" fill="#fff" stroke="#555" stroke-width="1"/>
<line x1="543.3" y1="249.5" x2="560.2" y2="249.5" stroke="#56776a" stroke-width="1"/>
<rect x="549.2" y="246.9" width="5.2" height="5.2" fill="#3a574d"/>
<line x1="543.3" y1="259.8" x2="560.2" y2="259.8" stroke="#8c3a55" stroke-width="1"/>
<circle cx="551.8" cy="259.8" r="2.9" fill="#8e1a40"/>
<text x="564.8" y="252.3" class="lg2">Frequency shift</text>
<text x="564.8" y="262.5" class="lg2">Intensity transmittance</text>
<g opacity="0.62"><ellipse cx="583.4" cy="410.3" rx="8.4" ry="7.3" fill="#8c8c8c"/><path d="M578,415.5 L576.5,419 L581,416.5 Z" fill="#8c8c8c"/><ellipse cx="593.6" cy="418" rx="9" ry="6.7" fill="#999" stroke="#fff" stroke-width="1.3"/><path d="M598.5,423 L600.5,426 L596,424 Z" fill="#999"/><circle cx="580.3" cy="407.8" r="1.1" fill="#fff"/><circle cx="586.5" cy="407.8" r="1.1" fill="#fff"/><circle cx="590.5" cy="416.3" r="1.0" fill="#fff"/><circle cx="596.2" cy="416.3" r="1.0" fill="#fff"/></g>
<text y="421.3" class="wm"><tspan x="607.6">公众号</tspan><tspan x="679.6" y="418.9" class="wm3">·</tspan><tspan x="696.8" y="421.7" class="wm2">MEMS</tspan></text>
</svg></body></html>
